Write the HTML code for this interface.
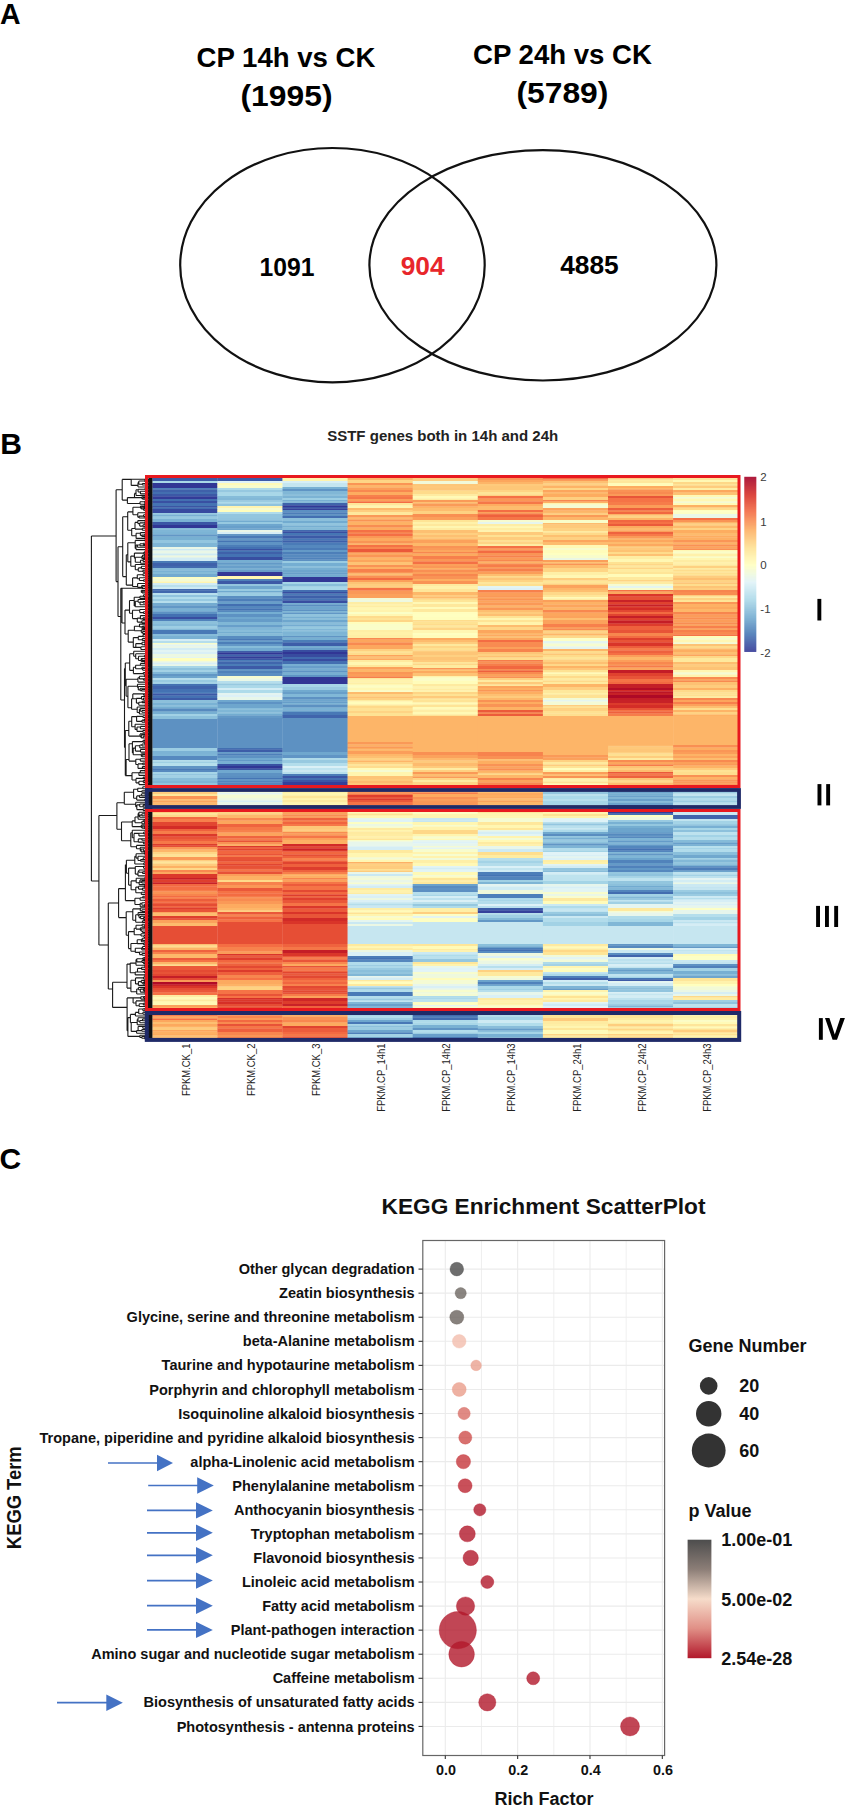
<!DOCTYPE html><html><head><meta charset="utf-8"><style>html,body{margin:0;padding:0;background:#fff;}body{width:845px;height:1805px;overflow:hidden;}svg{display:block;}text{font-family:"Liberation Sans",sans-serif;}</style></head><body>
<svg width="845" height="1805" viewBox="0 0 845 1805">
<rect width="845" height="1805" fill="#fff"/>
<text x="-0.1" y="23.7" font-size="30.2" font-weight="bold" text-anchor="start" fill="#000" textLength="20.6" lengthAdjust="spacingAndGlyphs">A</text>
<text x="0.2" y="453.8" font-size="30" font-weight="bold" text-anchor="start" fill="#000" >B</text>
<text x="-0.4" y="1168.6" font-size="30" font-weight="bold" text-anchor="start" fill="#000" >C</text>
<text x="286" y="66.5" font-size="27.6" font-weight="bold" text-anchor="middle" fill="#000" >CP 14h vs CK</text>
<text x="286.5" y="106.2" font-size="30" font-weight="bold" text-anchor="middle" fill="#000" textLength="92" lengthAdjust="spacingAndGlyphs">(1995)</text>
<text x="562.5" y="63.9" font-size="27.6" font-weight="bold" text-anchor="middle" fill="#000" >CP 24h vs CK</text>
<text x="562.4" y="103" font-size="30" font-weight="bold" text-anchor="middle" fill="#000" textLength="92" lengthAdjust="spacingAndGlyphs">(5789)</text>
<ellipse cx="332.45" cy="265.2" rx="152.25" ry="117.2" fill="none" stroke="#111" stroke-width="2.2"/>
<ellipse cx="542.9" cy="265.3" rx="173.5" ry="115.2" fill="none" stroke="#111" stroke-width="2.2"/>
<text x="287.1" y="275.6" font-size="26.3" font-weight="bold" text-anchor="middle" fill="#000" textLength="55" lengthAdjust="spacingAndGlyphs">1091</text>
<text x="422.6" y="274.6" font-size="26.3" font-weight="bold" text-anchor="middle" fill="#e8262b" >904</text>
<text x="589.5" y="274.3" font-size="26.3" font-weight="bold" text-anchor="middle" fill="#000" >4885</text>
<text x="442.7" y="440.9" font-size="14" font-weight="bold" text-anchor="middle" fill="#222" textLength="231" lengthAdjust="spacingAndGlyphs">SSTF genes both in 14h and 24h</text>
<g><rect x="152.30" y="478.00" width="65.40" height="3.30" fill="#3c5aa7"/><rect x="152.30" y="481.00" width="65.40" height="2.30" fill="#a9d8e8"/><rect x="152.30" y="483.00" width="65.40" height="3.30" fill="#313795"/><rect x="152.30" y="486.00" width="65.40" height="2.30" fill="#313695"/><rect x="152.30" y="488.00" width="65.40" height="1.80" fill="#4f81ba"/><rect x="152.30" y="489.50" width="65.40" height="2.80" fill="#3f61aa"/><rect x="152.30" y="492.00" width="65.40" height="2.30" fill="#436eb0"/><rect x="152.30" y="494.00" width="65.40" height="2.80" fill="#3c58a6"/><rect x="152.30" y="496.50" width="65.40" height="2.80" fill="#333b98"/><rect x="152.30" y="499.00" width="65.40" height="2.30" fill="#436fb1"/><rect x="152.30" y="501.00" width="65.40" height="2.30" fill="#3950a2"/><rect x="152.30" y="503.00" width="65.40" height="3.30" fill="#4573b3"/><rect x="152.30" y="506.00" width="65.40" height="1.80" fill="#3b55a4"/><rect x="152.30" y="507.50" width="65.40" height="1.80" fill="#426db0"/><rect x="152.30" y="509.00" width="65.40" height="4.30" fill="#374a9f"/><rect x="152.30" y="513.00" width="65.40" height="1.80" fill="#99cbe1"/><rect x="152.30" y="514.50" width="65.40" height="2.30" fill="#79b1d3"/><rect x="152.30" y="516.50" width="65.40" height="2.80" fill="#96c8e0"/><rect x="152.30" y="519.00" width="65.40" height="3.30" fill="#7bb2d4"/><rect x="152.30" y="522.00" width="65.40" height="3.30" fill="#3b56a5"/><rect x="152.30" y="525.00" width="65.40" height="3.30" fill="#313695"/><rect x="152.30" y="528.00" width="65.40" height="1.80" fill="#85bbd9"/><rect x="152.30" y="529.50" width="65.40" height="2.80" fill="#7fb6d6"/><rect x="152.30" y="532.00" width="65.40" height="2.80" fill="#7cb4d5"/><rect x="152.30" y="534.50" width="65.40" height="2.30" fill="#6297c6"/><rect x="152.30" y="536.50" width="65.40" height="3.80" fill="#77b0d2"/><rect x="152.30" y="540.00" width="65.40" height="3.30" fill="#93c6df"/><rect x="152.30" y="543.00" width="65.40" height="4.30" fill="#7fb6d6"/><rect x="152.30" y="547.00" width="65.40" height="2.30" fill="#eaf7e7"/><rect x="152.30" y="549.00" width="65.40" height="1.80" fill="#cce9f2"/><rect x="152.30" y="550.50" width="65.40" height="3.30" fill="#e9f7e7"/><rect x="152.30" y="553.50" width="65.40" height="2.30" fill="#cfebf3"/><rect x="152.30" y="555.50" width="65.40" height="2.30" fill="#edf8df"/><rect x="152.30" y="557.50" width="65.40" height="3.80" fill="#d2ecf4"/><rect x="152.30" y="561.00" width="65.40" height="2.30" fill="#497ab6"/><rect x="152.30" y="563.00" width="65.40" height="3.30" fill="#3f61aa"/><rect x="152.30" y="566.00" width="65.40" height="2.30" fill="#426aaf"/><rect x="152.30" y="568.00" width="65.40" height="2.80" fill="#87bcd9"/><rect x="152.30" y="570.50" width="65.40" height="1.80" fill="#7ab2d4"/><rect x="152.30" y="572.00" width="65.40" height="2.30" fill="#85bbd8"/><rect x="152.30" y="574.00" width="65.40" height="3.30" fill="#72aad0"/><rect x="152.30" y="577.00" width="65.40" height="1.80" fill="#fffebe"/><rect x="152.30" y="578.50" width="65.40" height="3.30" fill="#f4fbd3"/><rect x="152.30" y="581.50" width="65.40" height="1.80" fill="#fff5b0"/><rect x="152.30" y="583.00" width="65.40" height="2.30" fill="#d3ecf4"/><rect x="152.30" y="585.00" width="65.40" height="2.30" fill="#b9e0ed"/><rect x="152.30" y="587.00" width="65.40" height="2.30" fill="#cdeaf3"/><rect x="152.30" y="589.00" width="65.40" height="1.80" fill="#426baf"/><rect x="152.30" y="590.50" width="65.40" height="2.80" fill="#4168ad"/><rect x="152.30" y="593.00" width="65.40" height="2.30" fill="#b8dfed"/><rect x="152.30" y="595.00" width="65.40" height="2.30" fill="#91c4de"/><rect x="152.30" y="597.00" width="65.40" height="2.30" fill="#b1dceb"/><rect x="152.30" y="599.00" width="65.40" height="2.30" fill="#98cae1"/><rect x="152.30" y="601.00" width="65.40" height="2.30" fill="#b6deec"/><rect x="152.30" y="603.00" width="65.40" height="2.80" fill="#73abd0"/><rect x="152.30" y="605.50" width="65.40" height="3.30" fill="#6298c6"/><rect x="152.30" y="608.50" width="65.40" height="3.30" fill="#7ab2d4"/><rect x="152.30" y="611.50" width="65.40" height="2.80" fill="#5d92c3"/><rect x="152.30" y="614.00" width="65.40" height="3.30" fill="#4370b2"/><rect x="152.30" y="617.00" width="65.40" height="2.30" fill="#394ea1"/><rect x="152.30" y="619.00" width="65.40" height="2.30" fill="#5082bb"/><rect x="152.30" y="621.00" width="65.40" height="3.30" fill="#8cc0db"/><rect x="152.30" y="624.00" width="65.40" height="2.30" fill="#84bad8"/><rect x="152.30" y="626.00" width="65.40" height="2.80" fill="#9dcee3"/><rect x="152.30" y="628.50" width="65.40" height="1.80" fill="#84bad8"/><rect x="152.30" y="630.00" width="65.40" height="4.30" fill="#4879b6"/><rect x="152.30" y="634.00" width="65.40" height="2.30" fill="#86bbd9"/><rect x="152.30" y="636.00" width="65.40" height="3.30" fill="#79b1d3"/><rect x="152.30" y="639.00" width="65.40" height="2.30" fill="#d4edf5"/><rect x="152.30" y="641.00" width="65.40" height="2.30" fill="#b4ddec"/><rect x="152.30" y="643.00" width="65.40" height="1.80" fill="#f8fccc"/><rect x="152.30" y="644.50" width="65.40" height="1.80" fill="#e2f4f4"/><rect x="152.30" y="646.00" width="65.40" height="2.30" fill="#e9f6e8"/><rect x="152.30" y="648.00" width="65.40" height="2.30" fill="#d2ecf4"/><rect x="152.30" y="650.00" width="65.40" height="2.30" fill="#e2f4f3"/><rect x="152.30" y="652.00" width="65.40" height="2.30" fill="#d9eff6"/><rect x="152.30" y="654.00" width="65.40" height="3.30" fill="#ecf8e2"/><rect x="152.30" y="657.00" width="65.40" height="1.30" fill="#e4f5f0"/><rect x="152.30" y="658.00" width="65.40" height="3.30" fill="#fffebd"/><rect x="152.30" y="661.00" width="65.40" height="1.80" fill="#eef8df"/><rect x="152.30" y="662.50" width="65.40" height="2.30" fill="#d9eff6"/><rect x="152.30" y="664.50" width="65.40" height="1.80" fill="#e9f7e7"/><rect x="152.30" y="666.00" width="65.40" height="2.30" fill="#a6d5e7"/><rect x="152.30" y="668.00" width="65.40" height="2.30" fill="#8fc3dd"/><rect x="152.30" y="670.00" width="65.40" height="2.30" fill="#a3d2e5"/><rect x="152.30" y="672.00" width="65.40" height="2.30" fill="#80b7d6"/><rect x="152.30" y="674.00" width="65.40" height="2.30" fill="#6197c5"/><rect x="152.30" y="676.00" width="65.40" height="2.30" fill="#6ca4cc"/><rect x="152.30" y="678.00" width="65.40" height="2.30" fill="#b6deec"/><rect x="152.30" y="680.00" width="65.40" height="2.80" fill="#99cbe1"/><rect x="152.30" y="682.50" width="65.40" height="1.80" fill="#a1d1e5"/><rect x="152.30" y="684.00" width="65.40" height="2.30" fill="#4471b2"/><rect x="152.30" y="686.00" width="65.40" height="3.30" fill="#3f63ab"/><rect x="152.30" y="689.00" width="65.40" height="3.30" fill="#4472b3"/><rect x="152.30" y="692.00" width="65.40" height="1.80" fill="#4d7eb9"/><rect x="152.30" y="693.50" width="65.40" height="2.30" fill="#3c58a6"/><rect x="152.30" y="695.50" width="65.40" height="2.80" fill="#4471b2"/><rect x="152.30" y="698.00" width="65.40" height="2.30" fill="#3d5ba7"/><rect x="152.30" y="700.00" width="65.40" height="2.80" fill="#8cc0db"/><rect x="152.30" y="702.50" width="65.40" height="3.30" fill="#7ab2d4"/><rect x="152.30" y="705.50" width="65.40" height="1.80" fill="#88bdda"/><rect x="152.30" y="707.00" width="65.40" height="1.80" fill="#75aed1"/><rect x="152.30" y="708.50" width="65.40" height="3.30" fill="#5689be"/><rect x="152.30" y="711.50" width="65.40" height="2.80" fill="#77afd2"/><rect x="152.30" y="714.00" width="65.40" height="2.30" fill="#a1d1e5"/><rect x="152.30" y="716.00" width="65.40" height="3.30" fill="#8bc0db"/><rect x="152.30" y="719.00" width="65.40" height="29.30" fill="#5d91c2"/><rect x="152.30" y="748.00" width="65.40" height="3.30" fill="#9ccde3"/><rect x="152.30" y="751.00" width="65.40" height="3.30" fill="#7cb3d5"/><rect x="152.30" y="754.00" width="65.40" height="2.30" fill="#7eb5d6"/><rect x="152.30" y="756.00" width="65.40" height="4.30" fill="#5689bf"/><rect x="152.30" y="760.00" width="65.40" height="1.80" fill="#b4ddeb"/><rect x="152.30" y="761.50" width="65.40" height="1.80" fill="#9fd0e4"/><rect x="152.30" y="763.00" width="65.40" height="3.30" fill="#b6dfec"/><rect x="152.30" y="766.00" width="65.40" height="2.80" fill="#5f94c4"/><rect x="152.30" y="768.50" width="65.40" height="1.80" fill="#497ab6"/><rect x="152.30" y="770.00" width="65.40" height="2.30" fill="#578abf"/><rect x="152.30" y="772.00" width="65.40" height="2.30" fill="#a6d5e7"/><rect x="152.30" y="774.00" width="65.40" height="1.80" fill="#93c6df"/><rect x="152.30" y="775.50" width="65.40" height="2.80" fill="#a1d1e5"/><rect x="152.30" y="778.00" width="65.40" height="3.30" fill="#87bcd9"/><rect x="152.30" y="781.00" width="65.40" height="2.30" fill="#7eb5d5"/><rect x="152.30" y="783.00" width="65.40" height="2.30" fill="#90c4dd"/><rect x="152.30" y="785.00" width="65.40" height="1.80" fill="#fed889"/><rect x="152.30" y="786.50" width="65.40" height="2.30" fill="#fee293"/><rect x="152.30" y="788.50" width="65.40" height="1.80" fill="#fedc8c"/><rect x="152.30" y="790.00" width="65.40" height="2.30" fill="#feeda3"/><rect x="152.30" y="792.00" width="65.40" height="2.30" fill="#fecd7f"/><rect x="152.30" y="794.00" width="65.40" height="2.30" fill="#fee79a"/><rect x="152.30" y="796.00" width="65.40" height="3.30" fill="#fa9555"/><rect x="152.30" y="799.00" width="65.40" height="1.80" fill="#fdbf71"/><rect x="152.30" y="800.50" width="65.40" height="2.30" fill="#fca65d"/><rect x="152.30" y="802.50" width="65.40" height="2.80" fill="#fdba6c"/><rect x="152.30" y="805.00" width="65.40" height="1.80" fill="#fed586"/><rect x="152.30" y="806.50" width="65.40" height="1.80" fill="#feeca2"/><rect x="152.30" y="808.00" width="65.40" height="2.30" fill="#fedf8f"/><rect x="152.30" y="810.00" width="65.40" height="1.80" fill="#fee191"/><rect x="152.30" y="811.50" width="65.40" height="1.80" fill="#fecd7e"/><rect x="152.30" y="813.00" width="65.40" height="1.80" fill="#fee79b"/><rect x="152.30" y="814.50" width="65.40" height="2.80" fill="#fed989"/><rect x="152.30" y="817.00" width="65.40" height="2.30" fill="#f36b42"/><rect x="152.30" y="819.00" width="65.40" height="3.30" fill="#f7804c"/><rect x="152.30" y="822.00" width="65.40" height="4.30" fill="#e24631"/><rect x="152.30" y="826.00" width="65.40" height="3.30" fill="#d32c27"/><rect x="152.30" y="829.00" width="65.40" height="2.30" fill="#ee613e"/><rect x="152.30" y="831.00" width="65.40" height="3.30" fill="#f67d4a"/><rect x="152.30" y="834.00" width="65.40" height="2.80" fill="#db392b"/><rect x="152.30" y="836.50" width="65.40" height="2.80" fill="#e85337"/><rect x="152.30" y="839.00" width="65.40" height="2.30" fill="#ee603d"/><rect x="152.30" y="841.00" width="65.40" height="3.30" fill="#f67848"/><rect x="152.30" y="844.00" width="65.40" height="1.80" fill="#dd3d2d"/><rect x="152.30" y="845.50" width="65.40" height="1.80" fill="#e65036"/><rect x="152.30" y="847.00" width="65.40" height="2.80" fill="#fa9857"/><rect x="152.30" y="849.50" width="65.40" height="2.80" fill="#fdb76a"/><rect x="152.30" y="852.00" width="65.40" height="2.80" fill="#fed686"/><rect x="152.30" y="854.50" width="65.40" height="2.80" fill="#fee395"/><rect x="152.30" y="857.00" width="65.40" height="3.30" fill="#fa9a58"/><rect x="152.30" y="860.00" width="65.40" height="1.80" fill="#fece7f"/><rect x="152.30" y="861.50" width="65.40" height="2.30" fill="#fee699"/><rect x="152.30" y="863.50" width="65.40" height="2.80" fill="#fecb7c"/><rect x="152.30" y="866.00" width="65.40" height="2.30" fill="#fdb164"/><rect x="152.30" y="868.00" width="65.40" height="2.30" fill="#fed989"/><rect x="152.30" y="870.00" width="65.40" height="2.30" fill="#f88a50"/><rect x="152.30" y="872.00" width="65.40" height="2.30" fill="#fca95f"/><rect x="152.30" y="874.00" width="65.40" height="4.30" fill="#db392b"/><rect x="152.30" y="878.00" width="65.40" height="1.80" fill="#c62027"/><rect x="152.30" y="879.50" width="65.40" height="3.30" fill="#de3f2e"/><rect x="152.30" y="882.50" width="65.40" height="1.80" fill="#c72127"/><rect x="152.30" y="884.00" width="65.40" height="2.80" fill="#f26941"/><rect x="152.30" y="886.50" width="65.40" height="3.80" fill="#f46e44"/><rect x="152.30" y="890.00" width="65.40" height="1.80" fill="#f67d4a"/><rect x="152.30" y="891.50" width="65.40" height="2.80" fill="#f99354"/><rect x="152.30" y="894.00" width="65.40" height="2.30" fill="#f7844d"/><rect x="152.30" y="896.00" width="65.40" height="1.80" fill="#f46c43"/><rect x="152.30" y="897.50" width="65.40" height="1.80" fill="#f7814c"/><rect x="152.30" y="899.00" width="65.40" height="2.30" fill="#ec5d3c"/><rect x="152.30" y="901.00" width="65.40" height="1.80" fill="#f46e43"/><rect x="152.30" y="902.50" width="65.40" height="1.80" fill="#ed5f3d"/><rect x="152.30" y="904.00" width="65.40" height="2.30" fill="#e44c34"/><rect x="152.30" y="906.00" width="65.40" height="1.80" fill="#f26841"/><rect x="152.30" y="907.50" width="65.40" height="1.80" fill="#de3f2e"/><rect x="152.30" y="909.00" width="65.40" height="3.30" fill="#e85337"/><rect x="152.30" y="912.00" width="65.40" height="1.80" fill="#fca75e"/><rect x="152.30" y="913.50" width="65.40" height="2.80" fill="#fdbd6f"/><rect x="152.30" y="916.00" width="65.40" height="2.80" fill="#dd3e2d"/><rect x="152.30" y="918.50" width="65.40" height="1.80" fill="#e95538"/><rect x="152.30" y="920.00" width="65.40" height="3.30" fill="#fba25c"/><rect x="152.30" y="923.00" width="65.40" height="3.30" fill="#fdbb6d"/><rect x="152.30" y="926.00" width="65.40" height="18.30" fill="#e64e35"/><rect x="152.30" y="944.00" width="65.40" height="1.80" fill="#fdbf71"/><rect x="152.30" y="945.50" width="65.40" height="2.30" fill="#fedd8d"/><rect x="152.30" y="947.50" width="65.40" height="2.80" fill="#fdb467"/><rect x="152.30" y="950.00" width="65.40" height="2.30" fill="#ef623e"/><rect x="152.30" y="952.00" width="65.40" height="2.30" fill="#f7834d"/><rect x="152.30" y="954.00" width="65.40" height="4.30" fill="#fdb86a"/><rect x="152.30" y="958.00" width="65.40" height="2.30" fill="#ec5b3b"/><rect x="152.30" y="960.00" width="65.40" height="2.30" fill="#f57245"/><rect x="152.30" y="962.00" width="65.40" height="2.80" fill="#fdb669"/><rect x="152.30" y="964.50" width="65.40" height="1.80" fill="#fedc8d"/><rect x="152.30" y="966.00" width="65.40" height="4.30" fill="#eb593a"/><rect x="152.30" y="970.00" width="65.40" height="2.30" fill="#e44b33"/><rect x="152.30" y="972.00" width="65.40" height="2.30" fill="#e75337"/><rect x="152.30" y="974.00" width="65.40" height="2.30" fill="#e14631"/><rect x="152.30" y="976.00" width="65.40" height="2.30" fill="#c41e27"/><rect x="152.30" y="978.00" width="65.40" height="2.30" fill="#e34a33"/><rect x="152.30" y="980.00" width="65.40" height="2.30" fill="#fa9a58"/><rect x="152.30" y="982.00" width="65.40" height="2.80" fill="#b10b26"/><rect x="152.30" y="984.50" width="65.40" height="1.80" fill="#cb2527"/><rect x="152.30" y="986.00" width="65.40" height="2.30" fill="#da362a"/><rect x="152.30" y="988.00" width="65.40" height="2.30" fill="#e64f35"/><rect x="152.30" y="990.00" width="65.40" height="2.80" fill="#ea5739"/><rect x="152.30" y="992.50" width="65.40" height="2.80" fill="#f57245"/><rect x="152.30" y="995.00" width="65.40" height="2.30" fill="#feeca2"/><rect x="152.30" y="997.00" width="65.40" height="2.80" fill="#fffab8"/><rect x="152.30" y="999.50" width="65.40" height="2.30" fill="#feea9f"/><rect x="152.30" y="1001.50" width="65.40" height="3.80" fill="#fff9b6"/><rect x="152.30" y="1005.00" width="65.40" height="2.30" fill="#fba05b"/><rect x="152.30" y="1007.00" width="65.40" height="4.30" fill="#fdaf62"/><rect x="152.30" y="1011.00" width="65.40" height="1.80" fill="#f57446"/><rect x="152.30" y="1012.50" width="65.40" height="2.80" fill="#fca45d"/><rect x="152.30" y="1015.00" width="65.40" height="1.80" fill="#f7804c"/><rect x="152.30" y="1016.50" width="65.40" height="2.30" fill="#fca85e"/><rect x="152.30" y="1018.50" width="65.40" height="1.80" fill="#f57145"/><rect x="152.30" y="1020.00" width="65.40" height="2.30" fill="#fca75e"/><rect x="152.30" y="1022.00" width="65.40" height="2.30" fill="#fdbf71"/><rect x="152.30" y="1024.00" width="65.40" height="2.30" fill="#fca95e"/><rect x="152.30" y="1026.00" width="65.40" height="1.80" fill="#fdb365"/><rect x="152.30" y="1027.50" width="65.40" height="2.80" fill="#fecb7c"/><rect x="152.30" y="1030.00" width="65.40" height="1.80" fill="#fca55d"/><rect x="152.30" y="1031.50" width="65.40" height="2.80" fill="#fdb063"/><rect x="152.30" y="1034.00" width="65.40" height="1.80" fill="#fdab5f"/><rect x="152.30" y="1035.50" width="65.40" height="2.30" fill="#fdc173"/><rect x="152.30" y="1037.50" width="65.40" height="2.80" fill="#fdad61"/><rect x="217.40" y="478.00" width="65.40" height="3.30" fill="#3c59a6"/><rect x="217.40" y="481.00" width="65.40" height="2.30" fill="#e0f3f8"/><rect x="217.40" y="483.00" width="65.40" height="2.30" fill="#fffab8"/><rect x="217.40" y="485.00" width="65.40" height="3.30" fill="#f8fccb"/><rect x="217.40" y="488.00" width="65.40" height="2.30" fill="#b0dbea"/><rect x="217.40" y="490.00" width="65.40" height="2.80" fill="#96c8e0"/><rect x="217.40" y="492.50" width="65.40" height="3.80" fill="#a8d7e8"/><rect x="217.40" y="496.00" width="65.40" height="2.30" fill="#86bcd9"/><rect x="217.40" y="498.00" width="65.40" height="2.80" fill="#82b8d7"/><rect x="217.40" y="500.50" width="65.40" height="1.80" fill="#9bcce2"/><rect x="217.40" y="502.00" width="65.40" height="1.80" fill="#addaea"/><rect x="217.40" y="503.50" width="65.40" height="2.80" fill="#8fc3dd"/><rect x="217.40" y="506.00" width="65.40" height="2.30" fill="#fff4af"/><rect x="217.40" y="508.00" width="65.40" height="2.30" fill="#f6fbd0"/><rect x="217.40" y="510.00" width="65.40" height="2.30" fill="#fffebd"/><rect x="217.40" y="512.00" width="65.40" height="2.30" fill="#b0dceb"/><rect x="217.40" y="514.00" width="65.40" height="4.30" fill="#93c6df"/><rect x="217.40" y="518.00" width="65.40" height="2.80" fill="#91c4de"/><rect x="217.40" y="520.50" width="65.40" height="1.80" fill="#73acd0"/><rect x="217.40" y="522.00" width="65.40" height="2.30" fill="#97c9e0"/><rect x="217.40" y="524.00" width="65.40" height="2.30" fill="#6ea6ce"/><rect x="217.40" y="526.00" width="65.40" height="2.80" fill="#689fca"/><rect x="217.40" y="528.50" width="65.40" height="1.80" fill="#6ea5cd"/><rect x="217.40" y="530.00" width="65.40" height="2.30" fill="#e9f6e7"/><rect x="217.40" y="532.00" width="65.40" height="2.30" fill="#d6eef5"/><rect x="217.40" y="534.00" width="65.40" height="2.30" fill="#6196c5"/><rect x="217.40" y="536.00" width="65.40" height="2.80" fill="#497ab6"/><rect x="217.40" y="538.50" width="65.40" height="2.30" fill="#6298c6"/><rect x="217.40" y="540.50" width="65.40" height="1.80" fill="#4574b3"/><rect x="217.40" y="542.00" width="65.40" height="3.30" fill="#5f93c4"/><rect x="217.40" y="545.00" width="65.40" height="2.30" fill="#4c7db8"/><rect x="217.40" y="547.00" width="65.40" height="2.30" fill="#4370b2"/><rect x="217.40" y="549.00" width="65.40" height="1.80" fill="#3950a2"/><rect x="217.40" y="550.50" width="65.40" height="1.80" fill="#4676b4"/><rect x="217.40" y="552.00" width="65.40" height="2.30" fill="#3f61aa"/><rect x="217.40" y="554.00" width="65.40" height="3.30" fill="#4472b3"/><rect x="217.40" y="557.00" width="65.40" height="3.30" fill="#384ea1"/><rect x="217.40" y="560.00" width="65.40" height="2.80" fill="#76afd2"/><rect x="217.40" y="562.50" width="65.40" height="1.80" fill="#6399c7"/><rect x="217.40" y="564.00" width="65.40" height="1.80" fill="#6ea6cd"/><rect x="217.40" y="565.50" width="65.40" height="3.30" fill="#689fca"/><rect x="217.40" y="568.50" width="65.40" height="1.80" fill="#77afd2"/><rect x="217.40" y="570.00" width="65.40" height="2.30" fill="#679dc9"/><rect x="217.40" y="572.00" width="65.40" height="2.30" fill="#323997"/><rect x="217.40" y="574.00" width="65.40" height="2.30" fill="#313695"/><rect x="217.40" y="576.00" width="65.40" height="3.30" fill="#fff7b2"/><rect x="217.40" y="579.00" width="65.40" height="2.30" fill="#4e7fb9"/><rect x="217.40" y="581.00" width="65.40" height="3.30" fill="#3c59a6"/><rect x="217.40" y="584.00" width="65.40" height="2.30" fill="#93c5de"/><rect x="217.40" y="586.00" width="65.40" height="3.30" fill="#70a8ce"/><rect x="217.40" y="589.00" width="65.40" height="2.30" fill="#98cae1"/><rect x="217.40" y="591.00" width="65.40" height="1.80" fill="#70a9cf"/><rect x="217.40" y="592.50" width="65.40" height="3.80" fill="#9bcce2"/><rect x="217.40" y="596.00" width="65.40" height="2.80" fill="#5a8ec1"/><rect x="217.40" y="598.50" width="65.40" height="3.30" fill="#4d7eb9"/><rect x="217.40" y="601.50" width="65.40" height="2.80" fill="#689ec9"/><rect x="217.40" y="604.00" width="65.40" height="2.30" fill="#436fb1"/><rect x="217.40" y="606.00" width="65.40" height="2.80" fill="#5487bd"/><rect x="217.40" y="608.50" width="65.40" height="2.30" fill="#4473b3"/><rect x="217.40" y="610.50" width="65.40" height="1.80" fill="#5589be"/><rect x="217.40" y="612.00" width="65.40" height="2.30" fill="#75aed2"/><rect x="217.40" y="614.00" width="65.40" height="3.30" fill="#5d92c3"/><rect x="217.40" y="617.00" width="65.40" height="2.30" fill="#6fa7ce"/><rect x="217.40" y="619.00" width="65.40" height="3.30" fill="#669cc8"/><rect x="217.40" y="622.00" width="65.40" height="3.30" fill="#80b7d6"/><rect x="217.40" y="625.00" width="65.40" height="2.80" fill="#689fca"/><rect x="217.40" y="627.50" width="65.40" height="2.80" fill="#81b7d7"/><rect x="217.40" y="630.00" width="65.40" height="2.30" fill="#88bdda"/><rect x="217.40" y="632.00" width="65.40" height="1.80" fill="#75aed1"/><rect x="217.40" y="633.50" width="65.40" height="2.80" fill="#85bbd8"/><rect x="217.40" y="636.00" width="65.40" height="3.30" fill="#588cc0"/><rect x="217.40" y="639.00" width="65.40" height="1.80" fill="#4979b6"/><rect x="217.40" y="640.50" width="65.40" height="1.80" fill="#679dc9"/><rect x="217.40" y="642.00" width="65.40" height="2.30" fill="#4c7eb8"/><rect x="217.40" y="644.00" width="65.40" height="2.30" fill="#6297c6"/><rect x="217.40" y="646.00" width="65.40" height="2.30" fill="#86bcd9"/><rect x="217.40" y="648.00" width="65.40" height="3.30" fill="#72aad0"/><rect x="217.40" y="651.00" width="65.40" height="1.80" fill="#3d5da8"/><rect x="217.40" y="652.50" width="65.40" height="2.30" fill="#313695"/><rect x="217.40" y="654.50" width="65.40" height="2.30" fill="#3f63ab"/><rect x="217.40" y="656.50" width="65.40" height="2.30" fill="#333d98"/><rect x="217.40" y="658.50" width="65.40" height="1.80" fill="#3b57a5"/><rect x="217.40" y="660.00" width="65.40" height="1.80" fill="#4c7eb8"/><rect x="217.40" y="661.50" width="65.40" height="2.80" fill="#4066ad"/><rect x="217.40" y="664.00" width="65.40" height="2.30" fill="#4b7cb7"/><rect x="217.40" y="666.00" width="65.40" height="3.30" fill="#3d5aa7"/><rect x="217.40" y="669.00" width="65.40" height="1.80" fill="#5e93c4"/><rect x="217.40" y="670.50" width="65.40" height="2.80" fill="#4f81ba"/><rect x="217.40" y="673.00" width="65.40" height="3.30" fill="#5a8dc1"/><rect x="217.40" y="676.00" width="65.40" height="2.80" fill="#f6fbd0"/><rect x="217.40" y="678.50" width="65.40" height="2.80" fill="#e9f7e7"/><rect x="217.40" y="681.00" width="65.40" height="2.80" fill="#b6deec"/><rect x="217.40" y="683.50" width="65.40" height="2.30" fill="#97c9e0"/><rect x="217.40" y="685.50" width="65.40" height="2.80" fill="#abd9e9"/><rect x="217.40" y="688.00" width="65.40" height="2.30" fill="#d4edf5"/><rect x="217.40" y="690.00" width="65.40" height="3.30" fill="#aedbea"/><rect x="217.40" y="693.00" width="65.40" height="2.30" fill="#e4f4f1"/><rect x="217.40" y="695.00" width="65.40" height="2.30" fill="#ddf1f7"/><rect x="217.40" y="697.00" width="65.40" height="3.30" fill="#e7f6ea"/><rect x="217.40" y="700.00" width="65.40" height="2.30" fill="#6fa7ce"/><rect x="217.40" y="702.00" width="65.40" height="2.30" fill="#5e93c4"/><rect x="217.40" y="704.00" width="65.40" height="4.30" fill="#6ea6cd"/><rect x="217.40" y="708.00" width="65.40" height="1.80" fill="#88bdda"/><rect x="217.40" y="709.50" width="65.40" height="3.30" fill="#80b7d6"/><rect x="217.40" y="712.50" width="65.40" height="1.80" fill="#89beda"/><rect x="217.40" y="714.00" width="65.40" height="1.80" fill="#73acd0"/><rect x="217.40" y="715.50" width="65.40" height="2.80" fill="#6298c6"/><rect x="217.40" y="718.00" width="65.40" height="30.30" fill="#5d91c2"/><rect x="217.40" y="748.00" width="65.40" height="1.80" fill="#436fb1"/><rect x="217.40" y="749.50" width="65.40" height="2.80" fill="#3d5da8"/><rect x="217.40" y="752.00" width="65.40" height="1.80" fill="#669dc9"/><rect x="217.40" y="753.50" width="65.40" height="2.30" fill="#4e80ba"/><rect x="217.40" y="755.50" width="65.40" height="2.80" fill="#5d92c3"/><rect x="217.40" y="758.00" width="65.40" height="2.30" fill="#72aad0"/><rect x="217.40" y="760.00" width="65.40" height="1.80" fill="#6399c7"/><rect x="217.40" y="761.50" width="65.40" height="2.80" fill="#78b0d3"/><rect x="217.40" y="764.00" width="65.40" height="2.30" fill="#3951a2"/><rect x="217.40" y="766.00" width="65.40" height="2.80" fill="#313695"/><rect x="217.40" y="768.50" width="65.40" height="1.80" fill="#3b57a5"/><rect x="217.40" y="770.00" width="65.40" height="3.30" fill="#70a8cf"/><rect x="217.40" y="773.00" width="65.40" height="3.30" fill="#5d92c3"/><rect x="217.40" y="776.00" width="65.40" height="2.30" fill="#5a8ec1"/><rect x="217.40" y="778.00" width="65.40" height="1.80" fill="#4575b4"/><rect x="217.40" y="779.50" width="65.40" height="1.80" fill="#6095c4"/><rect x="217.40" y="781.00" width="65.40" height="1.80" fill="#5183bb"/><rect x="217.40" y="782.50" width="65.40" height="2.80" fill="#5486bd"/><rect x="217.40" y="785.00" width="65.40" height="3.30" fill="#f0f9db"/><rect x="217.40" y="788.00" width="65.40" height="1.80" fill="#edf8e0"/><rect x="217.40" y="789.50" width="65.40" height="3.30" fill="#fcfec4"/><rect x="217.40" y="792.50" width="65.40" height="2.30" fill="#e3f4f3"/><rect x="217.40" y="794.50" width="65.40" height="3.80" fill="#f4fbd3"/><rect x="217.40" y="798.00" width="65.40" height="2.80" fill="#edf8e0"/><rect x="217.40" y="800.50" width="65.40" height="1.80" fill="#d7eff5"/><rect x="217.40" y="802.00" width="65.40" height="3.30" fill="#e9f6e8"/><rect x="217.40" y="805.00" width="65.40" height="2.80" fill="#fdc577"/><rect x="217.40" y="807.50" width="65.40" height="2.30" fill="#fecb7c"/><rect x="217.40" y="809.50" width="65.40" height="2.80" fill="#fdc476"/><rect x="217.40" y="812.00" width="65.40" height="2.80" fill="#fed384"/><rect x="217.40" y="814.50" width="65.40" height="3.80" fill="#fdb86a"/><rect x="217.40" y="818.00" width="65.40" height="2.80" fill="#f88850"/><rect x="217.40" y="820.50" width="65.40" height="3.80" fill="#fca65d"/><rect x="217.40" y="824.00" width="65.40" height="3.30" fill="#ef633e"/><rect x="217.40" y="827.00" width="65.40" height="3.30" fill="#f57848"/><rect x="217.40" y="830.00" width="65.40" height="2.80" fill="#f7814c"/><rect x="217.40" y="832.50" width="65.40" height="3.80" fill="#fca45d"/><rect x="217.40" y="836.00" width="65.40" height="2.80" fill="#ef643f"/><rect x="217.40" y="838.50" width="65.40" height="2.30" fill="#f67c4a"/><rect x="217.40" y="840.50" width="65.40" height="1.80" fill="#e85437"/><rect x="217.40" y="842.00" width="65.40" height="2.80" fill="#f99254"/><rect x="217.40" y="844.50" width="65.40" height="1.80" fill="#fdb164"/><rect x="217.40" y="846.00" width="65.40" height="1.80" fill="#db382b"/><rect x="217.40" y="847.50" width="65.40" height="1.80" fill="#ef633f"/><rect x="217.40" y="849.00" width="65.40" height="1.80" fill="#e14631"/><rect x="217.40" y="850.50" width="65.40" height="3.80" fill="#f16640"/><rect x="217.40" y="854.00" width="65.40" height="1.80" fill="#e95538"/><rect x="217.40" y="855.50" width="65.40" height="1.80" fill="#f67a49"/><rect x="217.40" y="857.00" width="65.40" height="3.30" fill="#e75236"/><rect x="217.40" y="860.00" width="65.40" height="1.80" fill="#e54d34"/><rect x="217.40" y="861.50" width="65.40" height="2.80" fill="#f0643f"/><rect x="217.40" y="864.00" width="65.40" height="1.80" fill="#e14531"/><rect x="217.40" y="865.50" width="65.40" height="2.80" fill="#e75236"/><rect x="217.40" y="868.00" width="65.40" height="1.80" fill="#e95639"/><rect x="217.40" y="869.50" width="65.40" height="2.30" fill="#f57446"/><rect x="217.40" y="871.50" width="65.40" height="2.80" fill="#e75237"/><rect x="217.40" y="874.00" width="65.40" height="2.30" fill="#fb9d59"/><rect x="217.40" y="876.00" width="65.40" height="2.30" fill="#fdb163"/><rect x="217.40" y="878.00" width="65.40" height="2.30" fill="#fdb164"/><rect x="217.40" y="880.00" width="65.40" height="2.30" fill="#feda8a"/><rect x="217.40" y="882.00" width="65.40" height="3.30" fill="#f7814c"/><rect x="217.40" y="885.00" width="65.40" height="3.30" fill="#fa9756"/><rect x="217.40" y="888.00" width="65.40" height="3.30" fill="#ea5839"/><rect x="217.40" y="891.00" width="65.40" height="2.80" fill="#f57245"/><rect x="217.40" y="893.50" width="65.40" height="2.80" fill="#f36c42"/><rect x="217.40" y="896.00" width="65.40" height="1.80" fill="#f67c4a"/><rect x="217.40" y="897.50" width="65.40" height="1.80" fill="#f99355"/><rect x="217.40" y="899.00" width="65.40" height="2.30" fill="#f88b51"/><rect x="217.40" y="901.00" width="65.40" height="3.30" fill="#fa9957"/><rect x="217.40" y="904.00" width="65.40" height="4.30" fill="#fdab60"/><rect x="217.40" y="908.00" width="65.40" height="2.80" fill="#fdb668"/><rect x="217.40" y="910.50" width="65.40" height="1.80" fill="#fed081"/><rect x="217.40" y="912.00" width="65.40" height="2.80" fill="#ea5839"/><rect x="217.40" y="914.50" width="65.40" height="2.30" fill="#f7854e"/><rect x="217.40" y="916.50" width="65.40" height="3.30" fill="#ee613d"/><rect x="217.40" y="919.50" width="65.40" height="2.80" fill="#f57346"/><rect x="217.40" y="922.00" width="65.40" height="22.30" fill="#e64e35"/><rect x="217.40" y="944.00" width="65.40" height="3.30" fill="#f46d43"/><rect x="217.40" y="947.00" width="65.40" height="3.30" fill="#f7824d"/><rect x="217.40" y="950.00" width="65.40" height="1.80" fill="#f7844d"/><rect x="217.40" y="951.50" width="65.40" height="2.80" fill="#fa9c59"/><rect x="217.40" y="954.00" width="65.40" height="1.80" fill="#d93529"/><rect x="217.40" y="955.50" width="65.40" height="2.30" fill="#eb5a3a"/><rect x="217.40" y="957.50" width="65.40" height="2.80" fill="#de3e2d"/><rect x="217.40" y="960.00" width="65.40" height="2.30" fill="#f16640"/><rect x="217.40" y="962.00" width="65.40" height="1.80" fill="#f57748"/><rect x="217.40" y="963.50" width="65.40" height="2.80" fill="#ee613d"/><rect x="217.40" y="966.00" width="65.40" height="2.30" fill="#e34932"/><rect x="217.40" y="968.00" width="65.40" height="2.30" fill="#ef633e"/><rect x="217.40" y="970.00" width="65.40" height="2.30" fill="#dc3b2c"/><rect x="217.40" y="972.00" width="65.40" height="3.30" fill="#ee603d"/><rect x="217.40" y="975.00" width="65.40" height="3.30" fill="#f7864f"/><rect x="217.40" y="978.00" width="65.40" height="2.30" fill="#f57245"/><rect x="217.40" y="980.00" width="65.40" height="4.30" fill="#fca95f"/><rect x="217.40" y="984.00" width="65.40" height="2.80" fill="#fdb366"/><rect x="217.40" y="986.50" width="65.40" height="3.80" fill="#fed282"/><rect x="217.40" y="990.00" width="65.40" height="4.30" fill="#f57346"/><rect x="217.40" y="994.00" width="65.40" height="2.30" fill="#e85337"/><rect x="217.40" y="996.00" width="65.40" height="2.30" fill="#f57245"/><rect x="217.40" y="998.00" width="65.40" height="1.80" fill="#d62f27"/><rect x="217.40" y="999.50" width="65.40" height="2.30" fill="#db382b"/><rect x="217.40" y="1001.50" width="65.40" height="2.80" fill="#d62f27"/><rect x="217.40" y="1004.00" width="65.40" height="2.80" fill="#e54d34"/><rect x="217.40" y="1006.50" width="65.40" height="2.30" fill="#e95638"/><rect x="217.40" y="1008.50" width="65.40" height="2.80" fill="#e54d35"/><rect x="217.40" y="1011.00" width="65.40" height="2.80" fill="#f57848"/><rect x="217.40" y="1013.50" width="65.40" height="2.30" fill="#f99254"/><rect x="217.40" y="1015.50" width="65.40" height="2.80" fill="#f7854e"/><rect x="217.40" y="1018.00" width="65.40" height="2.30" fill="#fa9a58"/><rect x="217.40" y="1020.00" width="65.40" height="2.30" fill="#f26941"/><rect x="217.40" y="1022.00" width="65.40" height="2.30" fill="#f88a50"/><rect x="217.40" y="1024.00" width="65.40" height="2.30" fill="#e85337"/><rect x="217.40" y="1026.00" width="65.40" height="2.80" fill="#f57647"/><rect x="217.40" y="1028.50" width="65.40" height="3.80" fill="#ee603d"/><rect x="217.40" y="1032.00" width="65.40" height="3.30" fill="#f8874f"/><rect x="217.40" y="1035.00" width="65.40" height="2.30" fill="#fa9656"/><rect x="217.40" y="1037.00" width="65.40" height="3.30" fill="#f7834d"/><rect x="282.50" y="478.00" width="65.40" height="3.30" fill="#fff4ae"/><rect x="282.50" y="481.00" width="65.40" height="2.30" fill="#d7eff6"/><rect x="282.50" y="483.00" width="65.40" height="4.30" fill="#c5e6f0"/><rect x="282.50" y="487.00" width="65.40" height="2.30" fill="#79b1d3"/><rect x="282.50" y="489.00" width="65.40" height="2.30" fill="#5f94c4"/><rect x="282.50" y="491.00" width="65.40" height="3.30" fill="#81b7d6"/><rect x="282.50" y="494.00" width="65.40" height="1.80" fill="#8abeda"/><rect x="282.50" y="495.50" width="65.40" height="2.80" fill="#7cb3d4"/><rect x="282.50" y="498.00" width="65.40" height="2.30" fill="#9dcee3"/><rect x="282.50" y="500.00" width="65.40" height="1.80" fill="#78b0d3"/><rect x="282.50" y="501.50" width="65.40" height="1.80" fill="#85bad8"/><rect x="282.50" y="503.00" width="65.40" height="2.80" fill="#3f63ab"/><rect x="282.50" y="505.50" width="65.40" height="1.80" fill="#323896"/><rect x="282.50" y="507.00" width="65.40" height="1.80" fill="#3b56a5"/><rect x="282.50" y="508.50" width="65.40" height="1.80" fill="#35429b"/><rect x="282.50" y="510.00" width="65.40" height="2.80" fill="#5c90c2"/><rect x="282.50" y="512.50" width="65.40" height="2.30" fill="#4c7db8"/><rect x="282.50" y="514.50" width="65.40" height="1.80" fill="#5c91c2"/><rect x="282.50" y="516.00" width="65.40" height="2.30" fill="#436eb1"/><rect x="282.50" y="518.00" width="65.40" height="3.30" fill="#8bbfdb"/><rect x="282.50" y="521.00" width="65.40" height="2.30" fill="#72abd0"/><rect x="282.50" y="523.00" width="65.40" height="2.80" fill="#91c4de"/><rect x="282.50" y="525.50" width="65.40" height="2.30" fill="#77afd2"/><rect x="282.50" y="527.50" width="65.40" height="2.80" fill="#85bbd8"/><rect x="282.50" y="530.00" width="65.40" height="1.80" fill="#4169ae"/><rect x="282.50" y="531.50" width="65.40" height="1.80" fill="#394fa1"/><rect x="282.50" y="533.00" width="65.40" height="2.80" fill="#4576b4"/><rect x="282.50" y="535.50" width="65.40" height="3.30" fill="#3c5aa7"/><rect x="282.50" y="538.50" width="65.40" height="2.30" fill="#4777b5"/><rect x="282.50" y="540.50" width="65.40" height="2.30" fill="#3e60aa"/><rect x="282.50" y="542.50" width="65.40" height="2.80" fill="#4a7bb7"/><rect x="282.50" y="545.00" width="65.40" height="3.30" fill="#5588be"/><rect x="282.50" y="548.00" width="65.40" height="2.30" fill="#4a7bb7"/><rect x="282.50" y="550.00" width="65.40" height="2.30" fill="#649ac7"/><rect x="282.50" y="552.00" width="65.40" height="2.80" fill="#4d7fb9"/><rect x="282.50" y="554.50" width="65.40" height="3.30" fill="#568abf"/><rect x="282.50" y="557.50" width="65.40" height="2.30" fill="#5082bb"/><rect x="282.50" y="559.50" width="65.40" height="1.80" fill="#5c90c2"/><rect x="282.50" y="561.00" width="65.40" height="2.30" fill="#99cbe1"/><rect x="282.50" y="563.00" width="65.40" height="3.30" fill="#75aed2"/><rect x="282.50" y="566.00" width="65.40" height="1.80" fill="#8cc0dc"/><rect x="282.50" y="567.50" width="65.40" height="2.80" fill="#77afd2"/><rect x="282.50" y="570.00" width="65.40" height="2.80" fill="#6da5cd"/><rect x="282.50" y="572.50" width="65.40" height="2.30" fill="#689fca"/><rect x="282.50" y="574.50" width="65.40" height="2.80" fill="#72abd0"/><rect x="282.50" y="577.00" width="65.40" height="3.30" fill="#313796"/><rect x="282.50" y="580.00" width="65.40" height="2.30" fill="#313695"/><rect x="282.50" y="582.00" width="65.40" height="2.30" fill="#a4d4e6"/><rect x="282.50" y="584.00" width="65.40" height="2.80" fill="#89beda"/><rect x="282.50" y="586.50" width="65.40" height="3.80" fill="#a8d6e8"/><rect x="282.50" y="590.00" width="65.40" height="2.30" fill="#436eb1"/><rect x="282.50" y="592.00" width="65.40" height="1.80" fill="#394ea1"/><rect x="282.50" y="593.50" width="65.40" height="2.30" fill="#4979b6"/><rect x="282.50" y="595.50" width="65.40" height="3.30" fill="#3e60aa"/><rect x="282.50" y="598.50" width="65.40" height="2.30" fill="#4574b4"/><rect x="282.50" y="600.50" width="65.40" height="2.80" fill="#384da0"/><rect x="282.50" y="603.00" width="65.40" height="1.80" fill="#75aed2"/><rect x="282.50" y="604.50" width="65.40" height="2.30" fill="#5b8fc2"/><rect x="282.50" y="606.50" width="65.40" height="3.30" fill="#6da5cd"/><rect x="282.50" y="609.50" width="65.40" height="1.80" fill="#5d92c3"/><rect x="282.50" y="611.00" width="65.40" height="1.80" fill="#80b7d6"/><rect x="282.50" y="612.50" width="65.40" height="1.80" fill="#6197c6"/><rect x="282.50" y="614.00" width="65.40" height="2.80" fill="#90c3dd"/><rect x="282.50" y="616.50" width="65.40" height="2.30" fill="#77afd2"/><rect x="282.50" y="618.50" width="65.40" height="1.80" fill="#89beda"/><rect x="282.50" y="620.00" width="65.40" height="2.80" fill="#6ea6cd"/><rect x="282.50" y="622.50" width="65.40" height="2.30" fill="#88bdda"/><rect x="282.50" y="624.50" width="65.40" height="2.30" fill="#74acd1"/><rect x="282.50" y="626.50" width="65.40" height="2.80" fill="#95c8df"/><rect x="282.50" y="629.00" width="65.40" height="1.80" fill="#81b7d7"/><rect x="282.50" y="630.50" width="65.40" height="1.80" fill="#89beda"/><rect x="282.50" y="632.00" width="65.40" height="2.30" fill="#7db4d5"/><rect x="282.50" y="634.00" width="65.40" height="2.30" fill="#7fb6d6"/><rect x="282.50" y="636.00" width="65.40" height="1.80" fill="#6095c4"/><rect x="282.50" y="637.50" width="65.40" height="2.80" fill="#76afd2"/><rect x="282.50" y="640.00" width="65.40" height="2.80" fill="#4c7db8"/><rect x="282.50" y="642.50" width="65.40" height="3.80" fill="#3d5da8"/><rect x="282.50" y="646.00" width="65.40" height="1.80" fill="#71a9cf"/><rect x="282.50" y="647.50" width="65.40" height="2.80" fill="#689fca"/><rect x="282.50" y="650.00" width="65.40" height="2.30" fill="#384ca0"/><rect x="282.50" y="652.00" width="65.40" height="2.30" fill="#313695"/><rect x="282.50" y="654.00" width="65.40" height="3.30" fill="#384b9f"/><rect x="282.50" y="657.00" width="65.40" height="2.30" fill="#4169ae"/><rect x="282.50" y="659.00" width="65.40" height="2.30" fill="#384ca0"/><rect x="282.50" y="661.00" width="65.40" height="3.30" fill="#436fb1"/><rect x="282.50" y="664.00" width="65.40" height="2.30" fill="#77afd2"/><rect x="282.50" y="666.00" width="65.40" height="2.80" fill="#689fca"/><rect x="282.50" y="668.50" width="65.40" height="2.30" fill="#75aed1"/><rect x="282.50" y="670.50" width="65.40" height="2.30" fill="#5f94c4"/><rect x="282.50" y="672.50" width="65.40" height="2.80" fill="#77afd2"/><rect x="282.50" y="675.00" width="65.40" height="2.30" fill="#5f94c4"/><rect x="282.50" y="677.00" width="65.40" height="2.30" fill="#313695"/><rect x="282.50" y="679.00" width="65.40" height="3.30" fill="#313695"/><rect x="282.50" y="682.00" width="65.40" height="2.30" fill="#313695"/><rect x="282.50" y="684.00" width="65.40" height="3.30" fill="#a7d6e7"/><rect x="282.50" y="687.00" width="65.40" height="3.30" fill="#99cae1"/><rect x="282.50" y="690.00" width="65.40" height="2.30" fill="#71aacf"/><rect x="282.50" y="692.00" width="65.40" height="2.30" fill="#689fc9"/><rect x="282.50" y="694.00" width="65.40" height="3.30" fill="#81b8d7"/><rect x="282.50" y="697.00" width="65.40" height="2.80" fill="#5e92c3"/><rect x="282.50" y="699.50" width="65.40" height="2.30" fill="#6da5cd"/><rect x="282.50" y="701.50" width="65.40" height="1.80" fill="#679ec9"/><rect x="282.50" y="703.00" width="65.40" height="1.80" fill="#7db4d5"/><rect x="282.50" y="704.50" width="65.40" height="3.30" fill="#5c91c2"/><rect x="282.50" y="707.50" width="65.40" height="3.30" fill="#7ab2d4"/><rect x="282.50" y="710.50" width="65.40" height="1.80" fill="#699fca"/><rect x="282.50" y="712.00" width="65.40" height="3.30" fill="#4878b6"/><rect x="282.50" y="715.00" width="65.40" height="3.30" fill="#4064ac"/><rect x="282.50" y="718.00" width="65.40" height="34.30" fill="#5d91c2"/><rect x="282.50" y="752.00" width="65.40" height="3.30" fill="#6fa7ce"/><rect x="282.50" y="755.00" width="65.40" height="3.30" fill="#6095c5"/><rect x="282.50" y="758.00" width="65.40" height="2.30" fill="#b0dbea"/><rect x="282.50" y="760.00" width="65.40" height="3.30" fill="#97c9e0"/><rect x="282.50" y="763.00" width="65.40" height="3.30" fill="#b3ddeb"/><rect x="282.50" y="766.00" width="65.40" height="2.30" fill="#daf0f6"/><rect x="282.50" y="768.00" width="65.40" height="2.30" fill="#bfe3ef"/><rect x="282.50" y="770.00" width="65.40" height="2.30" fill="#cce9f2"/><rect x="282.50" y="772.00" width="65.40" height="2.30" fill="#b7dfec"/><rect x="282.50" y="774.00" width="65.40" height="2.30" fill="#4b7cb8"/><rect x="282.50" y="776.00" width="65.40" height="2.30" fill="#3a54a4"/><rect x="282.50" y="778.00" width="65.40" height="2.30" fill="#4470b2"/><rect x="282.50" y="780.00" width="65.40" height="2.30" fill="#3b56a5"/><rect x="282.50" y="782.00" width="65.40" height="3.30" fill="#343f9a"/><rect x="282.50" y="785.00" width="65.40" height="2.30" fill="#fee293"/><rect x="282.50" y="787.00" width="65.40" height="3.30" fill="#fff7b3"/><rect x="282.50" y="790.00" width="65.40" height="3.30" fill="#feefa6"/><rect x="282.50" y="793.00" width="65.40" height="2.80" fill="#fff5b0"/><rect x="282.50" y="795.50" width="65.40" height="3.30" fill="#fee597"/><rect x="282.50" y="798.50" width="65.40" height="1.80" fill="#fff3ac"/><rect x="282.50" y="800.00" width="65.40" height="2.80" fill="#feea9f"/><rect x="282.50" y="802.50" width="65.40" height="2.80" fill="#fff5af"/><rect x="282.50" y="805.00" width="65.40" height="2.30" fill="#f88c51"/><rect x="282.50" y="807.00" width="65.40" height="2.80" fill="#fca75e"/><rect x="282.50" y="809.50" width="65.40" height="2.80" fill="#f67848"/><rect x="282.50" y="812.00" width="65.40" height="2.80" fill="#fba25c"/><rect x="282.50" y="814.50" width="65.40" height="2.30" fill="#f88d52"/><rect x="282.50" y="816.50" width="65.40" height="1.80" fill="#fb9c59"/><rect x="282.50" y="818.00" width="65.40" height="2.80" fill="#ee613d"/><rect x="282.50" y="820.50" width="65.40" height="1.80" fill="#f67e4b"/><rect x="282.50" y="822.00" width="65.40" height="2.30" fill="#f0643f"/><rect x="282.50" y="824.00" width="65.40" height="2.30" fill="#f67848"/><rect x="282.50" y="826.00" width="65.40" height="3.30" fill="#fdc778"/><rect x="282.50" y="829.00" width="65.40" height="1.80" fill="#fecc7d"/><rect x="282.50" y="830.50" width="65.40" height="1.80" fill="#fdc173"/><rect x="282.50" y="832.00" width="65.40" height="1.80" fill="#f88d52"/><rect x="282.50" y="833.50" width="65.40" height="2.30" fill="#fb9d59"/><rect x="282.50" y="835.50" width="65.40" height="2.80" fill="#f57547"/><rect x="282.50" y="838.00" width="65.40" height="2.30" fill="#fba15b"/><rect x="282.50" y="840.00" width="65.40" height="4.30" fill="#fdb164"/><rect x="282.50" y="844.00" width="65.40" height="2.80" fill="#d22b27"/><rect x="282.50" y="846.50" width="65.40" height="2.30" fill="#e34832"/><rect x="282.50" y="848.50" width="65.40" height="1.80" fill="#cb2427"/><rect x="282.50" y="850.00" width="65.40" height="1.80" fill="#db382b"/><rect x="282.50" y="851.50" width="65.40" height="3.30" fill="#f16740"/><rect x="282.50" y="854.50" width="65.40" height="1.80" fill="#e54e35"/><rect x="282.50" y="856.00" width="65.40" height="2.30" fill="#ef623e"/><rect x="282.50" y="858.00" width="65.40" height="2.80" fill="#f7854e"/><rect x="282.50" y="860.50" width="65.40" height="1.80" fill="#ee603d"/><rect x="282.50" y="862.00" width="65.40" height="2.30" fill="#e04430"/><rect x="282.50" y="864.00" width="65.40" height="3.30" fill="#ee603d"/><rect x="282.50" y="867.00" width="65.40" height="3.30" fill="#dd3d2d"/><rect x="282.50" y="870.00" width="65.40" height="2.30" fill="#ee613e"/><rect x="282.50" y="872.00" width="65.40" height="2.30" fill="#f7804c"/><rect x="282.50" y="874.00" width="65.40" height="1.80" fill="#fdac60"/><rect x="282.50" y="875.50" width="65.40" height="2.80" fill="#fdaf62"/><rect x="282.50" y="878.00" width="65.40" height="1.80" fill="#f7844e"/><rect x="282.50" y="879.50" width="65.40" height="2.80" fill="#fba05b"/><rect x="282.50" y="882.00" width="65.40" height="2.30" fill="#f57547"/><rect x="282.50" y="884.00" width="65.40" height="2.30" fill="#ec5b3b"/><rect x="282.50" y="886.00" width="65.40" height="4.30" fill="#f57446"/><rect x="282.50" y="890.00" width="65.40" height="2.30" fill="#e34932"/><rect x="282.50" y="892.00" width="65.40" height="2.80" fill="#f26941"/><rect x="282.50" y="894.50" width="65.40" height="1.80" fill="#dd3d2d"/><rect x="282.50" y="896.00" width="65.40" height="1.80" fill="#f16740"/><rect x="282.50" y="897.50" width="65.40" height="2.80" fill="#df402e"/><rect x="282.50" y="900.00" width="65.40" height="3.30" fill="#e95639"/><rect x="282.50" y="903.00" width="65.40" height="3.30" fill="#f57446"/><rect x="282.50" y="906.00" width="65.40" height="2.80" fill="#db382b"/><rect x="282.50" y="908.50" width="65.40" height="3.80" fill="#eb593a"/><rect x="282.50" y="912.00" width="65.40" height="2.30" fill="#d93429"/><rect x="282.50" y="914.00" width="65.40" height="4.30" fill="#e85538"/><rect x="282.50" y="918.00" width="65.40" height="3.30" fill="#d02a27"/><rect x="282.50" y="921.00" width="65.40" height="3.30" fill="#d93429"/><rect x="282.50" y="924.00" width="65.40" height="20.30" fill="#e64e35"/><rect x="282.50" y="944.00" width="65.40" height="3.30" fill="#ef633e"/><rect x="282.50" y="947.00" width="65.40" height="3.30" fill="#f57748"/><rect x="282.50" y="950.00" width="65.40" height="3.30" fill="#c41d27"/><rect x="282.50" y="953.00" width="65.40" height="3.30" fill="#da362a"/><rect x="282.50" y="956.00" width="65.40" height="1.80" fill="#eb593a"/><rect x="282.50" y="957.50" width="65.40" height="2.30" fill="#f77f4c"/><rect x="282.50" y="959.50" width="65.40" height="2.80" fill="#e95538"/><rect x="282.50" y="962.00" width="65.40" height="2.30" fill="#f88850"/><rect x="282.50" y="964.00" width="65.40" height="2.30" fill="#fca95f"/><rect x="282.50" y="966.00" width="65.40" height="1.80" fill="#e85437"/><rect x="282.50" y="967.50" width="65.40" height="3.30" fill="#f67948"/><rect x="282.50" y="970.50" width="65.40" height="1.80" fill="#f0643f"/><rect x="282.50" y="972.00" width="65.40" height="1.80" fill="#e14631"/><rect x="282.50" y="973.50" width="65.40" height="2.30" fill="#eb593a"/><rect x="282.50" y="975.50" width="65.40" height="2.80" fill="#e24832"/><rect x="282.50" y="978.00" width="65.40" height="2.30" fill="#ef623e"/><rect x="282.50" y="980.00" width="65.40" height="2.30" fill="#f57547"/><rect x="282.50" y="982.00" width="65.40" height="2.30" fill="#f16640"/><rect x="282.50" y="984.00" width="65.40" height="2.30" fill="#f7824d"/><rect x="282.50" y="986.00" width="65.40" height="2.30" fill="#e34832"/><rect x="282.50" y="988.00" width="65.40" height="2.80" fill="#e85337"/><rect x="282.50" y="990.50" width="65.40" height="2.30" fill="#e24832"/><rect x="282.50" y="992.50" width="65.40" height="1.80" fill="#e85438"/><rect x="282.50" y="994.00" width="65.40" height="2.30" fill="#f67c4a"/><rect x="282.50" y="996.00" width="65.40" height="2.30" fill="#fba25b"/><rect x="282.50" y="998.00" width="65.40" height="3.30" fill="#ce2727"/><rect x="282.50" y="1001.00" width="65.40" height="3.30" fill="#dd3c2c"/><rect x="282.50" y="1004.00" width="65.40" height="2.30" fill="#c92227"/><rect x="282.50" y="1006.00" width="65.40" height="2.80" fill="#ef633e"/><rect x="282.50" y="1008.50" width="65.40" height="2.80" fill="#f7844e"/><rect x="282.50" y="1011.00" width="65.40" height="2.80" fill="#fba05a"/><rect x="282.50" y="1013.50" width="65.40" height="3.30" fill="#fdb265"/><rect x="282.50" y="1016.50" width="65.40" height="3.80" fill="#f99455"/><rect x="282.50" y="1020.00" width="65.40" height="2.80" fill="#f8874f"/><rect x="282.50" y="1022.50" width="65.40" height="3.80" fill="#fcaa5f"/><rect x="282.50" y="1026.00" width="65.40" height="2.30" fill="#e04330"/><rect x="282.50" y="1028.00" width="65.40" height="4.30" fill="#ec5c3b"/><rect x="282.50" y="1032.00" width="65.40" height="2.30" fill="#f36a42"/><rect x="282.50" y="1034.00" width="65.40" height="2.80" fill="#f57748"/><rect x="282.50" y="1036.50" width="65.40" height="2.30" fill="#ec5d3c"/><rect x="282.50" y="1038.50" width="65.40" height="1.80" fill="#f57748"/><rect x="347.60" y="478.00" width="65.40" height="2.30" fill="#fdb467"/><rect x="347.60" y="480.00" width="65.40" height="3.30" fill="#fed586"/><rect x="347.60" y="483.00" width="65.40" height="2.30" fill="#fa9555"/><rect x="347.60" y="485.00" width="65.40" height="2.80" fill="#fdb669"/><rect x="347.60" y="487.50" width="65.40" height="2.80" fill="#fb9d59"/><rect x="347.60" y="490.00" width="65.40" height="2.30" fill="#f88850"/><rect x="347.60" y="492.00" width="65.40" height="3.30" fill="#fdac60"/><rect x="347.60" y="495.00" width="65.40" height="2.30" fill="#f7804c"/><rect x="347.60" y="497.00" width="65.40" height="2.30" fill="#f57748"/><rect x="347.60" y="499.00" width="65.40" height="2.80" fill="#fb9f5a"/><rect x="347.60" y="501.50" width="65.40" height="1.80" fill="#f46c43"/><rect x="347.60" y="503.00" width="65.40" height="2.80" fill="#fee699"/><rect x="347.60" y="505.50" width="65.40" height="2.80" fill="#fff5b0"/><rect x="347.60" y="508.00" width="65.40" height="2.30" fill="#fdba6d"/><rect x="347.60" y="510.00" width="65.40" height="2.30" fill="#fece7f"/><rect x="347.60" y="512.00" width="65.40" height="3.30" fill="#fee89c"/><rect x="347.60" y="515.00" width="65.40" height="2.80" fill="#fa9957"/><rect x="347.60" y="517.50" width="65.40" height="2.30" fill="#fdba6d"/><rect x="347.60" y="519.50" width="65.40" height="2.30" fill="#f99355"/><rect x="347.60" y="521.50" width="65.40" height="3.80" fill="#fdb265"/><rect x="347.60" y="525.00" width="65.40" height="2.80" fill="#f88d52"/><rect x="347.60" y="527.50" width="65.40" height="2.80" fill="#fdab5f"/><rect x="347.60" y="530.00" width="65.40" height="2.30" fill="#f47045"/><rect x="347.60" y="532.00" width="65.40" height="1.80" fill="#f7854e"/><rect x="347.60" y="533.50" width="65.40" height="2.80" fill="#f46f44"/><rect x="347.60" y="536.00" width="65.40" height="2.30" fill="#fa9756"/><rect x="347.60" y="538.00" width="65.40" height="3.30" fill="#fcaa5f"/><rect x="347.60" y="541.00" width="65.40" height="2.80" fill="#f99555"/><rect x="347.60" y="543.50" width="65.40" height="1.80" fill="#fdb568"/><rect x="347.60" y="545.00" width="65.40" height="2.30" fill="#f57245"/><rect x="347.60" y="547.00" width="65.40" height="2.30" fill="#f8884f"/><rect x="347.60" y="549.00" width="65.40" height="3.30" fill="#eb593a"/><rect x="347.60" y="552.00" width="65.40" height="1.80" fill="#f99455"/><rect x="347.60" y="553.50" width="65.40" height="1.80" fill="#fca85e"/><rect x="347.60" y="555.00" width="65.40" height="2.80" fill="#fa9656"/><rect x="347.60" y="557.50" width="65.40" height="2.80" fill="#fdb567"/><rect x="347.60" y="560.00" width="65.40" height="2.30" fill="#fca65d"/><rect x="347.60" y="562.00" width="65.40" height="3.30" fill="#fdc375"/><rect x="347.60" y="565.00" width="65.40" height="2.30" fill="#f99355"/><rect x="347.60" y="567.00" width="65.40" height="2.30" fill="#fdb164"/><rect x="347.60" y="569.00" width="65.40" height="3.30" fill="#f7804c"/><rect x="347.60" y="572.00" width="65.40" height="1.80" fill="#f99555"/><rect x="347.60" y="573.50" width="65.40" height="2.30" fill="#fdbf71"/><rect x="347.60" y="575.50" width="65.40" height="2.80" fill="#f99154"/><rect x="347.60" y="578.00" width="65.40" height="2.30" fill="#f36b42"/><rect x="347.60" y="580.00" width="65.40" height="2.30" fill="#fb9f5a"/><rect x="347.60" y="582.00" width="65.40" height="2.30" fill="#fdc375"/><rect x="347.60" y="584.00" width="65.40" height="2.80" fill="#fecd7e"/><rect x="347.60" y="586.50" width="65.40" height="1.80" fill="#fdc476"/><rect x="347.60" y="588.00" width="65.40" height="2.80" fill="#f57145"/><rect x="347.60" y="590.50" width="65.40" height="3.80" fill="#fa9857"/><rect x="347.60" y="594.00" width="65.40" height="4.30" fill="#fba15b"/><rect x="347.60" y="598.00" width="65.40" height="2.80" fill="#f3fad5"/><rect x="347.60" y="600.50" width="65.40" height="1.80" fill="#ecf8e2"/><rect x="347.60" y="602.00" width="65.40" height="2.80" fill="#feeda4"/><rect x="347.60" y="604.50" width="65.40" height="1.80" fill="#fff2ab"/><rect x="347.60" y="606.00" width="65.40" height="1.80" fill="#feeda3"/><rect x="347.60" y="607.50" width="65.40" height="2.80" fill="#fff7b2"/><rect x="347.60" y="610.00" width="65.40" height="2.30" fill="#fff3ad"/><rect x="347.60" y="612.00" width="65.40" height="2.30" fill="#fbfec6"/><rect x="347.60" y="614.00" width="65.40" height="2.30" fill="#fff7b3"/><rect x="347.60" y="616.00" width="65.40" height="2.30" fill="#fedb8c"/><rect x="347.60" y="618.00" width="65.40" height="2.30" fill="#fee395"/><rect x="347.60" y="620.00" width="65.40" height="2.30" fill="#fed586"/><rect x="347.60" y="622.00" width="65.40" height="2.30" fill="#fffdbc"/><rect x="347.60" y="624.00" width="65.40" height="2.30" fill="#fafdc8"/><rect x="347.60" y="626.00" width="65.40" height="4.30" fill="#fafdc9"/><rect x="347.60" y="630.00" width="65.40" height="2.30" fill="#feeea5"/><rect x="347.60" y="632.00" width="65.40" height="3.30" fill="#fff1a9"/><rect x="347.60" y="635.00" width="65.40" height="3.30" fill="#feeea5"/><rect x="347.60" y="638.00" width="65.40" height="1.80" fill="#f88850"/><rect x="347.60" y="639.50" width="65.40" height="3.30" fill="#fca65d"/><rect x="347.60" y="642.50" width="65.40" height="2.80" fill="#f88a51"/><rect x="347.60" y="645.00" width="65.40" height="4.30" fill="#fca75e"/><rect x="347.60" y="649.00" width="65.40" height="2.30" fill="#fed081"/><rect x="347.60" y="651.00" width="65.40" height="1.80" fill="#fee191"/><rect x="347.60" y="652.50" width="65.40" height="2.80" fill="#fedc8c"/><rect x="347.60" y="655.00" width="65.40" height="1.80" fill="#fca45c"/><rect x="347.60" y="656.50" width="65.40" height="2.30" fill="#fdc173"/><rect x="347.60" y="658.50" width="65.40" height="1.80" fill="#fdab60"/><rect x="347.60" y="660.00" width="65.40" height="2.30" fill="#feea9f"/><rect x="347.60" y="662.00" width="65.40" height="3.30" fill="#fff6b1"/><rect x="347.60" y="665.00" width="65.40" height="2.30" fill="#fee79a"/><rect x="347.60" y="667.00" width="65.40" height="2.80" fill="#fba15b"/><rect x="347.60" y="669.50" width="65.40" height="2.80" fill="#fdb668"/><rect x="347.60" y="672.00" width="65.40" height="2.30" fill="#fa9656"/><rect x="347.60" y="674.00" width="65.40" height="2.80" fill="#fb9d59"/><rect x="347.60" y="676.50" width="65.40" height="1.80" fill="#f67e4b"/><rect x="347.60" y="678.00" width="65.40" height="1.80" fill="#fee89c"/><rect x="347.60" y="679.50" width="65.40" height="3.30" fill="#fff3ad"/><rect x="347.60" y="682.50" width="65.40" height="1.80" fill="#feefa7"/><rect x="347.60" y="684.00" width="65.40" height="1.80" fill="#fff7b3"/><rect x="347.60" y="685.50" width="65.40" height="2.30" fill="#fcfec4"/><rect x="347.60" y="687.50" width="65.40" height="3.30" fill="#fff8b4"/><rect x="347.60" y="690.50" width="65.40" height="1.80" fill="#fafdc9"/><rect x="347.60" y="692.00" width="65.40" height="2.30" fill="#fdbb6d"/><rect x="347.60" y="694.00" width="65.40" height="2.80" fill="#fed586"/><rect x="347.60" y="696.50" width="65.40" height="1.80" fill="#fdc375"/><rect x="347.60" y="698.00" width="65.40" height="2.30" fill="#fed283"/><rect x="347.60" y="700.00" width="65.40" height="1.80" fill="#feeca1"/><rect x="347.60" y="701.50" width="65.40" height="3.30" fill="#fffdbb"/><rect x="347.60" y="704.50" width="65.40" height="1.80" fill="#fee99e"/><rect x="347.60" y="706.00" width="65.40" height="2.30" fill="#fed989"/><rect x="347.60" y="708.00" width="65.40" height="3.30" fill="#fee294"/><rect x="347.60" y="711.00" width="65.40" height="2.30" fill="#fed485"/><rect x="347.60" y="713.00" width="65.40" height="3.30" fill="#fee293"/><rect x="347.60" y="716.00" width="65.40" height="26.30" fill="#fdb568"/><rect x="347.60" y="742.00" width="65.40" height="2.80" fill="#fa9957"/><rect x="347.60" y="744.50" width="65.40" height="2.30" fill="#fdb063"/><rect x="347.60" y="746.50" width="65.40" height="1.80" fill="#fa9a58"/><rect x="347.60" y="748.00" width="65.40" height="1.80" fill="#fcaa5f"/><rect x="347.60" y="749.50" width="65.40" height="1.80" fill="#fdb769"/><rect x="347.60" y="751.00" width="65.40" height="3.30" fill="#fb9e5a"/><rect x="347.60" y="754.00" width="65.40" height="2.30" fill="#fdb769"/><rect x="347.60" y="756.00" width="65.40" height="2.30" fill="#fdc072"/><rect x="347.60" y="758.00" width="65.40" height="2.80" fill="#fed283"/><rect x="347.60" y="760.50" width="65.40" height="1.80" fill="#fdb568"/><rect x="347.60" y="762.00" width="65.40" height="2.30" fill="#fed283"/><rect x="347.60" y="764.00" width="65.40" height="1.80" fill="#fee699"/><rect x="347.60" y="765.50" width="65.40" height="2.80" fill="#fedd8e"/><rect x="347.60" y="768.00" width="65.40" height="2.30" fill="#fffcba"/><rect x="347.60" y="770.00" width="65.40" height="2.30" fill="#f5fbd2"/><rect x="347.60" y="772.00" width="65.40" height="4.30" fill="#fff5af"/><rect x="347.60" y="776.00" width="65.40" height="3.30" fill="#fdc476"/><rect x="347.60" y="779.00" width="65.40" height="2.30" fill="#fec97a"/><rect x="347.60" y="781.00" width="65.40" height="2.30" fill="#fdbb6e"/><rect x="347.60" y="783.00" width="65.40" height="2.30" fill="#fec779"/><rect x="347.60" y="785.00" width="65.40" height="1.80" fill="#f67c4a"/><rect x="347.60" y="786.50" width="65.40" height="2.80" fill="#fba25c"/><rect x="347.60" y="789.00" width="65.40" height="2.80" fill="#f57346"/><rect x="347.60" y="791.50" width="65.40" height="2.30" fill="#fa9757"/><rect x="347.60" y="793.50" width="65.40" height="1.80" fill="#f67a49"/><rect x="347.60" y="795.00" width="65.40" height="2.30" fill="#de3e2d"/><rect x="347.60" y="797.00" width="65.40" height="1.80" fill="#ea5739"/><rect x="347.60" y="798.50" width="65.40" height="1.80" fill="#dc3a2c"/><rect x="347.60" y="800.00" width="65.40" height="2.30" fill="#ea5739"/><rect x="347.60" y="802.00" width="65.40" height="3.30" fill="#f57346"/><rect x="347.60" y="805.00" width="65.40" height="1.80" fill="#fee69a"/><rect x="347.60" y="806.50" width="65.40" height="2.80" fill="#fffdbc"/><rect x="347.60" y="809.00" width="65.40" height="2.80" fill="#fee598"/><rect x="347.60" y="811.50" width="65.40" height="2.30" fill="#fff8b4"/><rect x="347.60" y="813.50" width="65.40" height="2.30" fill="#fee292"/><rect x="347.60" y="815.50" width="65.40" height="2.80" fill="#fff8b4"/><rect x="347.60" y="818.00" width="65.40" height="2.30" fill="#e5f5ee"/><rect x="347.60" y="820.00" width="65.40" height="2.30" fill="#def2f7"/><rect x="347.60" y="822.00" width="65.40" height="2.30" fill="#fcfec4"/><rect x="347.60" y="824.00" width="65.40" height="2.80" fill="#ecf8e2"/><rect x="347.60" y="826.50" width="65.40" height="1.80" fill="#f7fccd"/><rect x="347.60" y="828.00" width="65.40" height="2.30" fill="#feeaa0"/><rect x="347.60" y="830.00" width="65.40" height="1.80" fill="#fff5af"/><rect x="347.60" y="831.50" width="65.40" height="2.80" fill="#feeaa0"/><rect x="347.60" y="834.00" width="65.40" height="2.80" fill="#feeca2"/><rect x="347.60" y="836.50" width="65.40" height="2.30" fill="#fff1aa"/><rect x="347.60" y="838.50" width="65.40" height="1.80" fill="#fee597"/><rect x="347.60" y="840.00" width="65.40" height="1.80" fill="#f8fccb"/><rect x="347.60" y="841.50" width="65.40" height="2.80" fill="#e7f6eb"/><rect x="347.60" y="844.00" width="65.40" height="2.80" fill="#e7f6ec"/><rect x="347.60" y="846.50" width="65.40" height="3.80" fill="#d4edf5"/><rect x="347.60" y="850.00" width="65.40" height="3.30" fill="#fee99e"/><rect x="347.60" y="853.00" width="65.40" height="3.30" fill="#fff6b2"/><rect x="347.60" y="856.00" width="65.40" height="1.80" fill="#fff6b1"/><rect x="347.60" y="857.50" width="65.40" height="2.30" fill="#f2fad6"/><rect x="347.60" y="859.50" width="65.40" height="2.80" fill="#fff7b3"/><rect x="347.60" y="862.00" width="65.40" height="1.80" fill="#fdb164"/><rect x="347.60" y="863.50" width="65.40" height="2.80" fill="#fed081"/><rect x="347.60" y="866.00" width="65.40" height="3.30" fill="#fecc7d"/><rect x="347.60" y="869.00" width="65.40" height="1.80" fill="#fee192"/><rect x="347.60" y="870.50" width="65.40" height="1.80" fill="#fecb7c"/><rect x="347.60" y="872.00" width="65.40" height="2.30" fill="#e8f6ea"/><rect x="347.60" y="874.00" width="65.40" height="2.30" fill="#cae8f2"/><rect x="347.60" y="876.00" width="65.40" height="2.30" fill="#eef8df"/><rect x="347.60" y="878.00" width="65.40" height="2.30" fill="#f3fad6"/><rect x="347.60" y="880.00" width="65.40" height="2.80" fill="#e9f6e8"/><rect x="347.60" y="882.50" width="65.40" height="1.80" fill="#f7fcce"/><rect x="347.60" y="884.00" width="65.40" height="1.80" fill="#e4f4f1"/><rect x="347.60" y="885.50" width="65.40" height="2.80" fill="#d2ecf4"/><rect x="347.60" y="888.00" width="65.40" height="2.30" fill="#feeba1"/><rect x="347.60" y="890.00" width="65.40" height="2.80" fill="#fff2ac"/><rect x="347.60" y="892.50" width="65.40" height="1.80" fill="#feeca2"/><rect x="347.60" y="894.00" width="65.40" height="1.80" fill="#e3f4f3"/><rect x="347.60" y="895.50" width="65.40" height="2.80" fill="#daf0f6"/><rect x="347.60" y="898.00" width="65.40" height="2.30" fill="#ecf8e2"/><rect x="347.60" y="900.00" width="65.40" height="2.30" fill="#dbf0f6"/><rect x="347.60" y="902.00" width="65.40" height="1.80" fill="#cdeaf3"/><rect x="347.60" y="903.50" width="65.40" height="2.30" fill="#b3ddeb"/><rect x="347.60" y="905.50" width="65.40" height="2.80" fill="#cae8f2"/><rect x="347.60" y="908.00" width="65.40" height="2.80" fill="#feefa7"/><rect x="347.60" y="910.50" width="65.40" height="2.30" fill="#fffbb9"/><rect x="347.60" y="912.50" width="65.40" height="1.80" fill="#fee294"/><rect x="347.60" y="914.00" width="65.40" height="2.30" fill="#fff4ae"/><rect x="347.60" y="916.00" width="65.40" height="1.80" fill="#f4fbd3"/><rect x="347.60" y="917.50" width="65.40" height="2.80" fill="#fffcbb"/><rect x="347.60" y="920.00" width="65.40" height="2.30" fill="#e5f5ef"/><rect x="347.60" y="922.00" width="65.40" height="2.30" fill="#cae8f2"/><rect x="347.60" y="924.00" width="65.40" height="2.30" fill="#ebf7e4"/><rect x="347.60" y="926.00" width="65.40" height="18.30" fill="#c6e6f0"/><rect x="347.60" y="944.00" width="65.40" height="2.80" fill="#feea9e"/><rect x="347.60" y="946.50" width="65.40" height="1.80" fill="#fff7b3"/><rect x="347.60" y="948.00" width="65.40" height="2.30" fill="#feeca2"/><rect x="347.60" y="950.00" width="65.40" height="2.30" fill="#ecf7e3"/><rect x="347.60" y="952.00" width="65.40" height="4.30" fill="#dbf1f7"/><rect x="347.60" y="956.00" width="65.40" height="2.30" fill="#4c7db8"/><rect x="347.60" y="958.00" width="65.40" height="1.80" fill="#4472b3"/><rect x="347.60" y="959.50" width="65.40" height="2.80" fill="#5487bd"/><rect x="347.60" y="962.00" width="65.40" height="3.30" fill="#b1dceb"/><rect x="347.60" y="965.00" width="65.40" height="1.80" fill="#9ccde2"/><rect x="347.60" y="966.50" width="65.40" height="1.80" fill="#acd9e9"/><rect x="347.60" y="968.00" width="65.40" height="2.30" fill="#98cae1"/><rect x="347.60" y="970.00" width="65.40" height="2.30" fill="#8abfdb"/><rect x="347.60" y="972.00" width="65.40" height="1.80" fill="#92c5de"/><rect x="347.60" y="973.50" width="65.40" height="2.80" fill="#80b7d6"/><rect x="347.60" y="976.00" width="65.40" height="1.80" fill="#e6f5ee"/><rect x="347.60" y="977.50" width="65.40" height="2.80" fill="#d3ecf4"/><rect x="347.60" y="980.00" width="65.40" height="1.80" fill="#fee99d"/><rect x="347.60" y="981.50" width="65.40" height="2.80" fill="#fffdbd"/><rect x="347.60" y="984.00" width="65.40" height="2.30" fill="#fee99d"/><rect x="347.60" y="986.00" width="65.40" height="1.80" fill="#bee2ee"/><rect x="347.60" y="987.50" width="65.40" height="2.30" fill="#96c8e0"/><rect x="347.60" y="989.50" width="65.40" height="2.80" fill="#b2dceb"/><rect x="347.60" y="992.00" width="65.40" height="4.30" fill="#497ab7"/><rect x="347.60" y="996.00" width="65.40" height="2.80" fill="#b4ddec"/><rect x="347.60" y="998.50" width="65.40" height="2.30" fill="#9acbe1"/><rect x="347.60" y="1000.50" width="65.40" height="1.80" fill="#c1e4ef"/><rect x="347.60" y="1002.00" width="65.40" height="2.30" fill="#80b6d6"/><rect x="347.60" y="1004.00" width="65.40" height="2.80" fill="#69a0ca"/><rect x="347.60" y="1006.50" width="65.40" height="1.80" fill="#80b6d6"/><rect x="347.60" y="1008.00" width="65.40" height="3.30" fill="#70a8cf"/><rect x="347.60" y="1011.00" width="65.40" height="3.30" fill="#aedaea"/><rect x="347.60" y="1014.00" width="65.40" height="2.30" fill="#a7d6e7"/><rect x="347.60" y="1016.00" width="65.40" height="2.30" fill="#b2ddeb"/><rect x="347.60" y="1018.00" width="65.40" height="2.30" fill="#9ecee3"/><rect x="347.60" y="1020.00" width="65.40" height="2.30" fill="#6ea6ce"/><rect x="347.60" y="1022.00" width="65.40" height="2.30" fill="#4878b6"/><rect x="347.60" y="1024.00" width="65.40" height="1.80" fill="#a8d6e8"/><rect x="347.60" y="1025.50" width="65.40" height="2.30" fill="#8dc1dc"/><rect x="347.60" y="1027.50" width="65.40" height="2.80" fill="#9bcce2"/><rect x="347.60" y="1030.00" width="65.40" height="2.80" fill="#6da5cd"/><rect x="347.60" y="1032.50" width="65.40" height="1.80" fill="#4e80ba"/><rect x="347.60" y="1034.00" width="65.40" height="3.30" fill="#a2d2e5"/><rect x="347.60" y="1037.00" width="65.40" height="1.80" fill="#79b1d3"/><rect x="347.60" y="1038.50" width="65.40" height="1.80" fill="#a0d0e4"/><rect x="412.70" y="478.00" width="65.40" height="3.30" fill="#fecd7e"/><rect x="412.70" y="481.00" width="65.40" height="3.30" fill="#f1f9d9"/><rect x="412.70" y="484.00" width="65.40" height="2.30" fill="#fdc678"/><rect x="412.70" y="486.00" width="65.40" height="2.30" fill="#fec87a"/><rect x="412.70" y="488.00" width="65.40" height="2.80" fill="#fdc678"/><rect x="412.70" y="490.50" width="65.40" height="3.80" fill="#fedb8b"/><rect x="412.70" y="494.00" width="65.40" height="2.30" fill="#feeba1"/><rect x="412.70" y="496.00" width="65.40" height="2.80" fill="#fffab7"/><rect x="412.70" y="498.50" width="65.40" height="1.80" fill="#feeba1"/><rect x="412.70" y="500.00" width="65.40" height="2.30" fill="#fa9a58"/><rect x="412.70" y="502.00" width="65.40" height="1.80" fill="#fdc173"/><rect x="412.70" y="503.50" width="65.40" height="3.30" fill="#fa9b58"/><rect x="412.70" y="506.50" width="65.40" height="1.80" fill="#fdb366"/><rect x="412.70" y="508.00" width="65.40" height="3.30" fill="#fdbd6f"/><rect x="412.70" y="511.00" width="65.40" height="3.30" fill="#fed182"/><rect x="412.70" y="514.00" width="65.40" height="3.30" fill="#f98f52"/><rect x="412.70" y="517.00" width="65.40" height="3.30" fill="#fb9e5a"/><rect x="412.70" y="520.00" width="65.40" height="2.30" fill="#fee495"/><rect x="412.70" y="522.00" width="65.40" height="2.30" fill="#fff1a9"/><rect x="412.70" y="524.00" width="65.40" height="2.30" fill="#fee89c"/><rect x="412.70" y="526.00" width="65.40" height="2.30" fill="#fff6b1"/><rect x="412.70" y="528.00" width="65.40" height="2.30" fill="#feeca2"/><rect x="412.70" y="530.00" width="65.40" height="3.30" fill="#fdc072"/><rect x="412.70" y="533.00" width="65.40" height="2.30" fill="#fecf80"/><rect x="412.70" y="535.00" width="65.40" height="2.30" fill="#fdc072"/><rect x="412.70" y="537.00" width="65.40" height="1.80" fill="#fecb7c"/><rect x="412.70" y="538.50" width="65.40" height="1.80" fill="#fdb769"/><rect x="412.70" y="540.00" width="65.40" height="3.30" fill="#fba15b"/><rect x="412.70" y="543.00" width="65.40" height="3.30" fill="#fdb86a"/><rect x="412.70" y="546.00" width="65.40" height="2.30" fill="#f99355"/><rect x="412.70" y="548.00" width="65.40" height="2.30" fill="#fa9a58"/><rect x="412.70" y="550.00" width="65.40" height="2.30" fill="#fca75e"/><rect x="412.70" y="552.00" width="65.40" height="1.80" fill="#f8874f"/><rect x="412.70" y="553.50" width="65.40" height="2.80" fill="#fcaa5f"/><rect x="412.70" y="556.00" width="65.40" height="3.30" fill="#f7804c"/><rect x="412.70" y="559.00" width="65.40" height="2.80" fill="#fa9756"/><rect x="412.70" y="561.50" width="65.40" height="2.80" fill="#f47045"/><rect x="412.70" y="564.00" width="65.40" height="2.30" fill="#fba05a"/><rect x="412.70" y="566.00" width="65.40" height="2.30" fill="#fa9857"/><rect x="412.70" y="568.00" width="65.40" height="1.80" fill="#fdb164"/><rect x="412.70" y="569.50" width="65.40" height="2.80" fill="#f98f53"/><rect x="412.70" y="572.00" width="65.40" height="2.30" fill="#fba05b"/><rect x="412.70" y="574.00" width="65.40" height="2.30" fill="#f7864e"/><rect x="412.70" y="576.00" width="65.40" height="3.30" fill="#f99355"/><rect x="412.70" y="579.00" width="65.40" height="2.30" fill="#fdae61"/><rect x="412.70" y="581.00" width="65.40" height="3.30" fill="#f99354"/><rect x="412.70" y="584.00" width="65.40" height="2.30" fill="#fee99e"/><rect x="412.70" y="586.00" width="65.40" height="3.30" fill="#fff1aa"/><rect x="412.70" y="589.00" width="65.40" height="3.30" fill="#fee69a"/><rect x="412.70" y="592.00" width="65.40" height="3.30" fill="#fdb86a"/><rect x="412.70" y="595.00" width="65.40" height="1.80" fill="#fece7f"/><rect x="412.70" y="596.50" width="65.40" height="2.30" fill="#fdbc6e"/><rect x="412.70" y="598.50" width="65.40" height="1.80" fill="#fedc8c"/><rect x="412.70" y="600.00" width="65.40" height="2.30" fill="#fee597"/><rect x="412.70" y="602.00" width="65.40" height="2.30" fill="#fff8b5"/><rect x="412.70" y="604.00" width="65.40" height="3.30" fill="#fee89c"/><rect x="412.70" y="607.00" width="65.40" height="2.30" fill="#fffbba"/><rect x="412.70" y="609.00" width="65.40" height="3.30" fill="#fee99d"/><rect x="412.70" y="612.00" width="65.40" height="2.30" fill="#fffebe"/><rect x="412.70" y="614.00" width="65.40" height="3.30" fill="#ffffc0"/><rect x="412.70" y="617.00" width="65.40" height="3.30" fill="#fffebd"/><rect x="412.70" y="620.00" width="65.40" height="1.80" fill="#fedc8c"/><rect x="412.70" y="621.50" width="65.40" height="2.80" fill="#fee293"/><rect x="412.70" y="624.00" width="65.40" height="1.80" fill="#fedc8c"/><rect x="412.70" y="625.50" width="65.40" height="2.30" fill="#fee89c"/><rect x="412.70" y="627.50" width="65.40" height="2.80" fill="#fed586"/><rect x="412.70" y="630.00" width="65.40" height="3.30" fill="#fff6b2"/><rect x="412.70" y="633.00" width="65.40" height="1.80" fill="#ffffbf"/><rect x="412.70" y="634.50" width="65.40" height="3.80" fill="#fffcba"/><rect x="412.70" y="638.00" width="65.40" height="2.30" fill="#fcaa5f"/><rect x="412.70" y="640.00" width="65.40" height="2.30" fill="#fdbb6d"/><rect x="412.70" y="642.00" width="65.40" height="2.30" fill="#fecd7e"/><rect x="412.70" y="644.00" width="65.40" height="2.30" fill="#fee89c"/><rect x="412.70" y="646.00" width="65.40" height="2.30" fill="#fed686"/><rect x="412.70" y="648.00" width="65.40" height="2.80" fill="#fee191"/><rect x="412.70" y="650.50" width="65.40" height="1.80" fill="#fecd7e"/><rect x="412.70" y="652.00" width="65.40" height="3.30" fill="#fdc577"/><rect x="412.70" y="655.00" width="65.40" height="2.30" fill="#fed081"/><rect x="412.70" y="657.00" width="65.40" height="3.30" fill="#fdc476"/><rect x="412.70" y="660.00" width="65.40" height="2.30" fill="#feca7c"/><rect x="412.70" y="662.00" width="65.40" height="1.80" fill="#fee699"/><rect x="412.70" y="663.50" width="65.40" height="1.80" fill="#fed788"/><rect x="412.70" y="665.00" width="65.40" height="3.30" fill="#feeba0"/><rect x="412.70" y="668.00" width="65.40" height="1.80" fill="#fa9556"/><rect x="412.70" y="669.50" width="65.40" height="1.80" fill="#fdc375"/><rect x="412.70" y="671.00" width="65.40" height="2.30" fill="#fca95f"/><rect x="412.70" y="673.00" width="65.40" height="3.30" fill="#fdc274"/><rect x="412.70" y="676.00" width="65.40" height="1.80" fill="#fff2ab"/><rect x="412.70" y="677.50" width="65.40" height="3.30" fill="#fafdc8"/><rect x="412.70" y="680.50" width="65.40" height="3.80" fill="#fffcba"/><rect x="412.70" y="684.00" width="65.40" height="2.80" fill="#feeaa0"/><rect x="412.70" y="686.50" width="65.40" height="2.30" fill="#fff4ae"/><rect x="412.70" y="688.50" width="65.40" height="2.30" fill="#feeca3"/><rect x="412.70" y="690.50" width="65.40" height="1.80" fill="#fff3ad"/><rect x="412.70" y="692.00" width="65.40" height="2.30" fill="#fed586"/><rect x="412.70" y="694.00" width="65.40" height="2.30" fill="#fee293"/><rect x="412.70" y="696.00" width="65.40" height="2.80" fill="#feca7b"/><rect x="412.70" y="698.50" width="65.40" height="1.80" fill="#fee89c"/><rect x="412.70" y="700.00" width="65.40" height="2.80" fill="#fee395"/><rect x="412.70" y="702.50" width="65.40" height="2.30" fill="#fffab7"/><rect x="412.70" y="704.50" width="65.40" height="2.80" fill="#fee496"/><rect x="412.70" y="707.00" width="65.40" height="2.80" fill="#fffab8"/><rect x="412.70" y="709.50" width="65.40" height="2.80" fill="#feeea6"/><rect x="412.70" y="712.00" width="65.40" height="2.80" fill="#fff9b5"/><rect x="412.70" y="714.50" width="65.40" height="1.80" fill="#fee395"/><rect x="412.70" y="716.00" width="65.40" height="36.30" fill="#fdb568"/><rect x="412.70" y="752.00" width="65.40" height="3.30" fill="#f99053"/><rect x="412.70" y="755.00" width="65.40" height="3.30" fill="#fba25c"/><rect x="412.70" y="758.00" width="65.40" height="2.80" fill="#fdb86b"/><rect x="412.70" y="760.50" width="65.40" height="2.80" fill="#feca7c"/><rect x="412.70" y="763.00" width="65.40" height="3.30" fill="#fdbb6e"/><rect x="412.70" y="766.00" width="65.40" height="2.30" fill="#feca7b"/><rect x="412.70" y="768.00" width="65.40" height="2.30" fill="#feeca3"/><rect x="412.70" y="770.00" width="65.40" height="2.30" fill="#fed081"/><rect x="412.70" y="772.00" width="65.40" height="2.30" fill="#fa9957"/><rect x="412.70" y="774.00" width="65.40" height="2.80" fill="#fdbd6f"/><rect x="412.70" y="776.50" width="65.40" height="1.80" fill="#fa9b58"/><rect x="412.70" y="778.00" width="65.40" height="2.30" fill="#fed485"/><rect x="412.70" y="780.00" width="65.40" height="2.30" fill="#feeca2"/><rect x="412.70" y="782.00" width="65.40" height="3.30" fill="#fed687"/><rect x="412.70" y="785.00" width="65.40" height="1.80" fill="#f67e4b"/><rect x="412.70" y="786.50" width="65.40" height="1.80" fill="#fcaa5f"/><rect x="412.70" y="788.00" width="65.40" height="1.80" fill="#f8874f"/><rect x="412.70" y="789.50" width="65.40" height="3.30" fill="#fca75e"/><rect x="412.70" y="792.50" width="65.40" height="1.80" fill="#f67f4b"/><rect x="412.70" y="794.00" width="65.40" height="3.30" fill="#fdaa5f"/><rect x="412.70" y="797.00" width="65.40" height="2.30" fill="#f99154"/><rect x="412.70" y="799.00" width="65.40" height="2.30" fill="#fb9e5a"/><rect x="412.70" y="801.00" width="65.40" height="4.30" fill="#fa9756"/><rect x="412.70" y="805.00" width="65.40" height="2.30" fill="#fff4ae"/><rect x="412.70" y="807.00" width="65.40" height="2.80" fill="#f4fbd3"/><rect x="412.70" y="809.50" width="65.40" height="2.80" fill="#fffbb9"/><rect x="412.70" y="812.00" width="65.40" height="2.30" fill="#fdfec3"/><rect x="412.70" y="814.00" width="65.40" height="4.30" fill="#fff4af"/><rect x="412.70" y="818.00" width="65.40" height="2.80" fill="#c7e7f1"/><rect x="412.70" y="820.50" width="65.40" height="1.80" fill="#c5e6f0"/><rect x="412.70" y="822.00" width="65.40" height="3.30" fill="#fff6b1"/><rect x="412.70" y="825.00" width="65.40" height="1.80" fill="#f7fccd"/><rect x="412.70" y="826.50" width="65.40" height="3.80" fill="#fff3ac"/><rect x="412.70" y="830.00" width="65.40" height="4.30" fill="#fed788"/><rect x="412.70" y="834.00" width="65.40" height="2.80" fill="#fff4ae"/><rect x="412.70" y="836.50" width="65.40" height="2.30" fill="#f6fccf"/><rect x="412.70" y="838.50" width="65.40" height="1.80" fill="#fff9b7"/><rect x="412.70" y="840.00" width="65.40" height="1.80" fill="#e6f6ec"/><rect x="412.70" y="841.50" width="65.40" height="2.30" fill="#def2f8"/><rect x="412.70" y="843.50" width="65.40" height="2.80" fill="#e6f5ed"/><rect x="412.70" y="846.00" width="65.40" height="1.80" fill="#f3fad5"/><rect x="412.70" y="847.50" width="65.40" height="1.80" fill="#e4f4f2"/><rect x="412.70" y="849.00" width="65.40" height="3.30" fill="#f7fcce"/><rect x="412.70" y="852.00" width="65.40" height="2.30" fill="#fff4af"/><rect x="412.70" y="854.00" width="65.40" height="2.30" fill="#f7fcce"/><rect x="412.70" y="856.00" width="65.40" height="2.30" fill="#fff3ad"/><rect x="412.70" y="858.00" width="65.40" height="2.30" fill="#f1fad8"/><rect x="412.70" y="860.00" width="65.40" height="3.30" fill="#feefa7"/><rect x="412.70" y="863.00" width="65.40" height="3.30" fill="#fff8b5"/><rect x="412.70" y="866.00" width="65.40" height="1.80" fill="#e3f4f3"/><rect x="412.70" y="867.50" width="65.40" height="2.30" fill="#d3edf4"/><rect x="412.70" y="869.50" width="65.40" height="2.80" fill="#e2f4f4"/><rect x="412.70" y="872.00" width="65.40" height="3.30" fill="#fff9b5"/><rect x="412.70" y="875.00" width="65.40" height="1.80" fill="#f4fbd4"/><rect x="412.70" y="876.50" width="65.40" height="1.80" fill="#fffab7"/><rect x="412.70" y="878.00" width="65.40" height="2.80" fill="#fee597"/><rect x="412.70" y="880.50" width="65.40" height="1.80" fill="#fff0a8"/><rect x="412.70" y="882.00" width="65.40" height="2.30" fill="#fee89c"/><rect x="412.70" y="884.00" width="65.40" height="2.30" fill="#6ba2cb"/><rect x="412.70" y="886.00" width="65.40" height="2.30" fill="#598cc0"/><rect x="412.70" y="888.00" width="65.40" height="2.30" fill="#5e93c4"/><rect x="412.70" y="890.00" width="65.40" height="2.30" fill="#5b8fc2"/><rect x="412.70" y="892.00" width="65.40" height="2.80" fill="#b7dfec"/><rect x="412.70" y="894.50" width="65.40" height="1.80" fill="#a7d6e7"/><rect x="412.70" y="896.00" width="65.40" height="2.30" fill="#d5eef5"/><rect x="412.70" y="898.00" width="65.40" height="2.30" fill="#bce1ee"/><rect x="412.70" y="900.00" width="65.40" height="2.30" fill="#dbf0f6"/><rect x="412.70" y="902.00" width="65.40" height="2.30" fill="#bae0ed"/><rect x="412.70" y="904.00" width="65.40" height="2.30" fill="#95c8df"/><rect x="412.70" y="906.00" width="65.40" height="2.30" fill="#afdbea"/><rect x="412.70" y="908.00" width="65.40" height="4.30" fill="#feefa7"/><rect x="412.70" y="912.00" width="65.40" height="2.30" fill="#fecf80"/><rect x="412.70" y="914.00" width="65.40" height="2.30" fill="#fcfec5"/><rect x="412.70" y="916.00" width="65.40" height="2.30" fill="#e4f4f1"/><rect x="412.70" y="918.00" width="65.40" height="4.30" fill="#fdfec3"/><rect x="412.70" y="922.00" width="65.40" height="22.30" fill="#c6e6f0"/><rect x="412.70" y="944.00" width="65.40" height="2.30" fill="#fee699"/><rect x="412.70" y="946.00" width="65.40" height="3.30" fill="#fffab8"/><rect x="412.70" y="949.00" width="65.40" height="1.80" fill="#feeba1"/><rect x="412.70" y="950.50" width="65.40" height="1.80" fill="#fff3ad"/><rect x="412.70" y="952.00" width="65.40" height="2.80" fill="#cbe9f2"/><rect x="412.70" y="954.50" width="65.40" height="1.80" fill="#aedbea"/><rect x="412.70" y="956.00" width="65.40" height="3.30" fill="#bae0ed"/><rect x="412.70" y="959.00" width="65.40" height="3.30" fill="#95c7df"/><rect x="412.70" y="962.00" width="65.40" height="2.30" fill="#fee69a"/><rect x="412.70" y="964.00" width="65.40" height="2.30" fill="#fff3ad"/><rect x="412.70" y="966.00" width="65.40" height="2.30" fill="#e7f6ec"/><rect x="412.70" y="968.00" width="65.40" height="2.80" fill="#dff3f8"/><rect x="412.70" y="970.50" width="65.40" height="1.80" fill="#e2f4f5"/><rect x="412.70" y="972.00" width="65.40" height="2.30" fill="#f7fcce"/><rect x="412.70" y="974.00" width="65.40" height="2.30" fill="#eef9de"/><rect x="412.70" y="976.00" width="65.40" height="2.30" fill="#f0f9db"/><rect x="412.70" y="978.00" width="65.40" height="2.30" fill="#fffcba"/><rect x="412.70" y="980.00" width="65.40" height="4.30" fill="#f4fbd4"/><rect x="412.70" y="984.00" width="65.40" height="2.30" fill="#e7f6ec"/><rect x="412.70" y="986.00" width="65.40" height="2.80" fill="#d9f0f6"/><rect x="412.70" y="988.50" width="65.40" height="1.80" fill="#ebf7e3"/><rect x="412.70" y="990.00" width="65.40" height="2.30" fill="#f8fccc"/><rect x="412.70" y="992.00" width="65.40" height="1.80" fill="#eff9dc"/><rect x="412.70" y="993.50" width="65.40" height="2.80" fill="#f4fbd3"/><rect x="412.70" y="996.00" width="65.40" height="1.80" fill="#afdbea"/><rect x="412.70" y="997.50" width="65.40" height="1.80" fill="#aad8e9"/><rect x="412.70" y="999.00" width="65.40" height="3.30" fill="#bbe1ee"/><rect x="412.70" y="1002.00" width="65.40" height="3.30" fill="#fdfec2"/><rect x="412.70" y="1005.00" width="65.40" height="1.80" fill="#e4f4f1"/><rect x="412.70" y="1006.50" width="65.40" height="2.80" fill="#f9fdc9"/><rect x="412.70" y="1009.00" width="65.40" height="2.30" fill="#eff9dd"/><rect x="412.70" y="1011.00" width="65.40" height="2.30" fill="#4879b6"/><rect x="412.70" y="1013.00" width="65.40" height="3.30" fill="#426baf"/><rect x="412.70" y="1016.00" width="65.40" height="1.80" fill="#4c7db8"/><rect x="412.70" y="1017.50" width="65.40" height="2.80" fill="#426db0"/><rect x="412.70" y="1020.00" width="65.40" height="2.80" fill="#afdbea"/><rect x="412.70" y="1022.50" width="65.40" height="2.80" fill="#a9d7e8"/><rect x="412.70" y="1025.00" width="65.40" height="3.30" fill="#79b1d3"/><rect x="412.70" y="1028.00" width="65.40" height="2.30" fill="#6095c4"/><rect x="412.70" y="1030.00" width="65.40" height="2.80" fill="#b2ddeb"/><rect x="412.70" y="1032.50" width="65.40" height="1.80" fill="#9ccde2"/><rect x="412.70" y="1034.00" width="65.40" height="3.30" fill="#689fca"/><rect x="412.70" y="1037.00" width="65.40" height="3.30" fill="#4e80ba"/><rect x="477.80" y="478.00" width="65.40" height="2.30" fill="#f99455"/><rect x="477.80" y="480.00" width="65.40" height="2.30" fill="#fca65d"/><rect x="477.80" y="482.00" width="65.40" height="2.30" fill="#fdb568"/><rect x="477.80" y="484.00" width="65.40" height="2.30" fill="#feca7c"/><rect x="477.80" y="486.00" width="65.40" height="4.30" fill="#fdc778"/><rect x="477.80" y="490.00" width="65.40" height="2.30" fill="#fed585"/><rect x="477.80" y="492.00" width="65.40" height="2.80" fill="#fee598"/><rect x="477.80" y="494.50" width="65.40" height="1.80" fill="#fed383"/><rect x="477.80" y="496.00" width="65.40" height="2.80" fill="#f57145"/><rect x="477.80" y="498.50" width="65.40" height="3.30" fill="#fa9757"/><rect x="477.80" y="501.50" width="65.40" height="2.80" fill="#f57748"/><rect x="477.80" y="504.00" width="65.40" height="2.30" fill="#fdac60"/><rect x="477.80" y="506.00" width="65.40" height="4.30" fill="#fdbc6e"/><rect x="477.80" y="510.00" width="65.40" height="2.30" fill="#f46d43"/><rect x="477.80" y="512.00" width="65.40" height="1.80" fill="#fba25b"/><rect x="477.80" y="513.50" width="65.40" height="1.80" fill="#f57547"/><rect x="477.80" y="515.00" width="65.40" height="2.30" fill="#ee603d"/><rect x="477.80" y="517.00" width="65.40" height="3.30" fill="#f57647"/><rect x="477.80" y="520.00" width="65.40" height="2.30" fill="#f6fbd0"/><rect x="477.80" y="522.00" width="65.40" height="2.30" fill="#e6f5ee"/><rect x="477.80" y="524.00" width="65.40" height="2.80" fill="#feeda4"/><rect x="477.80" y="526.50" width="65.40" height="1.80" fill="#fff8b4"/><rect x="477.80" y="528.00" width="65.40" height="2.80" fill="#feeda3"/><rect x="477.80" y="530.50" width="65.40" height="1.80" fill="#fff4ae"/><rect x="477.80" y="532.00" width="65.40" height="3.30" fill="#feca7b"/><rect x="477.80" y="535.00" width="65.40" height="2.30" fill="#fee192"/><rect x="477.80" y="537.00" width="65.40" height="3.30" fill="#fecc7d"/><rect x="477.80" y="540.00" width="65.40" height="1.80" fill="#fee191"/><rect x="477.80" y="541.50" width="65.40" height="2.80" fill="#fed485"/><rect x="477.80" y="544.00" width="65.40" height="2.30" fill="#feeba1"/><rect x="477.80" y="546.00" width="65.40" height="2.80" fill="#f47044"/><rect x="477.80" y="548.50" width="65.40" height="2.30" fill="#fb9d59"/><rect x="477.80" y="550.50" width="65.40" height="2.80" fill="#f36b42"/><rect x="477.80" y="553.00" width="65.40" height="2.80" fill="#f99455"/><rect x="477.80" y="555.50" width="65.40" height="2.30" fill="#f7824d"/><rect x="477.80" y="557.50" width="65.40" height="2.80" fill="#fa9a58"/><rect x="477.80" y="560.00" width="65.40" height="1.80" fill="#f8874f"/><rect x="477.80" y="561.50" width="65.40" height="2.30" fill="#fdb366"/><rect x="477.80" y="563.50" width="65.40" height="1.80" fill="#f88850"/><rect x="477.80" y="565.00" width="65.40" height="2.30" fill="#f67c4a"/><rect x="477.80" y="567.00" width="65.40" height="1.80" fill="#fa9a58"/><rect x="477.80" y="568.50" width="65.40" height="3.30" fill="#f67f4b"/><rect x="477.80" y="571.50" width="65.40" height="2.80" fill="#fb9d59"/><rect x="477.80" y="574.00" width="65.40" height="2.30" fill="#fdbe70"/><rect x="477.80" y="576.00" width="65.40" height="1.80" fill="#fedb8b"/><rect x="477.80" y="577.50" width="65.40" height="2.80" fill="#fdc577"/><rect x="477.80" y="580.00" width="65.40" height="2.30" fill="#fed384"/><rect x="477.80" y="582.00" width="65.40" height="1.80" fill="#fee79a"/><rect x="477.80" y="583.50" width="65.40" height="2.80" fill="#fee090"/><rect x="477.80" y="586.00" width="65.40" height="1.80" fill="#e4f5f0"/><rect x="477.80" y="587.50" width="65.40" height="2.80" fill="#ddf1f7"/><rect x="477.80" y="590.00" width="65.40" height="2.80" fill="#f7804c"/><rect x="477.80" y="592.50" width="65.40" height="3.80" fill="#fb9d59"/><rect x="477.80" y="596.00" width="65.40" height="1.80" fill="#fa9957"/><rect x="477.80" y="597.50" width="65.40" height="1.80" fill="#fba25b"/><rect x="477.80" y="599.00" width="65.40" height="1.80" fill="#f99355"/><rect x="477.80" y="600.50" width="65.40" height="2.30" fill="#fca45c"/><rect x="477.80" y="602.50" width="65.40" height="3.30" fill="#fa9957"/><rect x="477.80" y="605.50" width="65.40" height="2.30" fill="#fdb467"/><rect x="477.80" y="607.50" width="65.40" height="2.80" fill="#fa9756"/><rect x="477.80" y="610.00" width="65.40" height="2.30" fill="#fdbe70"/><rect x="477.80" y="612.00" width="65.40" height="2.30" fill="#fecb7c"/><rect x="477.80" y="614.00" width="65.40" height="2.30" fill="#fdbf71"/><rect x="477.80" y="616.00" width="65.40" height="2.30" fill="#fee394"/><rect x="477.80" y="618.00" width="65.40" height="2.30" fill="#fff6b1"/><rect x="477.80" y="620.00" width="65.40" height="2.30" fill="#fee496"/><rect x="477.80" y="622.00" width="65.40" height="3.30" fill="#fff3ac"/><rect x="477.80" y="625.00" width="65.40" height="2.30" fill="#fdbc6f"/><rect x="477.80" y="627.00" width="65.40" height="3.30" fill="#fed586"/><rect x="477.80" y="630.00" width="65.40" height="3.30" fill="#fca65d"/><rect x="477.80" y="633.00" width="65.40" height="1.80" fill="#fdb769"/><rect x="477.80" y="634.50" width="65.40" height="2.30" fill="#fdab60"/><rect x="477.80" y="636.50" width="65.40" height="1.80" fill="#fdc274"/><rect x="477.80" y="638.00" width="65.40" height="2.30" fill="#fca75e"/><rect x="477.80" y="640.00" width="65.40" height="2.30" fill="#f46c43"/><rect x="477.80" y="642.00" width="65.40" height="2.30" fill="#f88c51"/><rect x="477.80" y="644.00" width="65.40" height="3.30" fill="#f88b51"/><rect x="477.80" y="647.00" width="65.40" height="2.30" fill="#fba05b"/><rect x="477.80" y="649.00" width="65.40" height="3.30" fill="#f7834d"/><rect x="477.80" y="652.00" width="65.40" height="2.30" fill="#fdc577"/><rect x="477.80" y="654.00" width="65.40" height="2.30" fill="#fed081"/><rect x="477.80" y="656.00" width="65.40" height="1.80" fill="#fdc173"/><rect x="477.80" y="657.50" width="65.40" height="2.80" fill="#fedc8c"/><rect x="477.80" y="660.00" width="65.40" height="1.80" fill="#f67c4a"/><rect x="477.80" y="661.50" width="65.40" height="2.30" fill="#f99153"/><rect x="477.80" y="663.50" width="65.40" height="2.80" fill="#f67d4a"/><rect x="477.80" y="666.00" width="65.40" height="3.30" fill="#f16740"/><rect x="477.80" y="669.00" width="65.40" height="1.80" fill="#f88d52"/><rect x="477.80" y="670.50" width="65.40" height="1.80" fill="#ee603d"/><rect x="477.80" y="672.00" width="65.40" height="2.30" fill="#f88a50"/><rect x="477.80" y="674.00" width="65.40" height="2.80" fill="#fba15b"/><rect x="477.80" y="676.50" width="65.40" height="1.80" fill="#f99254"/><rect x="477.80" y="678.00" width="65.40" height="2.30" fill="#fed081"/><rect x="477.80" y="680.00" width="65.40" height="2.30" fill="#feeba1"/><rect x="477.80" y="682.00" width="65.40" height="2.80" fill="#feca7b"/><rect x="477.80" y="684.50" width="65.40" height="1.80" fill="#fee79b"/><rect x="477.80" y="686.00" width="65.40" height="2.30" fill="#fca45c"/><rect x="477.80" y="688.00" width="65.40" height="2.30" fill="#fdaf62"/><rect x="477.80" y="690.00" width="65.40" height="1.80" fill="#fa9656"/><rect x="477.80" y="691.50" width="65.40" height="2.80" fill="#fdae61"/><rect x="477.80" y="694.00" width="65.40" height="2.30" fill="#fdc072"/><rect x="477.80" y="696.00" width="65.40" height="2.30" fill="#fecb7c"/><rect x="477.80" y="698.00" width="65.40" height="2.30" fill="#fdb86a"/><rect x="477.80" y="700.00" width="65.40" height="2.30" fill="#f99154"/><rect x="477.80" y="702.00" width="65.40" height="2.30" fill="#fdac60"/><rect x="477.80" y="704.00" width="65.40" height="3.30" fill="#f99455"/><rect x="477.80" y="707.00" width="65.40" height="3.30" fill="#fdb365"/><rect x="477.80" y="710.00" width="65.40" height="2.80" fill="#eb5a3a"/><rect x="477.80" y="712.50" width="65.40" height="1.80" fill="#f88b51"/><rect x="477.80" y="714.00" width="65.40" height="2.30" fill="#ec5c3b"/><rect x="477.80" y="716.00" width="65.40" height="36.30" fill="#fdb568"/><rect x="477.80" y="752.00" width="65.40" height="4.30" fill="#f7834d"/><rect x="477.80" y="756.00" width="65.40" height="3.30" fill="#f99154"/><rect x="477.80" y="759.00" width="65.40" height="1.80" fill="#fdc173"/><rect x="477.80" y="760.50" width="65.40" height="3.80" fill="#fdae61"/><rect x="477.80" y="764.00" width="65.40" height="2.80" fill="#f99355"/><rect x="477.80" y="766.50" width="65.40" height="2.30" fill="#fba35c"/><rect x="477.80" y="768.50" width="65.40" height="2.30" fill="#f98f53"/><rect x="477.80" y="770.50" width="65.40" height="1.80" fill="#fdb366"/><rect x="477.80" y="772.00" width="65.40" height="1.80" fill="#fdb86a"/><rect x="477.80" y="773.50" width="65.40" height="1.80" fill="#fed989"/><rect x="477.80" y="775.00" width="65.40" height="3.30" fill="#fdb769"/><rect x="477.80" y="778.00" width="65.40" height="2.30" fill="#f7824d"/><rect x="477.80" y="780.00" width="65.40" height="2.80" fill="#fba25b"/><rect x="477.80" y="782.50" width="65.40" height="2.80" fill="#f88850"/><rect x="477.80" y="785.00" width="65.40" height="1.80" fill="#fba25c"/><rect x="477.80" y="786.50" width="65.40" height="1.80" fill="#fdb669"/><rect x="477.80" y="788.00" width="65.40" height="3.30" fill="#fb9e5a"/><rect x="477.80" y="791.00" width="65.40" height="2.30" fill="#fdbd6f"/><rect x="477.80" y="793.00" width="65.40" height="2.30" fill="#fca95f"/><rect x="477.80" y="795.00" width="65.40" height="2.30" fill="#fdae61"/><rect x="477.80" y="797.00" width="65.40" height="1.80" fill="#fca95f"/><rect x="477.80" y="798.50" width="65.40" height="2.30" fill="#fdbc6e"/><rect x="477.80" y="800.50" width="65.40" height="1.80" fill="#fba25b"/><rect x="477.80" y="802.00" width="65.40" height="3.30" fill="#fdb76a"/><rect x="477.80" y="805.00" width="65.40" height="3.30" fill="#fee597"/><rect x="477.80" y="808.00" width="65.40" height="2.30" fill="#fff1a9"/><rect x="477.80" y="810.00" width="65.40" height="3.30" fill="#fee79a"/><rect x="477.80" y="813.00" width="65.40" height="3.30" fill="#fff4af"/><rect x="477.80" y="816.00" width="65.40" height="2.30" fill="#fff7b3"/><rect x="477.80" y="818.00" width="65.40" height="4.30" fill="#f5fbd2"/><rect x="477.80" y="822.00" width="65.40" height="3.30" fill="#fee79b"/><rect x="477.80" y="825.00" width="65.40" height="3.30" fill="#fff6b1"/><rect x="477.80" y="828.00" width="65.40" height="2.30" fill="#fee79a"/><rect x="477.80" y="830.00" width="65.40" height="1.80" fill="#eaf7e5"/><rect x="477.80" y="831.50" width="65.40" height="2.80" fill="#d5eef5"/><rect x="477.80" y="834.00" width="65.40" height="2.30" fill="#e2f4f4"/><rect x="477.80" y="836.00" width="65.40" height="2.30" fill="#fff4af"/><rect x="477.80" y="838.00" width="65.40" height="2.30" fill="#f4fbd4"/><rect x="477.80" y="840.00" width="65.40" height="2.30" fill="#fff9b6"/><rect x="477.80" y="842.00" width="65.40" height="2.80" fill="#feeba1"/><rect x="477.80" y="844.50" width="65.40" height="1.80" fill="#fff1aa"/><rect x="477.80" y="846.00" width="65.40" height="3.30" fill="#e8f6ea"/><rect x="477.80" y="849.00" width="65.40" height="3.30" fill="#ceeaf3"/><rect x="477.80" y="852.00" width="65.40" height="3.30" fill="#fede8e"/><rect x="477.80" y="855.00" width="65.40" height="3.30" fill="#feeca1"/><rect x="477.80" y="858.00" width="65.40" height="2.80" fill="#b7dfec"/><rect x="477.80" y="860.50" width="65.40" height="3.30" fill="#a4d3e6"/><rect x="477.80" y="863.50" width="65.40" height="2.80" fill="#b4ddeb"/><rect x="477.80" y="866.00" width="65.40" height="2.30" fill="#dbf1f7"/><rect x="477.80" y="868.00" width="65.40" height="2.30" fill="#c2e4ef"/><rect x="477.80" y="870.00" width="65.40" height="2.30" fill="#d1ecf4"/><rect x="477.80" y="872.00" width="65.40" height="3.30" fill="#4d7eb9"/><rect x="477.80" y="875.00" width="65.40" height="1.80" fill="#4574b4"/><rect x="477.80" y="876.50" width="65.40" height="3.80" fill="#5284bc"/><rect x="477.80" y="880.00" width="65.40" height="2.30" fill="#a0d0e4"/><rect x="477.80" y="882.00" width="65.40" height="2.30" fill="#7eb5d5"/><rect x="477.80" y="884.00" width="65.40" height="2.80" fill="#e4f4f1"/><rect x="477.80" y="886.50" width="65.40" height="3.80" fill="#cfebf3"/><rect x="477.80" y="890.00" width="65.40" height="4.30" fill="#f0f9da"/><rect x="477.80" y="894.00" width="65.40" height="4.30" fill="#4e80ba"/><rect x="477.80" y="898.00" width="65.40" height="1.80" fill="#afdbea"/><rect x="477.80" y="899.50" width="65.40" height="2.30" fill="#a7d6e7"/><rect x="477.80" y="901.50" width="65.40" height="2.80" fill="#b3ddeb"/><rect x="477.80" y="904.00" width="65.40" height="2.30" fill="#ddf2f7"/><rect x="477.80" y="906.00" width="65.40" height="2.30" fill="#b9e0ed"/><rect x="477.80" y="908.00" width="65.40" height="2.80" fill="#3d5da8"/><rect x="477.80" y="910.50" width="65.40" height="2.80" fill="#35429b"/><rect x="477.80" y="913.00" width="65.40" height="1.80" fill="#b7dfec"/><rect x="477.80" y="914.50" width="65.40" height="3.80" fill="#a0d0e4"/><rect x="477.80" y="918.00" width="65.40" height="2.30" fill="#83b9d7"/><rect x="477.80" y="920.00" width="65.40" height="2.30" fill="#6298c6"/><rect x="477.80" y="922.00" width="65.40" height="22.30" fill="#c6e6f0"/><rect x="477.80" y="944.00" width="65.40" height="2.80" fill="#8bc0db"/><rect x="477.80" y="946.50" width="65.40" height="1.80" fill="#689ec9"/><rect x="477.80" y="948.00" width="65.40" height="1.80" fill="#4c7eb9"/><rect x="477.80" y="949.50" width="65.40" height="1.80" fill="#4370b2"/><rect x="477.80" y="951.00" width="65.40" height="2.30" fill="#588cc0"/><rect x="477.80" y="953.00" width="65.40" height="3.30" fill="#eef8df"/><rect x="477.80" y="956.00" width="65.40" height="2.30" fill="#dcf1f7"/><rect x="477.80" y="958.00" width="65.40" height="2.80" fill="#f9fdcb"/><rect x="477.80" y="960.50" width="65.40" height="3.80" fill="#ebf7e3"/><rect x="477.80" y="964.00" width="65.40" height="2.30" fill="#d5eef5"/><rect x="477.80" y="966.00" width="65.40" height="2.30" fill="#b7dfed"/><rect x="477.80" y="968.00" width="65.40" height="2.30" fill="#d5edf5"/><rect x="477.80" y="970.00" width="65.40" height="2.30" fill="#fed181"/><rect x="477.80" y="972.00" width="65.40" height="4.30" fill="#fee99e"/><rect x="477.80" y="976.00" width="65.40" height="2.30" fill="#f5fbd2"/><rect x="477.80" y="978.00" width="65.40" height="2.30" fill="#eef8df"/><rect x="477.80" y="980.00" width="65.40" height="2.30" fill="#6ca3cc"/><rect x="477.80" y="982.00" width="65.40" height="2.80" fill="#5082bb"/><rect x="477.80" y="984.50" width="65.40" height="1.80" fill="#6fa7ce"/><rect x="477.80" y="986.00" width="65.40" height="2.80" fill="#addaea"/><rect x="477.80" y="988.50" width="65.40" height="1.80" fill="#a0d1e4"/><rect x="477.80" y="990.00" width="65.40" height="2.30" fill="#b6deec"/><rect x="477.80" y="992.00" width="65.40" height="3.30" fill="#e7f6eb"/><rect x="477.80" y="995.00" width="65.40" height="3.30" fill="#d9f0f6"/><rect x="477.80" y="998.00" width="65.40" height="2.80" fill="#feeaa0"/><rect x="477.80" y="1000.50" width="65.40" height="2.30" fill="#fff2ab"/><rect x="477.80" y="1002.50" width="65.40" height="1.80" fill="#feefa6"/><rect x="477.80" y="1004.00" width="65.40" height="1.80" fill="#fff3ad"/><rect x="477.80" y="1005.50" width="65.40" height="2.30" fill="#f9fdcb"/><rect x="477.80" y="1007.50" width="65.40" height="3.80" fill="#fff7b3"/><rect x="477.80" y="1011.00" width="65.40" height="2.30" fill="#abd9e9"/><rect x="477.80" y="1013.00" width="65.40" height="1.80" fill="#96c8e0"/><rect x="477.80" y="1014.50" width="65.40" height="2.30" fill="#b2ddeb"/><rect x="477.80" y="1016.50" width="65.40" height="3.80" fill="#a3d3e6"/><rect x="477.80" y="1020.00" width="65.40" height="3.30" fill="#ceeaf3"/><rect x="477.80" y="1023.00" width="65.40" height="3.30" fill="#b2ddeb"/><rect x="477.80" y="1026.00" width="65.40" height="2.80" fill="#89bdda"/><rect x="477.80" y="1028.50" width="65.40" height="2.30" fill="#669dc9"/><rect x="477.80" y="1030.50" width="65.40" height="1.80" fill="#8bc0db"/><rect x="477.80" y="1032.00" width="65.40" height="2.30" fill="#a5d4e6"/><rect x="477.80" y="1034.00" width="65.40" height="3.30" fill="#78b1d3"/><rect x="477.80" y="1037.00" width="65.40" height="3.30" fill="#93c6de"/><rect x="542.90" y="478.00" width="65.40" height="1.80" fill="#f36c42"/><rect x="542.90" y="479.50" width="65.40" height="1.80" fill="#fb9c59"/><rect x="542.90" y="481.00" width="65.40" height="2.80" fill="#fdc072"/><rect x="542.90" y="483.50" width="65.40" height="2.30" fill="#fed283"/><rect x="542.90" y="485.50" width="65.40" height="2.80" fill="#fdb366"/><rect x="542.90" y="488.00" width="65.40" height="2.30" fill="#fed686"/><rect x="542.90" y="490.00" width="65.40" height="2.80" fill="#fca55d"/><rect x="542.90" y="492.50" width="65.40" height="1.80" fill="#fdb96b"/><rect x="542.90" y="494.00" width="65.40" height="3.30" fill="#fdac60"/><rect x="542.90" y="497.00" width="65.40" height="3.30" fill="#fecf80"/><rect x="542.90" y="500.00" width="65.40" height="1.80" fill="#f7854e"/><rect x="542.90" y="501.50" width="65.40" height="1.80" fill="#fdb264"/><rect x="542.90" y="503.00" width="65.40" height="1.80" fill="#fff4ae"/><rect x="542.90" y="504.50" width="65.40" height="3.80" fill="#f4fbd3"/><rect x="542.90" y="508.00" width="65.40" height="2.80" fill="#fca45d"/><rect x="542.90" y="510.50" width="65.40" height="1.80" fill="#fdb568"/><rect x="542.90" y="512.00" width="65.40" height="1.80" fill="#fdb96c"/><rect x="542.90" y="513.50" width="65.40" height="1.80" fill="#fecf80"/><rect x="542.90" y="515.00" width="65.40" height="2.30" fill="#fa9a58"/><rect x="542.90" y="517.00" width="65.40" height="3.30" fill="#fdb669"/><rect x="542.90" y="520.00" width="65.40" height="3.30" fill="#f9fdc9"/><rect x="542.90" y="523.00" width="65.40" height="1.80" fill="#fdbc6e"/><rect x="542.90" y="524.50" width="65.40" height="3.80" fill="#fec97a"/><rect x="542.90" y="528.00" width="65.40" height="3.30" fill="#fed283"/><rect x="542.90" y="531.00" width="65.40" height="1.80" fill="#feeba1"/><rect x="542.90" y="532.50" width="65.40" height="2.80" fill="#fed989"/><rect x="542.90" y="535.00" width="65.40" height="2.30" fill="#fdc071"/><rect x="542.90" y="537.00" width="65.40" height="3.30" fill="#fed081"/><rect x="542.90" y="540.00" width="65.40" height="2.30" fill="#fca55d"/><rect x="542.90" y="542.00" width="65.40" height="3.30" fill="#fdbc6e"/><rect x="542.90" y="545.00" width="65.40" height="3.30" fill="#fff9b5"/><rect x="542.90" y="548.00" width="65.40" height="2.30" fill="#f8fccc"/><rect x="542.90" y="550.00" width="65.40" height="3.30" fill="#fffcba"/><rect x="542.90" y="553.00" width="65.40" height="2.30" fill="#feffc1"/><rect x="542.90" y="555.00" width="65.40" height="3.30" fill="#f8fccb"/><rect x="542.90" y="558.00" width="65.40" height="2.30" fill="#ebf7e3"/><rect x="542.90" y="560.00" width="65.40" height="2.30" fill="#fb9f5a"/><rect x="542.90" y="562.00" width="65.40" height="1.80" fill="#fdc375"/><rect x="542.90" y="563.50" width="65.40" height="1.80" fill="#f99555"/><rect x="542.90" y="565.00" width="65.40" height="3.30" fill="#fdbc6e"/><rect x="542.90" y="568.00" width="65.40" height="4.30" fill="#fed585"/><rect x="542.90" y="572.00" width="65.40" height="3.30" fill="#feefa6"/><rect x="542.90" y="575.00" width="65.40" height="3.30" fill="#fff7b3"/><rect x="542.90" y="578.00" width="65.40" height="2.80" fill="#fecd7e"/><rect x="542.90" y="580.50" width="65.40" height="3.30" fill="#fee597"/><rect x="542.90" y="583.50" width="65.40" height="1.80" fill="#fed080"/><rect x="542.90" y="585.00" width="65.40" height="3.30" fill="#fba25c"/><rect x="542.90" y="588.00" width="65.40" height="2.30" fill="#fdb669"/><rect x="542.90" y="590.00" width="65.40" height="2.30" fill="#fdbe70"/><rect x="542.90" y="592.00" width="65.40" height="3.30" fill="#fed889"/><rect x="542.90" y="595.00" width="65.40" height="2.30" fill="#fee598"/><rect x="542.90" y="597.00" width="65.40" height="1.80" fill="#fffab8"/><rect x="542.90" y="598.50" width="65.40" height="1.80" fill="#feeba1"/><rect x="542.90" y="600.00" width="65.40" height="2.30" fill="#fb9f5a"/><rect x="542.90" y="602.00" width="65.40" height="2.80" fill="#fdb265"/><rect x="542.90" y="604.50" width="65.40" height="3.30" fill="#fca55d"/><rect x="542.90" y="607.50" width="65.40" height="2.80" fill="#fdb668"/><rect x="542.90" y="610.00" width="65.40" height="2.80" fill="#f8874f"/><rect x="542.90" y="612.50" width="65.40" height="3.80" fill="#fca65d"/><rect x="542.90" y="616.00" width="65.40" height="2.30" fill="#fba35c"/><rect x="542.90" y="618.00" width="65.40" height="2.30" fill="#fdbf71"/><rect x="542.90" y="620.00" width="65.40" height="4.30" fill="#fba25c"/><rect x="542.90" y="624.00" width="65.40" height="3.30" fill="#f7804c"/><rect x="542.90" y="627.00" width="65.40" height="1.80" fill="#fb9d59"/><rect x="542.90" y="628.50" width="65.40" height="1.80" fill="#f88b51"/><rect x="542.90" y="630.00" width="65.40" height="1.80" fill="#fdc576"/><rect x="542.90" y="631.50" width="65.40" height="2.30" fill="#fed283"/><rect x="542.90" y="633.50" width="65.40" height="2.30" fill="#fdb668"/><rect x="542.90" y="635.50" width="65.40" height="2.80" fill="#fed98a"/><rect x="542.90" y="638.00" width="65.40" height="3.30" fill="#fcfec5"/><rect x="542.90" y="641.00" width="65.40" height="2.80" fill="#e4f5f0"/><rect x="542.90" y="643.50" width="65.40" height="3.30" fill="#f6fccf"/><rect x="542.90" y="646.50" width="65.40" height="2.80" fill="#e4f4f1"/><rect x="542.90" y="649.00" width="65.40" height="2.30" fill="#fdb769"/><rect x="542.90" y="651.00" width="65.40" height="2.80" fill="#fedc8d"/><rect x="542.90" y="653.50" width="65.40" height="1.80" fill="#fdc778"/><rect x="542.90" y="655.00" width="65.40" height="2.30" fill="#fedb8b"/><rect x="542.90" y="657.00" width="65.40" height="2.80" fill="#fee598"/><rect x="542.90" y="659.50" width="65.40" height="2.80" fill="#fed081"/><rect x="542.90" y="662.00" width="65.40" height="2.30" fill="#fdc072"/><rect x="542.90" y="664.00" width="65.40" height="2.30" fill="#fed788"/><rect x="542.90" y="666.00" width="65.40" height="2.30" fill="#fdb365"/><rect x="542.90" y="668.00" width="65.40" height="2.30" fill="#fec779"/><rect x="542.90" y="670.00" width="65.40" height="2.80" fill="#fee293"/><rect x="542.90" y="672.50" width="65.40" height="1.80" fill="#fffbb9"/><rect x="542.90" y="674.00" width="65.40" height="2.30" fill="#feeda4"/><rect x="542.90" y="676.00" width="65.40" height="2.30" fill="#fedb8b"/><rect x="542.90" y="678.00" width="65.40" height="2.80" fill="#feeba1"/><rect x="542.90" y="680.50" width="65.40" height="1.80" fill="#feda8b"/><rect x="542.90" y="682.00" width="65.40" height="2.30" fill="#feea9f"/><rect x="542.90" y="684.00" width="65.40" height="3.30" fill="#fdb567"/><rect x="542.90" y="687.00" width="65.40" height="3.30" fill="#fecf80"/><rect x="542.90" y="690.00" width="65.40" height="3.30" fill="#fee89c"/><rect x="542.90" y="693.00" width="65.40" height="1.80" fill="#fff1a9"/><rect x="542.90" y="694.50" width="65.40" height="3.80" fill="#fee294"/><rect x="542.90" y="698.00" width="65.40" height="2.30" fill="#f2fad6"/><rect x="542.90" y="700.00" width="65.40" height="1.80" fill="#e4f5f0"/><rect x="542.90" y="701.50" width="65.40" height="3.80" fill="#f3fad5"/><rect x="542.90" y="705.00" width="65.40" height="1.80" fill="#fecd7e"/><rect x="542.90" y="706.50" width="65.40" height="1.80" fill="#fee293"/><rect x="542.90" y="708.00" width="65.40" height="3.30" fill="#fed283"/><rect x="542.90" y="711.00" width="65.40" height="2.80" fill="#fee192"/><rect x="542.90" y="713.50" width="65.40" height="2.80" fill="#fedf8f"/><rect x="542.90" y="716.00" width="65.40" height="39.30" fill="#fdb568"/><rect x="542.90" y="755.00" width="65.40" height="2.80" fill="#fa9a58"/><rect x="542.90" y="757.50" width="65.40" height="2.80" fill="#fba15b"/><rect x="542.90" y="760.00" width="65.40" height="2.30" fill="#fed182"/><rect x="542.90" y="762.00" width="65.40" height="2.80" fill="#fee99e"/><rect x="542.90" y="764.50" width="65.40" height="1.80" fill="#fecd7e"/><rect x="542.90" y="766.00" width="65.40" height="2.30" fill="#fee496"/><rect x="542.90" y="768.00" width="65.40" height="2.30" fill="#fffdbd"/><rect x="542.90" y="770.00" width="65.40" height="2.30" fill="#feefa6"/><rect x="542.90" y="772.00" width="65.40" height="2.80" fill="#fb9d59"/><rect x="542.90" y="774.50" width="65.40" height="1.80" fill="#fdc173"/><rect x="542.90" y="776.00" width="65.40" height="2.30" fill="#f99254"/><rect x="542.90" y="778.00" width="65.40" height="1.80" fill="#feeca2"/><rect x="542.90" y="779.50" width="65.40" height="2.30" fill="#fff2ab"/><rect x="542.90" y="781.50" width="65.40" height="2.30" fill="#fee293"/><rect x="542.90" y="783.50" width="65.40" height="1.80" fill="#fff9b6"/><rect x="542.90" y="785.00" width="65.40" height="2.30" fill="#c2e5f0"/><rect x="542.90" y="787.00" width="65.40" height="3.30" fill="#9bcde2"/><rect x="542.90" y="790.00" width="65.40" height="2.30" fill="#aedaea"/><rect x="542.90" y="792.00" width="65.40" height="2.30" fill="#93c6df"/><rect x="542.90" y="794.00" width="65.40" height="2.30" fill="#bae0ed"/><rect x="542.90" y="796.00" width="65.40" height="3.30" fill="#aad9e9"/><rect x="542.90" y="799.00" width="65.40" height="2.30" fill="#b7dfec"/><rect x="542.90" y="801.00" width="65.40" height="4.30" fill="#a6d5e7"/><rect x="542.90" y="805.00" width="65.40" height="3.30" fill="#feefa7"/><rect x="542.90" y="808.00" width="65.40" height="2.30" fill="#fff3ad"/><rect x="542.90" y="810.00" width="65.40" height="1.80" fill="#fee99e"/><rect x="542.90" y="811.50" width="65.40" height="2.80" fill="#fff4ae"/><rect x="542.90" y="814.00" width="65.40" height="2.30" fill="#fee293"/><rect x="542.90" y="816.00" width="65.40" height="2.30" fill="#fff3ac"/><rect x="542.90" y="818.00" width="65.40" height="2.30" fill="#e2f4f5"/><rect x="542.90" y="820.00" width="65.40" height="2.30" fill="#def2f7"/><rect x="542.90" y="822.00" width="65.40" height="1.80" fill="#b7dfec"/><rect x="542.90" y="823.50" width="65.40" height="2.30" fill="#93c6df"/><rect x="542.90" y="825.50" width="65.40" height="2.80" fill="#b9e0ed"/><rect x="542.90" y="828.00" width="65.40" height="1.80" fill="#cbe9f2"/><rect x="542.90" y="829.50" width="65.40" height="2.80" fill="#aedaea"/><rect x="542.90" y="832.00" width="65.40" height="2.30" fill="#70a8ce"/><rect x="542.90" y="834.00" width="65.40" height="2.30" fill="#598dc0"/><rect x="542.90" y="836.00" width="65.40" height="1.80" fill="#94c7df"/><rect x="542.90" y="837.50" width="65.40" height="2.30" fill="#78b0d3"/><rect x="542.90" y="839.50" width="65.40" height="2.80" fill="#99cae1"/><rect x="542.90" y="842.00" width="65.40" height="1.80" fill="#8cc1dc"/><rect x="542.90" y="843.50" width="65.40" height="2.30" fill="#6196c5"/><rect x="542.90" y="845.50" width="65.40" height="2.80" fill="#7db4d5"/><rect x="542.90" y="848.00" width="65.40" height="2.80" fill="#b3ddeb"/><rect x="542.90" y="850.50" width="65.40" height="1.80" fill="#a3d3e6"/><rect x="542.90" y="852.00" width="65.40" height="3.30" fill="#e1f3f7"/><rect x="542.90" y="855.00" width="65.40" height="1.80" fill="#d8eff6"/><rect x="542.90" y="856.50" width="65.40" height="1.80" fill="#e6f5ee"/><rect x="542.90" y="858.00" width="65.40" height="2.30" fill="#dcf1f7"/><rect x="542.90" y="860.00" width="65.40" height="2.30" fill="#feeea5"/><rect x="542.90" y="862.00" width="65.40" height="2.30" fill="#fff1a9"/><rect x="542.90" y="864.00" width="65.40" height="1.80" fill="#e2f4f3"/><rect x="542.90" y="865.50" width="65.40" height="2.80" fill="#d2ecf4"/><rect x="542.90" y="868.00" width="65.40" height="2.80" fill="#92c5de"/><rect x="542.90" y="870.50" width="65.40" height="1.80" fill="#89bdda"/><rect x="542.90" y="872.00" width="65.40" height="2.80" fill="#d4edf5"/><rect x="542.90" y="874.50" width="65.40" height="3.80" fill="#bee3ee"/><rect x="542.90" y="878.00" width="65.40" height="3.30" fill="#bde2ee"/><rect x="542.90" y="881.00" width="65.40" height="3.30" fill="#a4d4e6"/><rect x="542.90" y="884.00" width="65.40" height="2.80" fill="#e6f5ec"/><rect x="542.90" y="886.50" width="65.40" height="2.30" fill="#d8eff6"/><rect x="542.90" y="888.50" width="65.40" height="3.80" fill="#e2f4f3"/><rect x="542.90" y="892.00" width="65.40" height="2.30" fill="#f8fccc"/><rect x="542.90" y="894.00" width="65.40" height="2.30" fill="#eaf7e6"/><rect x="542.90" y="896.00" width="65.40" height="2.30" fill="#f7fccf"/><rect x="542.90" y="898.00" width="65.40" height="3.30" fill="#fee99e"/><rect x="542.90" y="901.00" width="65.40" height="3.30" fill="#fffbba"/><rect x="542.90" y="904.00" width="65.40" height="2.30" fill="#cbe9f2"/><rect x="542.90" y="906.00" width="65.40" height="2.80" fill="#afdbea"/><rect x="542.90" y="908.50" width="65.40" height="2.30" fill="#c6e6f1"/><rect x="542.90" y="910.50" width="65.40" height="1.80" fill="#c0e3ef"/><rect x="542.90" y="912.00" width="65.40" height="2.30" fill="#98cae1"/><rect x="542.90" y="914.00" width="65.40" height="2.30" fill="#8abeda"/><rect x="542.90" y="916.00" width="65.40" height="2.30" fill="#cae8f2"/><rect x="542.90" y="918.00" width="65.40" height="4.30" fill="#b2dceb"/><rect x="542.90" y="922.00" width="65.40" height="4.30" fill="#a2d2e5"/><rect x="542.90" y="926.00" width="65.40" height="18.30" fill="#c6e6f0"/><rect x="542.90" y="944.00" width="65.40" height="2.80" fill="#feeaa0"/><rect x="542.90" y="946.50" width="65.40" height="2.30" fill="#fffab7"/><rect x="542.90" y="948.50" width="65.40" height="1.80" fill="#feea9f"/><rect x="542.90" y="950.00" width="65.40" height="2.30" fill="#fed888"/><rect x="542.90" y="952.00" width="65.40" height="3.30" fill="#fee597"/><rect x="542.90" y="955.00" width="65.40" height="2.30" fill="#f0f9da"/><rect x="542.90" y="957.00" width="65.40" height="2.80" fill="#e2f4f4"/><rect x="542.90" y="959.50" width="65.40" height="2.80" fill="#f1fad9"/><rect x="542.90" y="962.00" width="65.40" height="2.30" fill="#aedbea"/><rect x="542.90" y="964.00" width="65.40" height="2.30" fill="#a3d2e5"/><rect x="542.90" y="966.00" width="65.40" height="2.30" fill="#fff5b0"/><rect x="542.90" y="968.00" width="65.40" height="2.30" fill="#fbfdc7"/><rect x="542.90" y="970.00" width="65.40" height="2.30" fill="#fffcbb"/><rect x="542.90" y="972.00" width="65.40" height="1.80" fill="#c2e4f0"/><rect x="542.90" y="973.50" width="65.40" height="2.80" fill="#aad8e8"/><rect x="542.90" y="976.00" width="65.40" height="2.30" fill="#4c7db8"/><rect x="542.90" y="978.00" width="65.40" height="2.30" fill="#3e60aa"/><rect x="542.90" y="980.00" width="65.40" height="2.30" fill="#d2ecf4"/><rect x="542.90" y="982.00" width="65.40" height="2.30" fill="#b6dfec"/><rect x="542.90" y="984.00" width="65.40" height="2.30" fill="#c8e7f1"/><rect x="542.90" y="986.00" width="65.40" height="2.80" fill="#7db4d5"/><rect x="542.90" y="988.50" width="65.40" height="1.80" fill="#669cc8"/><rect x="542.90" y="990.00" width="65.40" height="2.30" fill="#fff2ac"/><rect x="542.90" y="992.00" width="65.40" height="2.80" fill="#f9fdca"/><rect x="542.90" y="994.50" width="65.40" height="1.80" fill="#fff6b1"/><rect x="542.90" y="996.00" width="65.40" height="2.30" fill="#fee394"/><rect x="542.90" y="998.00" width="65.40" height="1.80" fill="#fff5af"/><rect x="542.90" y="999.50" width="65.40" height="2.80" fill="#feea9f"/><rect x="542.90" y="1002.00" width="65.40" height="1.80" fill="#e2f4f4"/><rect x="542.90" y="1003.50" width="65.40" height="2.80" fill="#ceeaf3"/><rect x="542.90" y="1006.00" width="65.40" height="3.30" fill="#e1f3f7"/><rect x="542.90" y="1009.00" width="65.40" height="2.30" fill="#dcf1f7"/><rect x="542.90" y="1011.00" width="65.40" height="2.30" fill="#feeca3"/><rect x="542.90" y="1013.00" width="65.40" height="2.30" fill="#fffab8"/><rect x="542.90" y="1015.00" width="65.40" height="3.30" fill="#fee394"/><rect x="542.90" y="1018.00" width="65.40" height="3.30" fill="#feca7c"/><rect x="542.90" y="1021.00" width="65.40" height="3.30" fill="#feeba1"/><rect x="542.90" y="1024.00" width="65.40" height="2.30" fill="#feefa6"/><rect x="542.90" y="1026.00" width="65.40" height="2.30" fill="#fff5b1"/><rect x="542.90" y="1028.00" width="65.40" height="2.30" fill="#fee698"/><rect x="542.90" y="1030.00" width="65.40" height="4.30" fill="#fffbb9"/><rect x="542.90" y="1034.00" width="65.40" height="1.80" fill="#fed586"/><rect x="542.90" y="1035.50" width="65.40" height="2.80" fill="#feeba1"/><rect x="542.90" y="1038.00" width="65.40" height="2.30" fill="#fed686"/><rect x="608.00" y="478.00" width="65.40" height="1.80" fill="#fecc7e"/><rect x="608.00" y="479.50" width="65.40" height="1.80" fill="#feeaa0"/><rect x="608.00" y="481.00" width="65.40" height="2.30" fill="#fee79b"/><rect x="608.00" y="483.00" width="65.40" height="3.30" fill="#fffbb9"/><rect x="608.00" y="486.00" width="65.40" height="2.30" fill="#fdab5f"/><rect x="608.00" y="488.00" width="65.40" height="1.80" fill="#fdba6c"/><rect x="608.00" y="489.50" width="65.40" height="2.80" fill="#f99254"/><rect x="608.00" y="492.00" width="65.40" height="2.30" fill="#f88b51"/><rect x="608.00" y="494.00" width="65.40" height="2.30" fill="#fa9a58"/><rect x="608.00" y="496.00" width="65.40" height="2.30" fill="#e85538"/><rect x="608.00" y="498.00" width="65.40" height="4.30" fill="#f57346"/><rect x="608.00" y="502.00" width="65.40" height="3.30" fill="#f67c4a"/><rect x="608.00" y="505.00" width="65.40" height="3.30" fill="#fb9d59"/><rect x="608.00" y="508.00" width="65.40" height="2.80" fill="#ed5e3c"/><rect x="608.00" y="510.50" width="65.40" height="1.80" fill="#f7864f"/><rect x="608.00" y="512.00" width="65.40" height="2.30" fill="#f16740"/><rect x="608.00" y="514.00" width="65.40" height="1.80" fill="#fdb265"/><rect x="608.00" y="515.50" width="65.40" height="2.80" fill="#fed384"/><rect x="608.00" y="518.00" width="65.40" height="2.30" fill="#fdb467"/><rect x="608.00" y="520.00" width="65.40" height="2.30" fill="#f16640"/><rect x="608.00" y="522.00" width="65.40" height="2.30" fill="#f57145"/><rect x="608.00" y="524.00" width="65.40" height="2.30" fill="#eb5a3a"/><rect x="608.00" y="526.00" width="65.40" height="2.30" fill="#fcaa5f"/><rect x="608.00" y="528.00" width="65.40" height="2.80" fill="#fdb96c"/><rect x="608.00" y="530.50" width="65.40" height="1.80" fill="#fb9e5a"/><rect x="608.00" y="532.00" width="65.40" height="2.30" fill="#ef633f"/><rect x="608.00" y="534.00" width="65.40" height="2.30" fill="#f67a49"/><rect x="608.00" y="536.00" width="65.40" height="2.80" fill="#fa9a58"/><rect x="608.00" y="538.50" width="65.40" height="1.80" fill="#fdb86b"/><rect x="608.00" y="540.00" width="65.40" height="2.30" fill="#fca75e"/><rect x="608.00" y="542.00" width="65.40" height="2.30" fill="#fdbb6d"/><rect x="608.00" y="544.00" width="65.40" height="2.30" fill="#fca95f"/><rect x="608.00" y="546.00" width="65.40" height="1.80" fill="#fdc778"/><rect x="608.00" y="547.50" width="65.40" height="2.80" fill="#fec97b"/><rect x="608.00" y="550.00" width="65.40" height="2.30" fill="#fdc273"/><rect x="608.00" y="552.00" width="65.40" height="2.30" fill="#fedb8b"/><rect x="608.00" y="554.00" width="65.40" height="2.30" fill="#fdc173"/><rect x="608.00" y="556.00" width="65.40" height="3.30" fill="#feeda3"/><rect x="608.00" y="559.00" width="65.40" height="3.30" fill="#fff7b3"/><rect x="608.00" y="562.00" width="65.40" height="2.30" fill="#fee293"/><rect x="608.00" y="564.00" width="65.40" height="1.80" fill="#fed787"/><rect x="608.00" y="565.50" width="65.40" height="2.30" fill="#fee89c"/><rect x="608.00" y="567.50" width="65.40" height="1.80" fill="#fed586"/><rect x="608.00" y="569.00" width="65.40" height="3.30" fill="#feeba0"/><rect x="608.00" y="572.00" width="65.40" height="2.30" fill="#fee597"/><rect x="608.00" y="574.00" width="65.40" height="3.30" fill="#fffbb9"/><rect x="608.00" y="577.00" width="65.40" height="3.30" fill="#fee99e"/><rect x="608.00" y="580.00" width="65.40" height="1.80" fill="#fed384"/><rect x="608.00" y="581.50" width="65.40" height="2.80" fill="#feeba1"/><rect x="608.00" y="584.00" width="65.40" height="2.30" fill="#f5fbd2"/><rect x="608.00" y="586.00" width="65.40" height="2.30" fill="#e4f5f0"/><rect x="608.00" y="588.00" width="65.40" height="2.30" fill="#f8fccc"/><rect x="608.00" y="590.00" width="65.40" height="1.80" fill="#f57145"/><rect x="608.00" y="591.50" width="65.40" height="2.80" fill="#fca75e"/><rect x="608.00" y="594.00" width="65.40" height="2.80" fill="#da362a"/><rect x="608.00" y="596.50" width="65.40" height="3.80" fill="#e75236"/><rect x="608.00" y="600.00" width="65.40" height="2.30" fill="#c82227"/><rect x="608.00" y="602.00" width="65.40" height="2.80" fill="#e0422f"/><rect x="608.00" y="604.50" width="65.40" height="2.30" fill="#c72127"/><rect x="608.00" y="606.50" width="65.40" height="1.80" fill="#dd3d2d"/><rect x="608.00" y="608.00" width="65.40" height="2.30" fill="#d32c27"/><rect x="608.00" y="610.00" width="65.40" height="2.30" fill="#e24732"/><rect x="608.00" y="612.00" width="65.40" height="2.30" fill="#f26a41"/><rect x="608.00" y="614.00" width="65.40" height="2.30" fill="#e14430"/><rect x="608.00" y="616.00" width="65.40" height="2.30" fill="#c51f27"/><rect x="608.00" y="618.00" width="65.40" height="2.80" fill="#de402e"/><rect x="608.00" y="620.50" width="65.40" height="3.30" fill="#c41e27"/><rect x="608.00" y="623.50" width="65.40" height="2.80" fill="#dd3d2d"/><rect x="608.00" y="626.00" width="65.40" height="4.30" fill="#ee613d"/><rect x="608.00" y="630.00" width="65.40" height="3.30" fill="#e85337"/><rect x="608.00" y="633.00" width="65.40" height="3.30" fill="#f7864e"/><rect x="608.00" y="636.00" width="65.40" height="2.30" fill="#f36b42"/><rect x="608.00" y="638.00" width="65.40" height="2.30" fill="#de3e2d"/><rect x="608.00" y="640.00" width="65.40" height="2.80" fill="#e85437"/><rect x="608.00" y="642.50" width="65.40" height="3.80" fill="#d93529"/><rect x="608.00" y="646.00" width="65.40" height="2.30" fill="#ed5e3c"/><rect x="608.00" y="648.00" width="65.40" height="2.80" fill="#f67c4a"/><rect x="608.00" y="650.50" width="65.40" height="2.80" fill="#ee613e"/><rect x="608.00" y="653.00" width="65.40" height="2.30" fill="#f46f44"/><rect x="608.00" y="655.00" width="65.40" height="2.30" fill="#fb9e5a"/><rect x="608.00" y="657.00" width="65.40" height="3.30" fill="#fdb769"/><rect x="608.00" y="660.00" width="65.40" height="2.30" fill="#fb9e5a"/><rect x="608.00" y="662.00" width="65.40" height="2.30" fill="#f8884f"/><rect x="608.00" y="664.00" width="65.40" height="1.80" fill="#f99455"/><rect x="608.00" y="665.50" width="65.40" height="2.30" fill="#f67c4a"/><rect x="608.00" y="667.50" width="65.40" height="2.80" fill="#fca65e"/><rect x="608.00" y="670.00" width="65.40" height="3.30" fill="#c31d27"/><rect x="608.00" y="673.00" width="65.40" height="3.30" fill="#e0422f"/><rect x="608.00" y="676.00" width="65.40" height="3.30" fill="#e85438"/><rect x="608.00" y="679.00" width="65.40" height="3.30" fill="#f57446"/><rect x="608.00" y="682.00" width="65.40" height="2.30" fill="#f26941"/><rect x="608.00" y="684.00" width="65.40" height="4.30" fill="#c41e27"/><rect x="608.00" y="688.00" width="65.40" height="2.30" fill="#b30d26"/><rect x="608.00" y="690.00" width="65.40" height="1.80" fill="#d32c27"/><rect x="608.00" y="691.50" width="65.40" height="1.80" fill="#bb1526"/><rect x="608.00" y="693.00" width="65.40" height="2.30" fill="#c72127"/><rect x="608.00" y="695.00" width="65.40" height="3.30" fill="#ae0926"/><rect x="608.00" y="698.00" width="65.40" height="2.30" fill="#c41e27"/><rect x="608.00" y="700.00" width="65.40" height="3.30" fill="#c72127"/><rect x="608.00" y="703.00" width="65.40" height="2.30" fill="#dc3b2c"/><rect x="608.00" y="705.00" width="65.40" height="3.30" fill="#d42d27"/><rect x="608.00" y="708.00" width="65.40" height="2.30" fill="#e75237"/><rect x="608.00" y="710.00" width="65.40" height="1.80" fill="#f57245"/><rect x="608.00" y="711.50" width="65.40" height="2.30" fill="#ee603d"/><rect x="608.00" y="713.50" width="65.40" height="2.80" fill="#f67c4a"/><rect x="608.00" y="716.00" width="65.40" height="29.30" fill="#fdb568"/><rect x="608.00" y="745.00" width="65.40" height="1.80" fill="#fdbb6d"/><rect x="608.00" y="746.50" width="65.40" height="2.80" fill="#fec97a"/><rect x="608.00" y="749.00" width="65.40" height="3.30" fill="#fdc678"/><rect x="608.00" y="752.00" width="65.40" height="1.80" fill="#fed081"/><rect x="608.00" y="753.50" width="65.40" height="2.80" fill="#fee091"/><rect x="608.00" y="756.00" width="65.40" height="2.30" fill="#fecd7e"/><rect x="608.00" y="758.00" width="65.40" height="2.30" fill="#feeaa0"/><rect x="608.00" y="760.00" width="65.40" height="2.30" fill="#f88b51"/><rect x="608.00" y="762.00" width="65.40" height="2.80" fill="#fca65d"/><rect x="608.00" y="764.50" width="65.40" height="1.80" fill="#f67c4a"/><rect x="608.00" y="766.00" width="65.40" height="2.30" fill="#fdc274"/><rect x="608.00" y="768.00" width="65.40" height="2.30" fill="#fecf80"/><rect x="608.00" y="770.00" width="65.40" height="2.30" fill="#fdbd6f"/><rect x="608.00" y="772.00" width="65.40" height="1.80" fill="#eb593a"/><rect x="608.00" y="773.50" width="65.40" height="2.30" fill="#f67949"/><rect x="608.00" y="775.50" width="65.40" height="2.80" fill="#ee613d"/><rect x="608.00" y="778.00" width="65.40" height="2.80" fill="#fdc475"/><rect x="608.00" y="780.50" width="65.40" height="2.30" fill="#fedb8b"/><rect x="608.00" y="782.50" width="65.40" height="2.80" fill="#fdbd6f"/><rect x="608.00" y="785.00" width="65.40" height="2.80" fill="#7bb3d4"/><rect x="608.00" y="787.50" width="65.40" height="2.30" fill="#6399c7"/><rect x="608.00" y="789.50" width="65.40" height="2.30" fill="#8abfdb"/><rect x="608.00" y="791.50" width="65.40" height="2.30" fill="#6ea6ce"/><rect x="608.00" y="793.50" width="65.40" height="2.30" fill="#76afd2"/><rect x="608.00" y="795.50" width="65.40" height="2.30" fill="#6ba2cb"/><rect x="608.00" y="797.50" width="65.40" height="1.80" fill="#7eb5d6"/><rect x="608.00" y="799.00" width="65.40" height="2.30" fill="#69a0ca"/><rect x="608.00" y="801.00" width="65.40" height="1.80" fill="#87bdd9"/><rect x="608.00" y="802.50" width="65.40" height="2.80" fill="#6ba3cc"/><rect x="608.00" y="805.00" width="65.40" height="1.80" fill="#3e5fa9"/><rect x="608.00" y="806.50" width="65.40" height="2.80" fill="#394ea1"/><rect x="608.00" y="809.00" width="65.40" height="1.80" fill="#4168ad"/><rect x="608.00" y="810.50" width="65.40" height="3.30" fill="#333c98"/><rect x="608.00" y="813.50" width="65.40" height="1.80" fill="#436fb1"/><rect x="608.00" y="815.00" width="65.40" height="2.30" fill="#fcfec5"/><rect x="608.00" y="817.00" width="65.40" height="3.30" fill="#eef8df"/><rect x="608.00" y="820.00" width="65.40" height="2.30" fill="#99cae1"/><rect x="608.00" y="822.00" width="65.40" height="2.30" fill="#79b1d3"/><rect x="608.00" y="824.00" width="65.40" height="2.30" fill="#94c7df"/><rect x="608.00" y="826.00" width="65.40" height="2.30" fill="#75aed1"/><rect x="608.00" y="828.00" width="65.40" height="4.30" fill="#6ca4cc"/><rect x="608.00" y="832.00" width="65.40" height="1.80" fill="#689ec9"/><rect x="608.00" y="833.50" width="65.40" height="1.80" fill="#5589be"/><rect x="608.00" y="835.00" width="65.40" height="1.80" fill="#5d92c3"/><rect x="608.00" y="836.50" width="65.40" height="1.80" fill="#5689be"/><rect x="608.00" y="838.00" width="65.40" height="2.80" fill="#7fb6d6"/><rect x="608.00" y="840.50" width="65.40" height="2.30" fill="#659bc8"/><rect x="608.00" y="842.50" width="65.40" height="2.30" fill="#80b6d6"/><rect x="608.00" y="844.50" width="65.40" height="1.80" fill="#6298c6"/><rect x="608.00" y="846.00" width="65.40" height="2.80" fill="#5386bd"/><rect x="608.00" y="848.50" width="65.40" height="2.30" fill="#4471b2"/><rect x="608.00" y="850.50" width="65.40" height="1.80" fill="#5385bd"/><rect x="608.00" y="852.00" width="65.40" height="1.80" fill="#82b8d7"/><rect x="608.00" y="853.50" width="65.40" height="2.30" fill="#6398c6"/><rect x="608.00" y="855.50" width="65.40" height="2.80" fill="#7fb6d6"/><rect x="608.00" y="858.00" width="65.40" height="2.30" fill="#6da5cd"/><rect x="608.00" y="860.00" width="65.40" height="3.30" fill="#5183bb"/><rect x="608.00" y="863.00" width="65.40" height="2.80" fill="#649ac7"/><rect x="608.00" y="865.50" width="65.40" height="2.80" fill="#5082bb"/><rect x="608.00" y="868.00" width="65.40" height="2.30" fill="#6298c6"/><rect x="608.00" y="870.00" width="65.40" height="2.30" fill="#5588be"/><rect x="608.00" y="872.00" width="65.40" height="2.30" fill="#95c7df"/><rect x="608.00" y="874.00" width="65.40" height="2.80" fill="#8fc3dd"/><rect x="608.00" y="876.50" width="65.40" height="1.80" fill="#a7d6e7"/><rect x="608.00" y="878.00" width="65.40" height="3.30" fill="#bfe3ef"/><rect x="608.00" y="881.00" width="65.40" height="3.30" fill="#93c6de"/><rect x="608.00" y="884.00" width="65.40" height="2.30" fill="#8cc0db"/><rect x="608.00" y="886.00" width="65.40" height="1.80" fill="#72abd0"/><rect x="608.00" y="887.50" width="65.40" height="2.80" fill="#81b7d7"/><rect x="608.00" y="890.00" width="65.40" height="2.30" fill="#5284bc"/><rect x="608.00" y="892.00" width="65.40" height="2.30" fill="#426db0"/><rect x="608.00" y="894.00" width="65.40" height="2.80" fill="#a2d2e5"/><rect x="608.00" y="896.50" width="65.40" height="2.30" fill="#83b9d7"/><rect x="608.00" y="898.50" width="65.40" height="1.80" fill="#96c8e0"/><rect x="608.00" y="900.00" width="65.40" height="1.80" fill="#c1e4ef"/><rect x="608.00" y="901.50" width="65.40" height="2.80" fill="#a0d0e4"/><rect x="608.00" y="904.00" width="65.40" height="4.30" fill="#e4f5f1"/><rect x="608.00" y="908.00" width="65.40" height="3.30" fill="#fee99e"/><rect x="608.00" y="911.00" width="65.40" height="1.80" fill="#f5fbd1"/><rect x="608.00" y="912.50" width="65.40" height="3.80" fill="#e8f6ea"/><rect x="608.00" y="916.00" width="65.40" height="3.30" fill="#afdbea"/><rect x="608.00" y="919.00" width="65.40" height="3.30" fill="#a7d6e7"/><rect x="608.00" y="922.00" width="65.40" height="4.30" fill="#80b7d6"/><rect x="608.00" y="926.00" width="65.40" height="18.30" fill="#c6e6f0"/><rect x="608.00" y="944.00" width="65.40" height="1.80" fill="#6196c5"/><rect x="608.00" y="945.50" width="65.40" height="2.80" fill="#5689be"/><rect x="608.00" y="948.00" width="65.40" height="2.30" fill="#ebf7e4"/><rect x="608.00" y="950.00" width="65.40" height="3.30" fill="#cae8f2"/><rect x="608.00" y="953.00" width="65.40" height="2.30" fill="#588cc0"/><rect x="608.00" y="955.00" width="65.40" height="2.30" fill="#4064ac"/><rect x="608.00" y="957.00" width="65.40" height="2.30" fill="#d2ecf4"/><rect x="608.00" y="959.00" width="65.40" height="2.30" fill="#bce1ee"/><rect x="608.00" y="961.00" width="65.40" height="1.80" fill="#c6e6f1"/><rect x="608.00" y="962.50" width="65.40" height="1.80" fill="#b4ddec"/><rect x="608.00" y="964.00" width="65.40" height="2.80" fill="#d8eff6"/><rect x="608.00" y="966.50" width="65.40" height="1.80" fill="#c2e4ef"/><rect x="608.00" y="968.00" width="65.40" height="1.80" fill="#81b7d7"/><rect x="608.00" y="969.50" width="65.40" height="2.30" fill="#679ec9"/><rect x="608.00" y="971.50" width="65.40" height="2.80" fill="#7fb6d6"/><rect x="608.00" y="974.00" width="65.40" height="2.80" fill="#bfe3ef"/><rect x="608.00" y="976.50" width="65.40" height="1.80" fill="#a3d3e6"/><rect x="608.00" y="978.00" width="65.40" height="1.80" fill="#4575b4"/><rect x="608.00" y="979.50" width="65.40" height="1.80" fill="#3d5ba7"/><rect x="608.00" y="981.00" width="65.40" height="2.30" fill="#e3f4f2"/><rect x="608.00" y="983.00" width="65.40" height="3.30" fill="#d4edf5"/><rect x="608.00" y="986.00" width="65.40" height="1.80" fill="#9acbe2"/><rect x="608.00" y="987.50" width="65.40" height="2.30" fill="#8abeda"/><rect x="608.00" y="989.50" width="65.40" height="2.80" fill="#91c4de"/><rect x="608.00" y="992.00" width="65.40" height="1.80" fill="#daf0f6"/><rect x="608.00" y="993.50" width="65.40" height="2.30" fill="#c5e6f0"/><rect x="608.00" y="995.50" width="65.40" height="2.80" fill="#d3edf4"/><rect x="608.00" y="998.00" width="65.40" height="2.30" fill="#bee2ee"/><rect x="608.00" y="1000.00" width="65.40" height="2.30" fill="#a8d7e8"/><rect x="608.00" y="1002.00" width="65.40" height="2.30" fill="#acd9e9"/><rect x="608.00" y="1004.00" width="65.40" height="1.80" fill="#9dcee3"/><rect x="608.00" y="1005.50" width="65.40" height="1.80" fill="#80b7d6"/><rect x="608.00" y="1007.00" width="65.40" height="4.30" fill="#a3d3e6"/><rect x="608.00" y="1011.00" width="65.40" height="1.80" fill="#fed989"/><rect x="608.00" y="1012.50" width="65.40" height="1.80" fill="#fee497"/><rect x="608.00" y="1014.00" width="65.40" height="1.80" fill="#fed081"/><rect x="608.00" y="1015.50" width="65.40" height="2.80" fill="#fee394"/><rect x="608.00" y="1018.00" width="65.40" height="2.30" fill="#feeba1"/><rect x="608.00" y="1020.00" width="65.40" height="2.80" fill="#fff4ae"/><rect x="608.00" y="1022.50" width="65.40" height="1.80" fill="#feeba1"/><rect x="608.00" y="1024.00" width="65.40" height="2.80" fill="#fece7f"/><rect x="608.00" y="1026.50" width="65.40" height="2.30" fill="#feeda4"/><rect x="608.00" y="1028.50" width="65.40" height="1.80" fill="#fed787"/><rect x="608.00" y="1030.00" width="65.40" height="1.80" fill="#fee699"/><rect x="608.00" y="1031.50" width="65.40" height="2.80" fill="#fff5af"/><rect x="608.00" y="1034.00" width="65.40" height="1.80" fill="#fed081"/><rect x="608.00" y="1035.50" width="65.40" height="2.30" fill="#fee394"/><rect x="608.00" y="1037.50" width="65.40" height="2.80" fill="#feca7b"/><rect x="673.10" y="478.00" width="65.40" height="2.30" fill="#fee699"/><rect x="673.10" y="480.00" width="65.40" height="2.30" fill="#fff8b4"/><rect x="673.10" y="482.00" width="65.40" height="2.30" fill="#fed888"/><rect x="673.10" y="484.00" width="65.40" height="1.80" fill="#fee598"/><rect x="673.10" y="485.50" width="65.40" height="2.80" fill="#fecc7d"/><rect x="673.10" y="488.00" width="65.40" height="2.30" fill="#feeea5"/><rect x="673.10" y="490.00" width="65.40" height="2.80" fill="#fca75e"/><rect x="673.10" y="492.50" width="65.40" height="2.80" fill="#fdc172"/><rect x="673.10" y="495.00" width="65.40" height="2.30" fill="#fff9b6"/><rect x="673.10" y="497.00" width="65.40" height="1.80" fill="#f2fad8"/><rect x="673.10" y="498.50" width="65.40" height="3.30" fill="#fff8b4"/><rect x="673.10" y="501.50" width="65.40" height="1.80" fill="#f3fad6"/><rect x="673.10" y="503.00" width="65.40" height="2.30" fill="#fffab8"/><rect x="673.10" y="505.00" width="65.40" height="2.80" fill="#fdb163"/><rect x="673.10" y="507.50" width="65.40" height="2.80" fill="#feda8a"/><rect x="673.10" y="510.00" width="65.40" height="1.80" fill="#fffebe"/><rect x="673.10" y="511.50" width="65.40" height="2.80" fill="#fdfec4"/><rect x="673.10" y="514.00" width="65.40" height="4.30" fill="#e9f7e7"/><rect x="673.10" y="518.00" width="65.40" height="2.30" fill="#f46f44"/><rect x="673.10" y="520.00" width="65.40" height="2.30" fill="#f99355"/><rect x="673.10" y="522.00" width="65.40" height="1.80" fill="#fdb567"/><rect x="673.10" y="523.50" width="65.40" height="2.30" fill="#fed283"/><rect x="673.10" y="525.50" width="65.40" height="2.80" fill="#fdba6c"/><rect x="673.10" y="528.00" width="65.40" height="2.30" fill="#fed384"/><rect x="673.10" y="530.00" width="65.40" height="3.30" fill="#fdad60"/><rect x="673.10" y="533.00" width="65.40" height="2.80" fill="#fdbb6d"/><rect x="673.10" y="535.50" width="65.40" height="2.30" fill="#fdad61"/><rect x="673.10" y="537.50" width="65.40" height="2.80" fill="#fdb063"/><rect x="673.10" y="540.00" width="65.40" height="2.80" fill="#fa9556"/><rect x="673.10" y="542.50" width="65.40" height="2.30" fill="#fdb265"/><rect x="673.10" y="544.50" width="65.40" height="2.30" fill="#f99254"/><rect x="673.10" y="546.50" width="65.40" height="2.30" fill="#fca45c"/><rect x="673.10" y="548.50" width="65.40" height="1.80" fill="#f99053"/><rect x="673.10" y="550.00" width="65.40" height="1.80" fill="#fff8b4"/><rect x="673.10" y="551.50" width="65.40" height="2.30" fill="#fafdc8"/><rect x="673.10" y="553.50" width="65.40" height="3.30" fill="#fff1aa"/><rect x="673.10" y="556.50" width="65.40" height="1.80" fill="#fafdc8"/><rect x="673.10" y="558.00" width="65.40" height="2.30" fill="#fff6b1"/><rect x="673.10" y="560.00" width="65.40" height="2.80" fill="#feeca3"/><rect x="673.10" y="562.50" width="65.40" height="2.30" fill="#fff1aa"/><rect x="673.10" y="564.50" width="65.40" height="1.80" fill="#fee89d"/><rect x="673.10" y="566.00" width="65.40" height="2.30" fill="#fed081"/><rect x="673.10" y="568.00" width="65.40" height="1.80" fill="#feeba1"/><rect x="673.10" y="569.50" width="65.40" height="1.80" fill="#fedd8d"/><rect x="673.10" y="571.00" width="65.40" height="1.80" fill="#fee69a"/><rect x="673.10" y="572.50" width="65.40" height="1.80" fill="#fee090"/><rect x="673.10" y="574.00" width="65.40" height="1.80" fill="#fee597"/><rect x="673.10" y="575.50" width="65.40" height="2.80" fill="#fecd7e"/><rect x="673.10" y="578.00" width="65.40" height="2.30" fill="#fdbf71"/><rect x="673.10" y="580.00" width="65.40" height="2.80" fill="#fed384"/><rect x="673.10" y="582.50" width="65.40" height="1.80" fill="#fdc678"/><rect x="673.10" y="584.00" width="65.40" height="2.30" fill="#fedd8d"/><rect x="673.10" y="586.00" width="65.40" height="2.30" fill="#fdc476"/><rect x="673.10" y="588.00" width="65.40" height="2.30" fill="#fece7f"/><rect x="673.10" y="590.00" width="65.40" height="2.30" fill="#f7854e"/><rect x="673.10" y="592.00" width="65.40" height="3.30" fill="#f88c51"/><rect x="673.10" y="595.00" width="65.40" height="1.80" fill="#fecc7d"/><rect x="673.10" y="596.50" width="65.40" height="1.80" fill="#feeca2"/><rect x="673.10" y="598.00" width="65.40" height="2.30" fill="#fed283"/><rect x="673.10" y="600.00" width="65.40" height="2.30" fill="#fee597"/><rect x="673.10" y="602.00" width="65.40" height="2.30" fill="#fa9656"/><rect x="673.10" y="604.00" width="65.40" height="3.30" fill="#fdb164"/><rect x="673.10" y="607.00" width="65.40" height="2.30" fill="#fca95f"/><rect x="673.10" y="609.00" width="65.40" height="3.30" fill="#fdb769"/><rect x="673.10" y="612.00" width="65.40" height="2.80" fill="#f7864e"/><rect x="673.10" y="614.50" width="65.40" height="3.30" fill="#fb9c59"/><rect x="673.10" y="617.50" width="65.40" height="2.30" fill="#f98f53"/><rect x="673.10" y="619.50" width="65.40" height="3.30" fill="#fb9d59"/><rect x="673.10" y="622.50" width="65.40" height="2.30" fill="#f88d52"/><rect x="673.10" y="624.50" width="65.40" height="1.80" fill="#fba35c"/><rect x="673.10" y="626.00" width="65.40" height="2.80" fill="#f7804c"/><rect x="673.10" y="628.50" width="65.40" height="1.80" fill="#fca55d"/><rect x="673.10" y="630.00" width="65.40" height="2.30" fill="#f67f4b"/><rect x="673.10" y="632.00" width="65.40" height="2.80" fill="#f88950"/><rect x="673.10" y="634.50" width="65.40" height="1.80" fill="#f57446"/><rect x="673.10" y="636.00" width="65.40" height="2.30" fill="#fffcba"/><rect x="673.10" y="638.00" width="65.40" height="1.80" fill="#f4fbd2"/><rect x="673.10" y="639.50" width="65.40" height="3.30" fill="#fff7b3"/><rect x="673.10" y="642.50" width="65.40" height="1.80" fill="#f2fad8"/><rect x="673.10" y="644.00" width="65.40" height="2.30" fill="#fdc374"/><rect x="673.10" y="646.00" width="65.40" height="2.80" fill="#fed989"/><rect x="673.10" y="648.50" width="65.40" height="1.80" fill="#fdb96c"/><rect x="673.10" y="650.00" width="65.40" height="2.30" fill="#fdae61"/><rect x="673.10" y="652.00" width="65.40" height="2.80" fill="#fdbf71"/><rect x="673.10" y="654.50" width="65.40" height="1.80" fill="#fca65d"/><rect x="673.10" y="656.00" width="65.40" height="2.30" fill="#fed787"/><rect x="673.10" y="658.00" width="65.40" height="4.30" fill="#fee99d"/><rect x="673.10" y="662.00" width="65.40" height="2.80" fill="#fdbd6f"/><rect x="673.10" y="664.50" width="65.40" height="2.80" fill="#fecc7d"/><rect x="673.10" y="667.00" width="65.40" height="3.30" fill="#fdc375"/><rect x="673.10" y="670.00" width="65.40" height="2.80" fill="#fff6b1"/><rect x="673.10" y="672.50" width="65.40" height="2.30" fill="#f4fbd4"/><rect x="673.10" y="674.50" width="65.40" height="2.80" fill="#fff3ad"/><rect x="673.10" y="677.00" width="65.40" height="2.30" fill="#f88c51"/><rect x="673.10" y="679.00" width="65.40" height="1.80" fill="#fca95f"/><rect x="673.10" y="680.50" width="65.40" height="1.80" fill="#f88a50"/><rect x="673.10" y="682.00" width="65.40" height="3.30" fill="#fdc173"/><rect x="673.10" y="685.00" width="65.40" height="3.30" fill="#fecc7d"/><rect x="673.10" y="688.00" width="65.40" height="2.30" fill="#fdb164"/><rect x="673.10" y="690.00" width="65.40" height="2.80" fill="#feda8a"/><rect x="673.10" y="692.50" width="65.40" height="2.30" fill="#fee293"/><rect x="673.10" y="694.50" width="65.40" height="2.30" fill="#fee090"/><rect x="673.10" y="696.50" width="65.40" height="1.80" fill="#feeda3"/><rect x="673.10" y="698.00" width="65.40" height="2.30" fill="#f8874f"/><rect x="673.10" y="700.00" width="65.40" height="2.30" fill="#fca45c"/><rect x="673.10" y="702.00" width="65.40" height="2.30" fill="#f7804c"/><rect x="673.10" y="704.00" width="65.40" height="2.30" fill="#fba15b"/><rect x="673.10" y="706.00" width="65.40" height="2.30" fill="#fdbe70"/><rect x="673.10" y="708.00" width="65.40" height="2.30" fill="#fedd8d"/><rect x="673.10" y="710.00" width="65.40" height="2.30" fill="#fdb467"/><rect x="673.10" y="712.00" width="65.40" height="2.80" fill="#fed283"/><rect x="673.10" y="714.50" width="65.40" height="1.80" fill="#fdb163"/><rect x="673.10" y="716.00" width="65.40" height="29.30" fill="#fdb568"/><rect x="673.10" y="745.00" width="65.40" height="2.80" fill="#f98f53"/><rect x="673.10" y="747.50" width="65.40" height="2.80" fill="#fdad61"/><rect x="673.10" y="750.00" width="65.40" height="2.30" fill="#fa9656"/><rect x="673.10" y="752.00" width="65.40" height="2.30" fill="#fb9d59"/><rect x="673.10" y="754.00" width="65.40" height="2.30" fill="#fdb366"/><rect x="673.10" y="756.00" width="65.40" height="2.30" fill="#fca45d"/><rect x="673.10" y="758.00" width="65.40" height="2.30" fill="#fdbd6f"/><rect x="673.10" y="760.00" width="65.40" height="2.30" fill="#f88950"/><rect x="673.10" y="762.00" width="65.40" height="2.30" fill="#fba05a"/><rect x="673.10" y="764.00" width="65.40" height="1.80" fill="#fa9a58"/><rect x="673.10" y="765.50" width="65.40" height="2.80" fill="#fdb265"/><rect x="673.10" y="768.00" width="65.40" height="2.30" fill="#fecc7d"/><rect x="673.10" y="770.00" width="65.40" height="2.30" fill="#fee395"/><rect x="673.10" y="772.00" width="65.40" height="3.30" fill="#fede8e"/><rect x="673.10" y="775.00" width="65.40" height="2.30" fill="#f99154"/><rect x="673.10" y="777.00" width="65.40" height="2.80" fill="#fdb366"/><rect x="673.10" y="779.50" width="65.40" height="2.30" fill="#fa9756"/><rect x="673.10" y="781.50" width="65.40" height="2.30" fill="#fa9c59"/><rect x="673.10" y="783.50" width="65.40" height="1.80" fill="#fa9a58"/><rect x="673.10" y="785.00" width="65.40" height="2.30" fill="#abd9e9"/><rect x="673.10" y="787.00" width="65.40" height="2.80" fill="#a4d3e6"/><rect x="673.10" y="789.50" width="65.40" height="2.30" fill="#b9e0ed"/><rect x="673.10" y="791.50" width="65.40" height="2.30" fill="#9bcce2"/><rect x="673.10" y="793.50" width="65.40" height="2.80" fill="#c2e4f0"/><rect x="673.10" y="796.00" width="65.40" height="2.30" fill="#9ccde2"/><rect x="673.10" y="798.00" width="65.40" height="2.80" fill="#b1dceb"/><rect x="673.10" y="800.50" width="65.40" height="2.30" fill="#9dcee3"/><rect x="673.10" y="802.50" width="65.40" height="2.80" fill="#bae0ed"/><rect x="673.10" y="805.00" width="65.40" height="2.30" fill="#e5f5ee"/><rect x="673.10" y="807.00" width="65.40" height="1.80" fill="#dbf0f7"/><rect x="673.10" y="808.50" width="65.40" height="3.30" fill="#e5f5ef"/><rect x="673.10" y="811.50" width="65.40" height="3.80" fill="#cce9f2"/><rect x="673.10" y="815.00" width="65.40" height="4.30" fill="#4065ac"/><rect x="673.10" y="819.00" width="65.40" height="2.30" fill="#c1e4ef"/><rect x="673.10" y="821.00" width="65.40" height="3.30" fill="#a4d3e6"/><rect x="673.10" y="824.00" width="65.40" height="1.80" fill="#99cae1"/><rect x="673.10" y="825.50" width="65.40" height="2.80" fill="#78b0d3"/><rect x="673.10" y="828.00" width="65.40" height="2.30" fill="#a7d6e7"/><rect x="673.10" y="830.00" width="65.40" height="2.30" fill="#8dc1dc"/><rect x="673.10" y="832.00" width="65.40" height="3.30" fill="#bde2ee"/><rect x="673.10" y="835.00" width="65.40" height="2.30" fill="#a3d3e6"/><rect x="673.10" y="837.00" width="65.40" height="3.30" fill="#b4ddeb"/><rect x="673.10" y="840.00" width="65.40" height="2.80" fill="#85bbd9"/><rect x="673.10" y="842.50" width="65.40" height="2.30" fill="#689fca"/><rect x="673.10" y="844.50" width="65.40" height="1.80" fill="#7bb3d4"/><rect x="673.10" y="846.00" width="65.40" height="2.30" fill="#b9e0ed"/><rect x="673.10" y="848.00" width="65.40" height="1.80" fill="#a5d4e7"/><rect x="673.10" y="849.50" width="65.40" height="2.80" fill="#b1dceb"/><rect x="673.10" y="852.00" width="65.40" height="3.30" fill="#8abfdb"/><rect x="673.10" y="855.00" width="65.40" height="3.30" fill="#70a8ce"/><rect x="673.10" y="858.00" width="65.40" height="1.80" fill="#a3d3e6"/><rect x="673.10" y="859.50" width="65.40" height="3.30" fill="#83b9d7"/><rect x="673.10" y="862.50" width="65.40" height="2.30" fill="#91c5de"/><rect x="673.10" y="864.50" width="65.40" height="1.80" fill="#7bb2d4"/><rect x="673.10" y="866.00" width="65.40" height="1.80" fill="#5d91c3"/><rect x="673.10" y="867.50" width="65.40" height="3.30" fill="#4c7db8"/><rect x="673.10" y="870.50" width="65.40" height="1.80" fill="#6ca4cc"/><rect x="673.10" y="872.00" width="65.40" height="2.80" fill="#bee2ee"/><rect x="673.10" y="874.50" width="65.40" height="1.80" fill="#a3d3e6"/><rect x="673.10" y="876.00" width="65.40" height="2.30" fill="#bde2ee"/><rect x="673.10" y="878.00" width="65.40" height="2.30" fill="#e3f4f3"/><rect x="673.10" y="880.00" width="65.40" height="2.80" fill="#d3edf4"/><rect x="673.10" y="882.50" width="65.40" height="1.80" fill="#eaf7e5"/><rect x="673.10" y="884.00" width="65.40" height="2.80" fill="#cbe9f2"/><rect x="673.10" y="886.50" width="65.40" height="1.80" fill="#c2e4f0"/><rect x="673.10" y="888.00" width="65.40" height="2.30" fill="#c6e6f1"/><rect x="673.10" y="890.00" width="65.40" height="2.30" fill="#9bcce2"/><rect x="673.10" y="892.00" width="65.40" height="2.30" fill="#8dc1dc"/><rect x="673.10" y="894.00" width="65.40" height="2.30" fill="#9acbe1"/><rect x="673.10" y="896.00" width="65.40" height="2.30" fill="#cdeaf3"/><rect x="673.10" y="898.00" width="65.40" height="1.80" fill="#b5deec"/><rect x="673.10" y="899.50" width="65.40" height="2.80" fill="#d6eef5"/><rect x="673.10" y="902.00" width="65.40" height="2.30" fill="#e3f4f2"/><rect x="673.10" y="904.00" width="65.40" height="1.80" fill="#daf0f6"/><rect x="673.10" y="905.50" width="65.40" height="2.80" fill="#e7f6eb"/><rect x="673.10" y="908.00" width="65.40" height="2.30" fill="#fcfec5"/><rect x="673.10" y="910.00" width="65.40" height="4.30" fill="#e6f5ec"/><rect x="673.10" y="914.00" width="65.40" height="3.30" fill="#b5deec"/><rect x="673.10" y="917.00" width="65.40" height="3.30" fill="#a3d3e6"/><rect x="673.10" y="920.00" width="65.40" height="2.30" fill="#cae8f2"/><rect x="673.10" y="922.00" width="65.40" height="1.80" fill="#bbe1ee"/><rect x="673.10" y="923.50" width="65.40" height="2.80" fill="#d5edf5"/><rect x="673.10" y="926.00" width="65.40" height="18.30" fill="#c6e6f0"/><rect x="673.10" y="944.00" width="65.40" height="2.80" fill="#7fb6d6"/><rect x="673.10" y="946.50" width="65.40" height="1.80" fill="#649ac7"/><rect x="673.10" y="948.00" width="65.40" height="2.30" fill="#d7eff6"/><rect x="673.10" y="950.00" width="65.40" height="1.80" fill="#c1e4ef"/><rect x="673.10" y="951.50" width="65.40" height="2.80" fill="#cae8f2"/><rect x="673.10" y="954.00" width="65.40" height="2.30" fill="#fffbb8"/><rect x="673.10" y="956.00" width="65.40" height="4.30" fill="#fcfec5"/><rect x="673.10" y="960.00" width="65.40" height="2.30" fill="#c8e7f1"/><rect x="673.10" y="962.00" width="65.40" height="2.30" fill="#c2e4ef"/><rect x="673.10" y="964.00" width="65.40" height="2.30" fill="#5d91c3"/><rect x="673.10" y="966.00" width="65.40" height="2.30" fill="#4f80ba"/><rect x="673.10" y="968.00" width="65.40" height="3.30" fill="#a2d2e5"/><rect x="673.10" y="971.00" width="65.40" height="3.30" fill="#77afd2"/><rect x="673.10" y="974.00" width="65.40" height="1.80" fill="#8cc0db"/><rect x="673.10" y="975.50" width="65.40" height="2.80" fill="#6ea5cd"/><rect x="673.10" y="978.00" width="65.40" height="3.30" fill="#fee699"/><rect x="673.10" y="981.00" width="65.40" height="3.30" fill="#fff2ac"/><rect x="673.10" y="984.00" width="65.40" height="2.80" fill="#ffffbe"/><rect x="673.10" y="986.50" width="65.40" height="3.80" fill="#f2fad6"/><rect x="673.10" y="990.00" width="65.40" height="2.30" fill="#eaf7e6"/><rect x="673.10" y="992.00" width="65.40" height="2.30" fill="#d6eef5"/><rect x="673.10" y="994.00" width="65.40" height="2.30" fill="#e8f6ea"/><rect x="673.10" y="996.00" width="65.40" height="1.80" fill="#fed989"/><rect x="673.10" y="997.50" width="65.40" height="2.80" fill="#feeca3"/><rect x="673.10" y="1000.00" width="65.40" height="2.30" fill="#9fcfe4"/><rect x="673.10" y="1002.00" width="65.40" height="2.30" fill="#8fc3dd"/><rect x="673.10" y="1004.00" width="65.40" height="3.30" fill="#bde2ee"/><rect x="673.10" y="1007.00" width="65.40" height="2.30" fill="#a9d7e8"/><rect x="673.10" y="1009.00" width="65.40" height="2.30" fill="#bfe3ef"/><rect x="673.10" y="1011.00" width="65.40" height="2.30" fill="#fee395"/><rect x="673.10" y="1013.00" width="65.40" height="2.80" fill="#fff4ae"/><rect x="673.10" y="1015.50" width="65.40" height="2.80" fill="#feeea5"/><rect x="673.10" y="1018.00" width="65.40" height="2.30" fill="#fff3ad"/><rect x="673.10" y="1020.00" width="65.40" height="1.80" fill="#fbfdc7"/><rect x="673.10" y="1021.50" width="65.40" height="2.80" fill="#fffbb8"/><rect x="673.10" y="1024.00" width="65.40" height="2.80" fill="#fee69a"/><rect x="673.10" y="1026.50" width="65.40" height="2.30" fill="#fffbb8"/><rect x="673.10" y="1028.50" width="65.40" height="1.80" fill="#fee293"/><rect x="673.10" y="1030.00" width="65.40" height="2.80" fill="#fecd7e"/><rect x="673.10" y="1032.50" width="65.40" height="1.80" fill="#feeca2"/><rect x="673.10" y="1034.00" width="65.40" height="1.80" fill="#fee293"/><rect x="673.10" y="1035.50" width="65.40" height="2.80" fill="#fff2ab"/><rect x="673.10" y="1038.00" width="65.40" height="2.30" fill="#fee79b"/></g>
<path d="M91.4 536.0L91.4 881.0M91.4 536.0L116.1 536.0M116.1 489.8L116.1 581.6M116.1 489.8L122.2 489.8M122.2 479.4L122.2 500.1M122.2 479.4L131.2 479.4M131.2 479.2L131.2 485.4M131.2 479.2L150.5 479.2M131.2 485.4L138.0 485.4M138.0 482.6L138.0 487.0M138.0 482.6L138.8 482.6M138.8 481.0L138.8 484.3M138.8 481.0L144.5 481.0M144.5 480.4L144.5 481.5M144.5 480.4L150.5 480.4M144.5 481.5L150.5 481.5M138.8 484.3L142.3 484.3M142.3 483.5L142.3 485.0M142.3 483.5L145.9 483.5M145.9 482.7L145.9 483.9M145.9 482.7L150.5 482.7M145.9 483.9L150.5 483.9M142.3 485.0L150.5 485.0M138.0 487.0L146.2 487.0M146.2 486.2L146.2 487.4M146.2 486.2L150.5 486.2M146.2 487.4L150.5 487.4M122.2 500.1L127.4 500.1M127.4 497.6L127.4 503.5M127.4 497.6L134.5 497.6M134.5 493.4L134.5 497.6M134.5 493.4L136.0 493.4M136.0 489.8L136.0 495.5M136.0 489.8L138.1 489.8M138.1 489.2L138.1 492.0M138.1 489.2L144.8 489.2M144.8 488.5L144.8 489.7M144.8 488.5L150.5 488.5M144.8 489.7L150.5 489.7M138.1 492.0L140.4 492.0M140.4 491.2L140.4 493.9M140.4 491.2L145.2 491.2M145.2 490.9L145.2 492.0M145.2 490.9L150.5 490.9M145.2 492.0L150.5 492.0M140.4 493.9L145.5 493.9M145.5 493.2L145.5 494.4M145.5 493.2L150.5 493.2M145.5 494.4L150.5 494.4M136.0 495.5L150.5 495.5M134.5 497.6L141.8 497.6M141.8 496.7L141.8 498.8M141.8 496.7L150.5 496.7M141.8 498.8L142.6 498.8M142.6 497.9L142.6 499.3M142.6 497.9L150.5 497.9M142.6 499.3L145.6 499.3M145.6 499.0L145.6 500.2M145.6 499.0L150.5 499.0M145.6 500.2L150.5 500.2M127.4 503.5L140.0 503.5M140.0 501.7L140.0 504.2M140.0 501.7L144.4 501.7M144.4 501.4L144.4 502.6M144.4 501.4L150.5 501.4M144.4 502.6L150.5 502.6M140.0 504.2L144.3 504.2M144.3 503.7L144.3 504.9M144.3 503.7L150.5 503.7M144.3 504.9L150.5 504.9M116.1 581.6L118.0 581.6M118.0 546.8L118.0 616.5M118.0 546.8L122.7 546.8M122.7 516.7L122.7 576.6M122.7 516.7L127.7 516.7M127.7 511.9L127.7 530.2M127.7 511.9L132.9 511.9M132.9 507.2L132.9 514.7M132.9 507.2L140.5 507.2M140.5 506.1L140.5 508.2M140.5 506.1L150.5 506.1M140.5 508.2L141.3 508.2M141.3 507.2L141.3 508.9M141.3 507.2L150.5 507.2M141.3 508.9L143.5 508.9M143.5 508.4L143.5 510.3M143.5 508.4L150.5 508.4M143.5 510.3L144.7 510.3M144.7 509.6L144.7 510.7M144.7 509.6L150.5 509.6M144.7 510.7L150.5 510.7M132.9 514.7L137.8 514.7M137.8 512.8L137.8 517.3M137.8 512.8L145.2 512.8M145.2 511.9L145.2 513.1M145.2 511.9L150.5 511.9M145.2 513.1L150.5 513.1M137.8 517.3L139.1 517.3M139.1 516.1L139.1 518.0M139.1 516.1L143.6 516.1M143.6 514.7L143.6 516.6M143.6 514.7L146.3 514.7M146.3 514.2L146.3 515.4M146.3 514.2L150.5 514.2M146.3 515.4L150.5 515.4M143.6 516.6L150.5 516.6M139.1 518.0L146.6 518.0M146.6 517.7L146.6 518.9M146.6 517.7L150.5 517.7M146.6 518.9L150.5 518.9M127.7 530.2L131.7 530.2M131.7 528.5L131.7 535.7M131.7 528.5L135.0 528.5M135.0 522.4L135.0 529.1M135.0 522.4L137.8 522.4M137.8 520.6L137.8 523.6M137.8 520.6L144.7 520.6M144.7 520.1L144.7 521.2M144.7 520.1L150.5 520.1M144.7 521.2L150.5 521.2M137.8 523.6L139.7 523.6M139.7 522.9L139.7 526.1M139.7 522.9L144.5 522.9M144.5 522.4L144.5 523.6M144.5 522.4L150.5 522.4M144.5 523.6L150.5 523.6M139.7 526.1L143.0 526.1M143.0 524.7L143.0 526.8M143.0 524.7L150.5 524.7M143.0 526.8L144.7 526.8M144.7 525.9L144.7 527.1M144.7 525.9L150.5 525.9M144.7 527.1L150.5 527.1M135.0 529.1L142.3 529.1M142.3 528.3L142.3 530.3M142.3 528.3L150.5 528.3M142.3 530.3L146.2 530.3M146.2 529.4L146.2 530.6M146.2 529.4L150.5 529.4M146.2 530.6L150.5 530.6M131.7 535.7L136.1 535.7M136.1 533.2L136.1 538.4M136.1 533.2L140.4 533.2M140.4 532.6L140.4 535.4M140.4 532.6L145.2 532.6M145.2 531.8L145.2 532.9M145.2 531.8L150.5 531.8M145.2 532.9L150.5 532.9M140.4 535.4L141.8 535.4M141.8 535.0L141.8 536.4M141.8 535.0L144.8 535.0M144.8 534.1L144.8 535.3M144.8 534.1L150.5 534.1M144.8 535.3L150.5 535.3M141.8 536.4L150.5 536.4M136.1 538.4L144.7 538.4M144.7 537.6L144.7 538.8M144.7 537.6L150.5 537.6M144.7 538.8L150.5 538.8M122.7 576.6L126.3 576.6M126.3 554.7L126.3 585.1M126.3 554.7L127.8 554.7M127.8 542.8L127.8 561.9M127.8 542.8L135.2 542.8M135.2 540.4L135.2 548.4M135.2 540.4L144.7 540.4M144.7 539.9L144.7 541.1M144.7 539.9L150.5 539.9M144.7 541.1L150.5 541.1M135.2 548.4L136.0 548.4M136.0 545.0L136.0 549.6M136.0 545.0L137.4 545.0M137.4 545.0L137.4 547.2M137.4 545.0L140.0 545.0M140.0 543.7L140.0 545.8M140.0 543.7L143.2 543.7M143.2 543.2L143.2 544.6M143.2 543.2L145.6 543.2M145.6 542.3L145.6 543.4M145.6 542.3L150.5 542.3M145.6 543.4L150.5 543.4M143.2 544.6L150.5 544.6M140.0 545.8L150.5 545.8M137.4 547.2L145.3 547.2M145.3 546.9L145.3 548.1M145.3 546.9L150.5 546.9M145.3 548.1L150.5 548.1M136.0 549.6L145.1 549.6M145.1 549.3L145.1 550.5M145.1 549.3L150.5 549.3M145.1 550.5L150.5 550.5M127.8 561.9L130.8 561.9M130.8 556.1L130.8 566.3M130.8 556.1L134.4 556.1M134.4 553.1L134.4 558.3M134.4 553.1L143.9 553.1M143.9 552.1L143.9 554.0M143.9 552.1L144.7 552.1M144.7 551.6L144.7 552.8M144.7 551.6L150.5 551.6M144.7 552.8L150.5 552.8M143.9 554.0L150.5 554.0M134.4 558.3L135.3 558.3M135.3 557.3L135.3 562.2M135.3 557.3L141.8 557.3M141.8 556.3L141.8 558.6M141.8 556.3L142.6 556.3M142.6 555.1L142.6 557.2M142.6 555.1L150.5 555.1M142.6 557.2L144.3 557.2M144.3 556.3L144.3 557.5M144.3 556.3L150.5 556.3M144.3 557.5L150.5 557.5M141.8 558.6L150.5 558.6M135.3 562.2L140.5 562.2M140.5 560.3L140.5 563.3M140.5 560.3L143.1 560.3M143.1 559.8L143.1 561.6M143.1 559.8L150.5 559.8M143.1 561.6L145.7 561.6M145.7 561.0L145.7 562.1M145.7 561.0L150.5 561.0M145.7 562.1L150.5 562.1M140.5 563.3L150.5 563.3M130.8 566.3L135.3 566.3M135.3 564.5L135.3 569.7M135.3 564.5L150.5 564.5M135.3 569.7L138.3 569.7M138.3 567.9L138.3 571.3M138.3 567.9L141.4 567.9M141.4 566.2L141.4 568.6M141.4 566.2L145.5 566.2M145.5 565.6L145.5 566.8M145.5 565.6L150.5 565.6M145.5 566.8L150.5 566.8M141.4 568.6L145.5 568.6M145.5 568.0L145.5 569.1M145.5 568.0L150.5 568.0M145.5 569.1L150.5 569.1M138.3 571.3L142.9 571.3M142.9 570.3L142.9 572.1M142.9 570.3L150.5 570.3M142.9 572.1L144.8 572.1M144.8 571.5L144.8 572.7M144.8 571.5L150.5 571.5M144.8 572.7L150.5 572.7M126.3 585.1L132.6 585.1M132.6 577.9L132.6 586.5M132.6 577.9L137.3 577.9M137.3 574.8L137.3 578.7M137.3 574.8L143.0 574.8M143.0 573.8L143.0 575.7M143.0 573.8L150.5 573.8M143.0 575.7L145.3 575.7M145.3 575.0L145.3 576.2M145.3 575.0L150.5 575.0M145.3 576.2L150.5 576.2M137.3 578.7L139.4 578.7M139.4 577.8L139.4 580.5M139.4 577.8L145.7 577.8M145.7 577.3L145.7 578.5M145.7 577.3L150.5 577.3M145.7 578.5L150.5 578.5M139.4 580.5L143.5 580.5M143.5 579.7L143.5 581.3M143.5 579.7L150.5 579.7M143.5 581.3L145.6 581.3M145.6 580.8L145.6 582.0M145.6 580.8L150.5 580.8M145.6 582.0L150.5 582.0M132.6 586.5L137.6 586.5M137.6 583.5L137.6 587.2M137.6 583.5L146.2 583.5M146.2 583.2L146.2 584.3M146.2 583.2L150.5 583.2M146.2 584.3L150.5 584.3M137.6 587.2L141.7 587.2M141.7 585.5L141.7 588.5M141.7 585.5L150.5 585.5M141.7 588.5L142.5 588.5M142.5 586.7L142.5 588.5M142.5 586.7L150.5 586.7M142.5 588.5L145.4 588.5M145.4 587.8L145.4 589.0M145.4 587.8L150.5 587.8M145.4 589.0L150.5 589.0M118.0 616.5L120.8 616.5M120.8 588.2L120.8 700.0M120.8 588.2L122.0 588.2M122.0 588.2L122.0 623.0M122.0 588.2L141.3 588.2M141.3 590.2L141.3 592.4M141.3 590.2L150.5 590.2M141.3 592.4L142.1 592.4M142.1 591.3L142.1 592.9M142.1 591.3L150.5 591.3M142.1 592.9L145.7 592.9M145.7 592.5L145.7 593.7M145.7 592.5L150.5 592.5M145.7 593.7L150.5 593.7M122.0 623.0L125.0 623.0M125.0 610.1L125.0 634.0M125.0 610.1L129.5 610.1M129.5 600.5L129.5 613.3M129.5 600.5L134.2 600.5M134.2 597.2L134.2 606.0M134.2 597.2L139.9 597.2M139.9 596.2L139.9 598.4M139.9 596.2L143.5 596.2M143.5 594.8L143.5 596.7M143.5 594.8L150.5 594.8M143.5 596.7L144.7 596.7M144.7 596.0L144.7 597.2M144.7 596.0L150.5 596.0M144.7 597.2L150.5 597.2M139.9 598.4L150.5 598.4M134.2 606.0L135.3 606.0M135.3 601.3L135.3 606.8M135.3 601.3L138.1 601.3M138.1 599.5L138.1 602.3M138.1 599.5L150.5 599.5M138.1 602.3L140.0 602.3M140.0 602.1L140.0 604.8M140.0 602.1L143.0 602.1M143.0 601.5L143.0 603.0M143.0 601.5L145.9 601.5M145.9 600.7L145.9 601.9M145.9 600.7L150.5 600.7M145.9 601.9L150.5 601.9M143.0 603.0L150.5 603.0M140.0 604.8L146.0 604.8M146.0 604.2L146.0 605.4M146.0 604.2L150.5 604.2M146.0 605.4L150.5 605.4M135.3 606.8L145.9 606.8M145.9 606.5L145.9 607.7M145.9 606.5L150.5 606.5M145.9 607.7L150.5 607.7M129.5 613.3L132.5 613.3M132.5 610.2L132.5 618.6M132.5 610.2L139.7 610.2M139.7 609.5L139.7 612.6M139.7 609.5L145.4 609.5M145.4 608.9L145.4 610.0M145.4 608.9L150.5 608.9M145.4 610.0L150.5 610.0M139.7 612.6L143.5 612.6M143.5 611.7L143.5 613.5M143.5 611.7L146.6 611.7M146.6 611.2L146.6 612.4M146.6 611.2L150.5 611.2M146.6 612.4L150.5 612.4M143.5 613.5L150.5 613.5M132.5 618.6L137.3 618.6M137.3 618.1L137.3 622.1M137.3 618.1L140.4 618.1M140.4 615.6L140.4 618.9M140.4 615.6L146.6 615.6M146.6 614.7L146.6 615.9M146.6 614.7L150.5 614.7M146.6 615.9L150.5 615.9M140.4 618.9L142.8 618.9M142.8 617.9L142.8 619.4M142.8 617.9L146.3 617.9M146.3 617.0L146.3 618.2M146.3 617.0L150.5 617.0M146.3 618.2L150.5 618.2M142.8 619.4L150.5 619.4M137.3 622.1L141.8 622.1M141.8 620.8L141.8 622.9M141.8 620.8L145.3 620.8M145.3 620.6L145.3 621.7M145.3 620.6L150.5 620.6M145.3 621.7L150.5 621.7M141.8 622.9L150.5 622.9M125.0 634.0L128.2 634.0M128.2 630.2L128.2 642.1M128.2 630.2L134.4 630.2M134.4 626.2L134.4 630.7M134.4 626.2L139.5 626.2M139.5 624.1L139.5 626.9M139.5 624.1L150.5 624.1M139.5 626.9L142.1 626.9M142.1 626.4L142.1 628.7M142.1 626.4L143.2 626.4M143.2 626.1L143.2 627.6M143.2 626.1L145.4 626.1M145.4 625.2L145.4 626.4M145.4 625.2L150.5 625.2M145.4 626.4L150.5 626.4M143.2 627.6L150.5 627.6M142.1 628.7L150.5 628.7M134.4 630.7L141.3 630.7M141.3 629.9L141.3 632.6M141.3 629.9L150.5 629.9M141.3 632.6L142.6 632.6M142.6 631.5L142.6 633.4M142.6 631.5L146.0 631.5M146.0 631.1L146.0 632.2M146.0 631.1L150.5 631.1M146.0 632.2L150.5 632.2M142.6 633.4L150.5 633.4M128.2 642.1L133.3 642.1M133.3 637.6L133.3 647.4M133.3 637.6L138.3 637.6M138.3 636.4L138.3 639.8M138.3 636.4L143.0 636.4M143.0 634.6L143.0 636.7M143.0 634.6L150.5 634.6M143.0 636.7L145.5 636.7M145.5 635.7L145.5 636.9M145.5 635.7L150.5 635.7M145.5 636.9L150.5 636.9M138.3 639.8L142.3 639.8M142.3 638.5L142.3 640.4M142.3 638.5L145.5 638.5M145.5 638.1L145.5 639.2M145.5 638.1L150.5 638.1M145.5 639.2L150.5 639.2M142.3 640.4L150.5 640.4M133.3 647.4L135.8 647.4M135.8 643.6L135.8 647.4M135.8 643.6L142.0 643.6M142.0 642.2L142.0 644.8M142.0 642.2L144.5 642.2M144.5 641.6L144.5 642.8M144.5 641.6L150.5 641.6M144.5 642.8L150.5 642.8M142.0 644.8L144.4 644.8M144.4 643.9L144.4 645.1M144.4 643.9L150.5 643.9M144.4 645.1L150.5 645.1M135.8 647.4L140.9 647.4M140.9 646.8L140.9 649.5M140.9 646.8L146.1 646.8M146.1 646.3L146.1 647.4M146.1 646.3L150.5 646.3M146.1 647.4L150.5 647.4M140.9 649.5L145.2 649.5M145.2 648.6L145.2 649.8M145.2 648.6L150.5 648.6M145.2 649.8L150.5 649.8M120.8 700.0L124.5 700.0M124.5 668.4L124.5 747.4M124.5 668.4L125.3 668.4M125.3 663.0L125.3 685.7M125.3 663.0L129.7 663.0M129.7 653.8L129.7 670.4M129.7 653.8L133.7 653.8M133.7 651.2L133.7 656.3M133.7 651.2L146.0 651.2M146.0 650.9L146.0 652.1M146.0 650.9L150.5 650.9M146.0 652.1L150.5 652.1M133.7 656.3L135.7 656.3M135.7 653.8L135.7 658.8M135.7 653.8L146.3 653.8M146.3 653.3L146.3 654.4M146.3 653.3L150.5 653.3M146.3 654.4L150.5 654.4M135.7 658.8L138.5 658.8M138.5 656.3L138.5 660.5M138.5 656.3L144.3 656.3M144.3 655.6L144.3 656.8M144.3 655.6L150.5 655.6M144.3 656.8L150.5 656.8M138.5 660.5L141.2 660.5M141.2 658.6L141.2 661.4M141.2 658.6L142.0 658.6M142.0 658.5L142.0 660.3M142.0 658.5L144.7 658.5M144.7 657.9L144.7 659.1M144.7 657.9L150.5 657.9M144.7 659.1L150.5 659.1M142.0 660.3L150.5 660.3M141.2 661.4L150.5 661.4M129.7 670.4L133.4 670.4M133.4 667.2L133.4 673.6M133.4 667.2L135.6 667.2M135.6 665.2L135.6 668.7M135.6 665.2L140.4 665.2M140.4 663.4L140.4 665.3M140.4 663.4L144.5 663.4M144.5 662.6L144.5 663.8M144.5 662.6L150.5 662.6M144.5 663.8L150.5 663.8M140.4 665.3L146.4 665.3M146.4 664.9L146.4 666.1M146.4 664.9L150.5 664.9M146.4 666.1L150.5 666.1M135.6 668.7L141.9 668.7M141.9 667.3L141.9 669.3M141.9 667.3L150.5 667.3M141.9 669.3L142.7 669.3M142.7 668.5L142.7 670.2M142.7 668.5L150.5 668.5M142.7 670.2L145.9 670.2M145.9 669.6L145.9 670.8M145.9 669.6L150.5 669.6M145.9 670.8L150.5 670.8M133.4 673.6L143.3 673.6M143.3 672.6L143.3 674.3M143.3 672.6L146.1 672.6M146.1 672.0L146.1 673.1M146.1 672.0L150.5 672.0M146.1 673.1L150.5 673.1M143.3 674.3L150.5 674.3M125.3 685.7L126.1 685.7M126.1 679.3L126.1 696.2M126.1 679.3L137.9 679.3M137.9 677.8L137.9 682.1M137.9 677.8L139.4 677.8M139.4 676.3L139.4 678.9M139.4 676.3L144.3 676.3M144.3 675.5L144.3 676.6M144.3 675.5L150.5 675.5M144.3 676.6L150.5 676.6M139.4 678.9L143.4 678.9M143.4 678.7L143.4 680.1M143.4 678.7L145.4 678.7M145.4 677.8L145.4 679.0M145.4 677.8L150.5 677.8M145.4 679.0L150.5 679.0M143.4 680.1L150.5 680.1M137.9 682.1L145.9 682.1M145.9 681.3L145.9 682.5M145.9 681.3L150.5 681.3M145.9 682.5L150.5 682.5M126.1 696.2L127.9 696.2M127.9 686.3L127.9 707.8M127.9 686.3L137.5 686.3M137.5 684.3L137.5 687.6M137.5 684.3L145.9 684.3M145.9 683.6L145.9 684.8M145.9 683.6L150.5 683.6M145.9 684.8L150.5 684.8M137.5 687.6L138.3 687.6M138.3 686.5L138.3 689.9M138.3 686.5L145.1 686.5M145.1 686.0L145.1 687.1M145.1 686.0L150.5 686.0M145.1 687.1L150.5 687.1M138.3 689.9L140.2 689.9M140.2 688.3L140.2 690.8M140.2 688.3L150.5 688.3M140.2 690.8L141.6 690.8M141.6 689.5L141.6 691.0M141.6 689.5L150.5 689.5M141.6 691.0L145.3 691.0M145.3 690.7L145.3 691.8M145.3 690.7L150.5 690.7M145.3 691.8L150.5 691.8M127.9 707.8L131.6 707.8M131.6 698.7L131.6 709.2M131.6 698.7L132.8 698.7M132.8 693.9L132.8 698.8M132.8 693.9L143.6 693.9M143.6 693.9L143.6 695.3M143.6 693.9L145.6 693.9M145.6 693.0L145.6 694.2M145.6 693.0L150.5 693.0M145.6 694.2L150.5 694.2M143.6 695.3L150.5 695.3M132.8 698.8L136.4 698.8M136.4 698.4L136.4 703.1M136.4 698.4L141.5 698.4M141.5 696.5L141.5 699.2M141.5 696.5L150.5 696.5M141.5 699.2L143.4 699.2M143.4 698.0L143.4 700.0M143.4 698.0L145.0 698.0M145.0 697.7L145.0 698.8M145.0 697.7L150.5 697.7M145.0 698.8L150.5 698.8M143.4 700.0L150.5 700.0M136.4 703.1L138.8 703.1M138.8 702.2L138.8 705.2M138.8 702.2L142.0 702.2M142.0 701.2L142.0 702.6M142.0 701.2L150.5 701.2M142.0 702.6L145.0 702.6M145.0 702.3L145.0 703.5M145.0 702.3L150.5 702.3M145.0 703.5L150.5 703.5M138.8 705.2L144.7 705.2M144.7 704.7L144.7 705.8M144.7 704.7L150.5 704.7M144.7 705.8L150.5 705.8M131.6 709.2L137.2 709.2M137.2 707.0L137.2 712.5M137.2 707.0L150.5 707.0M137.2 712.5L139.4 712.5M139.4 709.3L139.4 714.0M139.4 709.3L140.2 709.3M140.2 708.6L140.2 711.3M140.2 708.6L145.2 708.6M145.2 708.2L145.2 709.3M145.2 708.2L150.5 708.2M145.2 709.3L150.5 709.3M140.2 711.3L142.0 711.3M142.0 710.5L142.0 712.3M142.0 710.5L150.5 710.5M142.0 712.3L145.4 712.3M145.4 711.7L145.4 712.9M145.4 711.7L150.5 711.7M145.4 712.9L150.5 712.9M139.4 714.0L150.5 714.0M124.5 747.4L125.3 747.4M125.3 730.5L125.3 775.6M125.3 730.5L128.8 730.5M128.8 721.2L128.8 736.1M128.8 721.2L131.7 721.2M131.7 716.6L131.7 726.7M131.7 716.6L136.6 716.6M136.6 716.4L136.6 721.4M136.6 716.4L142.9 716.4M142.9 715.7L142.9 717.5M142.9 715.7L145.8 715.7M145.8 715.2L145.8 716.4M145.8 715.2L150.5 715.2M145.8 716.4L150.5 716.4M142.9 717.5L150.5 717.5M136.6 721.4L142.0 721.4M142.0 720.1L142.0 722.2M142.0 720.1L143.8 720.1M143.8 719.6L143.8 721.0M143.8 719.6L144.6 719.6M144.6 718.7L144.6 719.9M144.6 718.7L150.5 718.7M144.6 719.9L150.5 719.9M143.8 721.0L150.5 721.0M142.0 722.2L150.5 722.2M131.7 726.7L135.1 726.7M135.1 724.2L135.1 729.4M135.1 724.2L145.7 724.2M145.7 723.4L145.7 724.5M145.7 723.4L150.5 723.4M145.7 724.5L150.5 724.5M135.1 729.4L137.0 729.4M137.0 727.0L137.0 731.4M137.0 727.0L140.4 727.0M140.4 726.4L140.4 728.7M140.4 726.4L144.9 726.4M144.9 725.7L144.9 726.9M144.9 725.7L150.5 725.7M144.9 726.9L150.5 726.9M140.4 728.7L145.9 728.7M145.9 728.0L145.9 729.2M145.9 728.0L150.5 728.0M145.9 729.2L150.5 729.2M137.0 731.4L142.8 731.4M142.8 730.4L142.8 732.3M142.8 730.4L150.5 730.4M142.8 732.3L145.6 732.3M145.6 731.5L145.6 732.7M145.6 731.5L150.5 731.5M145.6 732.7L150.5 732.7M128.8 736.1L140.0 736.1M140.0 733.9L140.0 736.6M140.0 733.9L150.5 733.9M140.0 736.6L141.3 736.6M141.3 735.0L141.3 737.9M141.3 735.0L150.5 735.0M141.3 737.9L143.3 737.9M143.3 736.2L143.3 738.0M143.3 736.2L150.5 736.2M143.3 738.0L146.0 738.0M146.0 737.4L146.0 738.6M146.0 737.4L150.5 737.4M146.0 738.6L150.5 738.6M125.3 775.6L126.1 775.6M126.1 759.5L126.1 775.6M126.1 759.5L129.0 759.5M129.0 743.7L129.0 761.1M129.0 743.7L132.4 743.7M132.4 741.6L132.4 752.9M132.4 741.6L143.0 741.6M143.0 740.2L143.0 742.1M143.0 740.2L144.5 740.2M144.5 739.7L144.5 740.9M144.5 739.7L150.5 739.7M144.5 740.9L150.5 740.9M143.0 742.1L150.5 742.1M132.4 752.9L133.2 752.9M133.2 748.1L133.2 754.7M133.2 748.1L135.4 748.1M135.4 745.8L135.4 751.1M135.4 745.8L139.8 745.8M139.8 745.0L139.8 747.9M139.8 745.0L142.0 745.0M142.0 744.0L142.0 746.0M142.0 744.0L144.5 744.0M144.5 743.2L144.5 744.4M144.5 743.2L150.5 743.2M144.5 744.4L150.5 744.4M142.0 746.0L146.4 746.0M146.4 745.6L146.4 746.7M146.4 745.6L150.5 745.6M146.4 746.7L150.5 746.7M139.8 747.9L150.5 747.9M135.4 751.1L140.5 751.1M140.5 749.5L140.5 752.1M140.5 749.5L146.0 749.5M146.0 749.1L146.0 750.2M146.0 749.1L150.5 749.1M146.0 750.2L150.5 750.2M140.5 752.1L145.9 752.1M145.9 751.4L145.9 752.6M145.9 751.4L150.5 751.4M145.9 752.6L150.5 752.6M133.2 754.7L141.3 754.7M141.3 753.7L141.3 756.4M141.3 753.7L150.5 753.7M141.3 756.4L142.1 756.4M142.1 754.9L142.1 756.7M142.1 754.9L150.5 754.9M142.1 756.7L145.8 756.7M145.8 756.1L145.8 757.2M145.8 756.1L150.5 756.1M145.8 757.2L150.5 757.2M129.0 761.1L135.8 761.1M135.8 759.2L135.8 764.5M135.8 759.2L140.3 759.2M140.3 758.7L140.3 761.1M140.3 758.7L144.9 758.7M144.9 758.4L144.9 759.6M144.9 758.4L150.5 758.4M144.9 759.6L150.5 759.6M140.3 761.1L146.0 761.1M146.0 760.8L146.0 761.9M146.0 760.8L150.5 760.8M146.0 761.9L150.5 761.9M135.8 764.5L138.0 764.5M138.0 763.9L138.0 768.4M138.0 763.9L142.7 763.9M142.7 763.1L142.7 764.7M142.7 763.1L150.5 763.1M142.7 764.7L146.0 764.7M146.0 764.3L146.0 765.4M146.0 764.3L150.5 764.3M146.0 765.4L150.5 765.4M138.0 768.4L142.4 768.4M142.4 766.6L142.4 768.4M142.4 766.6L150.5 766.6M142.4 768.4L146.2 768.4M146.2 767.8L146.2 768.9M146.2 767.8L150.5 767.8M146.2 768.9L150.5 768.9M126.1 775.6L132.0 775.6M132.0 772.8L132.0 780.0M132.0 772.8L138.9 772.8M138.9 772.6L138.9 775.4M138.9 772.6L140.3 772.6M140.3 770.6L140.3 772.9M140.3 770.6L144.5 770.6M144.5 770.1L144.5 771.3M144.5 770.1L150.5 770.1M144.5 771.3L150.5 771.3M140.3 772.9L146.3 772.9M146.3 772.4L146.3 773.6M146.3 772.4L150.5 772.4M146.3 773.6L150.5 773.6M138.9 775.4L146.0 775.4M146.0 774.8L146.0 775.9M146.0 774.8L150.5 774.8M146.0 775.9L150.5 775.9M132.0 780.0L136.0 780.0M136.0 778.4L136.0 782.9M136.0 778.4L143.2 778.4M143.2 777.1L143.2 778.6M143.2 777.1L150.5 777.1M143.2 778.6L144.7 778.6M144.7 778.3L144.7 779.4M144.7 778.3L150.5 778.3M144.7 779.4L150.5 779.4M136.0 782.9L138.9 782.9M138.9 781.2L138.9 784.6M138.9 781.2L143.3 781.2M143.3 780.6L143.3 782.6M143.3 780.6L150.5 780.6M143.3 782.6L144.8 782.6M144.8 781.8L144.8 783.0M144.8 781.8L150.5 781.8M144.8 783.0L150.5 783.0M138.9 784.6L145.9 784.6M145.9 784.1L145.9 785.3M145.9 784.1L150.5 784.1M145.9 785.3L150.5 785.3M91.4 881.0L98.9 881.0M98.9 815.5L98.9 945.0M98.9 815.5L116.9 815.5M116.9 802.7L116.9 829.3M116.9 802.7L124.3 802.7M124.3 792.3L124.3 804.2M124.3 792.3L133.6 792.3M133.6 789.2L133.6 798.2M133.6 789.2L137.7 789.2M137.7 788.3L137.7 791.5M137.7 788.3L142.8 788.3M142.8 786.7L142.8 788.8M142.8 786.7L145.9 786.7M145.9 786.5L145.9 787.6M145.9 786.5L150.5 786.5M145.9 787.6L150.5 787.6M142.8 788.8L150.5 788.8M137.7 791.5L141.8 791.5M141.8 790.8L141.8 792.3M141.8 790.8L146.0 790.8M146.0 790.0L146.0 791.1M146.0 790.0L150.5 790.0M146.0 791.1L150.5 791.1M141.8 792.3L150.5 792.3M133.6 798.2L136.7 798.2M136.7 795.9L136.7 800.1M136.7 795.9L139.5 795.9M139.5 795.2L139.5 797.4M139.5 795.2L141.6 795.2M141.6 793.8L141.6 795.8M141.6 793.8L144.9 793.8M144.9 793.5L144.9 794.6M144.9 793.5L150.5 793.5M144.9 794.6L150.5 794.6M141.6 795.8L150.5 795.8M139.5 797.4L145.5 797.4M145.5 797.0L145.5 798.1M145.5 797.0L150.5 797.0M145.5 798.1L150.5 798.1M136.7 800.1L144.6 800.1M144.6 799.3L144.6 800.5M144.6 799.3L150.5 799.3M144.6 800.5L150.5 800.5M124.3 804.2L135.7 804.2M135.7 802.3L135.7 806.7M135.7 802.3L145.5 802.3M145.5 801.6L145.5 802.8M145.5 801.6L150.5 801.6M145.5 802.8L150.5 802.8M135.7 806.7L136.8 806.7M136.8 804.9L136.8 809.6M136.8 804.9L139.7 804.9M139.7 804.0L139.7 806.7M139.7 804.0L150.5 804.0M139.7 806.7L143.1 806.7M143.1 805.1L143.1 807.1M143.1 805.1L150.5 805.1M143.1 807.1L145.4 807.1M145.4 806.3L145.4 807.5M145.4 806.3L150.5 806.3M145.4 807.5L150.5 807.5M136.8 809.6L143.1 809.6M143.1 808.7L143.1 810.6M143.1 808.7L150.5 808.7M143.1 810.6L145.2 810.6M145.2 809.8L145.2 811.0M145.2 809.8L150.5 809.8M145.2 811.0L150.5 811.0M116.9 829.3L121.5 829.3M121.5 822.0L121.5 840.7M121.5 822.0L132.2 822.0M132.2 820.9L132.2 826.6M132.2 820.9L135.0 820.9M135.0 817.0L135.0 822.8M135.0 817.0L138.1 817.0M138.1 813.4L138.1 819.2M138.1 813.4L138.9 813.4M138.9 812.2L138.9 816.5M138.9 812.2L150.5 812.2M138.9 816.5L139.7 816.5M139.7 815.1L139.7 817.2M139.7 815.1L141.9 815.1M141.9 813.7L141.9 815.7M141.9 813.7L144.7 813.7M144.7 813.3L144.7 814.5M144.7 813.3L150.5 813.3M144.7 814.5L150.5 814.5M141.9 815.7L150.5 815.7M139.7 817.2L145.7 817.2M145.7 816.8L145.7 818.0M145.7 816.8L150.5 816.8M145.7 818.0L150.5 818.0M138.1 819.2L150.5 819.2M135.0 822.8L141.9 822.8M141.9 821.2L141.9 823.8M141.9 821.2L143.7 821.2M143.7 820.3L143.7 822.0M143.7 820.3L150.5 820.3M143.7 822.0L144.5 822.0M144.5 821.5L144.5 822.7M144.5 821.5L150.5 821.5M144.5 822.7L150.5 822.7M141.9 823.8L150.5 823.8M132.2 826.6L141.3 826.6M141.3 825.0L141.3 827.7M141.3 825.0L150.5 825.0M141.3 827.7L142.1 827.7M142.1 826.2L142.1 828.1M142.1 826.2L150.5 826.2M142.1 828.1L144.3 828.1M144.3 827.3L144.3 828.5M144.3 827.3L150.5 827.3M144.3 828.5L150.5 828.5M121.5 840.7L130.8 840.7M130.8 832.8L130.8 846.7M130.8 832.8L132.3 832.8M132.3 830.3L132.3 837.7M132.3 830.3L145.4 830.3M145.4 829.7L145.4 830.9M145.4 829.7L150.5 829.7M145.4 830.9L150.5 830.9M132.3 837.7L134.0 837.7M134.0 833.4L134.0 841.7M134.0 833.4L138.9 833.4M138.9 833.2L138.9 835.9M138.9 833.2L143.7 833.2M143.7 832.0L143.7 833.9M143.7 832.0L150.5 832.0M143.7 833.9L146.1 833.9M146.1 833.2L146.1 834.4M146.1 833.2L150.5 833.2M146.1 834.4L150.5 834.4M138.9 835.9L146.4 835.9M146.4 835.5L146.4 836.7M146.4 835.5L150.5 835.5M146.4 836.7L150.5 836.7M134.0 841.7L138.3 841.7M138.3 838.9L138.3 842.1M138.3 838.9L141.9 838.9M141.9 838.7L141.9 840.2M141.9 838.7L146.1 838.7M146.1 837.9L146.1 839.0M146.1 837.9L150.5 837.9M146.1 839.0L150.5 839.0M141.9 840.2L150.5 840.2M138.3 842.1L143.5 842.1M143.5 842.1L143.5 843.7M143.5 842.1L146.4 842.1M146.4 841.4L146.4 842.5M146.4 841.4L150.5 841.4M146.4 842.5L150.5 842.5M143.5 843.7L150.5 843.7M130.8 846.7L136.5 846.7M136.5 845.4L136.5 848.8M136.5 845.4L145.2 845.4M145.2 844.9L145.2 846.0M145.2 844.9L150.5 844.9M145.2 846.0L150.5 846.0M136.5 848.8L140.3 848.8M140.3 847.2L140.3 850.7M140.3 847.2L150.5 847.2M140.3 850.7L141.1 850.7M141.1 849.0L141.1 851.9M141.1 849.0L143.3 849.0M143.3 848.8L143.3 850.7M143.3 848.8L145.5 848.8M145.5 848.4L145.5 849.5M145.5 848.4L150.5 848.4M145.5 849.5L150.5 849.5M143.3 850.7L150.5 850.7M141.1 851.9L150.5 851.9M98.9 945.0L108.3 945.0M108.3 903.0L108.3 989.0M108.3 903.0L118.6 903.0M118.6 888.6L118.6 917.6M118.6 888.6L125.4 888.6M125.4 864.7L125.4 900.6M125.4 864.7L126.4 864.7M126.4 860.3L126.4 873.2M126.4 860.3L134.8 860.3M134.8 856.2L134.8 864.0M134.8 856.2L136.1 856.2M136.1 853.8L136.1 858.1M136.1 853.8L144.3 853.8M144.3 853.1L144.3 854.2M144.3 853.1L150.5 853.1M144.3 854.2L150.5 854.2M136.1 858.1L138.0 858.1M138.0 856.3L138.0 860.5M138.0 856.3L145.0 856.3M145.0 855.4L145.0 856.6M145.0 855.4L150.5 855.4M145.0 856.6L150.5 856.6M138.0 860.5L140.6 860.5M140.6 859.6L140.6 861.2M140.6 859.6L143.2 859.6M143.2 857.7L143.2 859.6M143.2 857.7L150.5 857.7M143.2 859.6L145.9 859.6M145.9 858.9L145.9 860.1M145.9 858.9L150.5 858.9M145.9 860.1L150.5 860.1M140.6 861.2L150.5 861.2M134.8 864.0L143.7 864.0M143.7 862.9L143.7 864.7M143.7 862.9L145.3 862.9M145.3 862.4L145.3 863.6M145.3 862.4L150.5 862.4M145.3 863.6L150.5 863.6M143.7 864.7L150.5 864.7M126.4 873.2L128.6 873.2M128.6 868.1L128.6 885.1M128.6 868.1L135.3 868.1M135.3 866.5L135.3 874.1M135.3 866.5L143.6 866.5M143.6 866.3L143.6 868.2M143.6 866.3L145.7 866.3M145.7 865.9L145.7 867.1M145.7 865.9L150.5 865.9M145.7 867.1L150.5 867.1M143.6 868.2L150.5 868.2M135.3 874.1L138.0 874.1M138.0 871.4L138.0 875.9M138.0 871.4L138.9 871.4M138.9 870.0L138.9 872.3M138.9 870.0L144.7 870.0M144.7 869.4L144.7 870.6M144.7 869.4L150.5 869.4M144.7 870.6L150.5 870.6M138.9 872.3L142.5 872.3M142.5 871.7L142.5 873.4M142.5 871.7L150.5 871.7M142.5 873.4L144.9 873.4M144.9 872.9L144.9 874.1M144.9 872.9L150.5 872.9M144.9 874.1L150.5 874.1M138.0 875.9L145.0 875.9M145.0 875.2L145.0 876.4M145.0 875.2L150.5 875.2M145.0 876.4L150.5 876.4M128.6 885.1L131.1 885.1M131.1 880.9L131.1 889.8M131.1 880.9L136.2 880.9M136.2 878.3L136.2 882.8M136.2 878.3L144.7 878.3M144.7 877.6L144.7 878.8M144.7 877.6L150.5 877.6M144.7 878.8L150.5 878.8M136.2 882.8L139.1 882.8M139.1 882.1L139.1 884.6M139.1 882.1L139.9 882.1M139.9 879.9L139.9 882.1M139.9 879.9L150.5 879.9M139.9 882.1L141.8 882.1M141.8 881.1L141.8 883.0M141.8 881.1L150.5 881.1M141.8 883.0L145.0 883.0M145.0 882.3L145.0 883.4M145.0 882.3L150.5 882.3M145.0 883.4L150.5 883.4M139.1 884.6L150.5 884.6M131.1 889.8L135.8 889.8M135.8 887.1L135.8 892.7M135.8 887.1L138.5 887.1M138.5 886.2L138.5 889.1M138.5 886.2L144.3 886.2M144.3 885.8L144.3 886.9M144.3 885.8L150.5 885.8M144.3 886.9L150.5 886.9M138.5 889.1L142.5 889.1M142.5 888.1L142.5 890.2M142.5 888.1L150.5 888.1M142.5 890.2L146.1 890.2M146.1 889.3L146.1 890.4M146.1 889.3L150.5 889.3M146.1 890.4L150.5 890.4M135.8 892.7L141.3 892.7M141.3 892.2L141.3 894.4M141.3 892.2L144.7 892.2M144.7 891.6L144.7 892.8M144.7 891.6L150.5 891.6M144.7 892.8L150.5 892.8M141.3 894.4L145.0 894.4M145.0 893.9L145.0 895.1M145.0 893.9L150.5 893.9M145.0 895.1L150.5 895.1M125.4 900.6L134.9 900.6M134.9 898.3L134.9 904.5M134.9 898.3L140.1 898.3M140.1 897.7L140.1 900.2M140.1 897.7L142.8 897.7M142.8 896.3L142.8 897.9M142.8 896.3L150.5 896.3M142.8 897.9L145.4 897.9M145.4 897.4L145.4 898.6M145.4 897.4L150.5 897.4M145.4 898.6L150.5 898.6M140.1 900.2L144.9 900.2M144.9 899.8L144.9 901.0M144.9 899.8L150.5 899.8M144.9 901.0L150.5 901.0M134.9 904.5L140.2 904.5M140.2 903.2L140.2 906.8M140.2 903.2L141.9 903.2M141.9 902.8L141.9 905.3M141.9 902.8L145.6 902.8M145.6 902.1L145.6 903.3M145.6 902.1L150.5 902.1M145.6 903.3L150.5 903.3M141.9 905.3L144.3 905.3M144.3 904.5L144.3 905.6M144.3 904.5L150.5 904.5M144.3 905.6L150.5 905.6M140.2 906.8L150.5 906.8M118.6 917.6L126.2 917.6M126.2 911.8L126.2 935.3M126.2 911.8L132.8 911.8M132.8 908.9L132.8 920.2M132.8 908.9L140.3 908.9M140.3 908.0L140.3 911.0M140.3 908.0L150.5 908.0M140.3 911.0L141.9 911.0M141.9 909.7L141.9 911.5M141.9 909.7L145.6 909.7M145.6 909.1L145.6 910.3M145.6 909.1L150.5 909.1M145.6 910.3L150.5 910.3M141.9 911.5L150.5 911.5M132.8 920.2L135.7 920.2M135.7 914.7L135.7 922.3M135.7 914.7L138.1 914.7M138.1 912.6L138.1 915.4M138.1 912.6L150.5 912.6M138.1 915.4L139.0 915.4M139.0 914.5L139.0 917.6M139.0 914.5L146.0 914.5M146.0 913.8L146.0 915.0M146.0 913.8L150.5 913.8M146.0 915.0L150.5 915.0M139.0 917.6L140.5 917.6M140.5 916.1L140.5 918.6M140.5 916.1L150.5 916.1M140.5 918.6L143.5 918.6M143.5 917.6L143.5 919.6M143.5 917.6L144.7 917.6M144.7 917.3L144.7 918.5M144.7 917.3L150.5 917.3M144.7 918.5L150.5 918.5M143.5 919.6L150.5 919.6M135.7 922.3L142.4 922.3M142.4 920.8L142.4 922.4M142.4 920.8L150.5 920.8M142.4 922.4L145.8 922.4M145.8 922.0L145.8 923.2M145.8 922.0L150.5 922.0M145.8 923.2L150.5 923.2M126.2 935.3L128.5 935.3M128.5 931.6L128.5 948.6M128.5 931.6L134.2 931.6M134.2 928.3L134.2 934.7M134.2 928.3L136.0 928.3M136.0 925.3L136.0 929.1M136.0 925.3L142.1 925.3M142.1 924.3L142.1 926.2M142.1 924.3L150.5 924.3M142.1 926.2L144.3 926.2M144.3 925.5L144.3 926.7M144.3 925.5L150.5 925.5M144.3 926.7L150.5 926.7M136.0 929.1L140.4 929.1M140.4 927.8L140.4 930.5M140.4 927.8L150.5 927.8M140.4 930.5L141.2 930.5M141.2 929.0L141.2 931.3M141.2 929.0L150.5 929.0M141.2 931.3L142.5 931.3M142.5 931.0L142.5 932.5M142.5 931.0L145.6 931.0M145.6 930.2L145.6 931.3M145.6 930.2L150.5 930.2M145.6 931.3L150.5 931.3M142.5 932.5L150.5 932.5M134.2 934.7L141.0 934.7M141.0 933.7L141.0 936.0M141.0 933.7L150.5 933.7M141.0 936.0L143.9 936.0M143.9 935.4L143.9 937.2M143.9 935.4L145.3 935.4M145.3 934.8L145.3 936.0M145.3 934.8L150.5 934.8M145.3 936.0L150.5 936.0M143.9 937.2L150.5 937.2M128.5 948.6L130.9 948.6M130.9 943.5L130.9 951.3M130.9 943.5L137.2 943.5M137.2 939.7L137.2 943.6M137.2 939.7L141.4 939.7M141.4 939.3L141.4 941.8M141.4 939.3L142.3 939.3M142.3 938.3L142.3 940.4M142.3 938.3L150.5 938.3M142.3 940.4L146.3 940.4M146.3 939.5L146.3 940.7M146.3 939.5L150.5 939.5M146.3 940.7L150.5 940.7M141.4 941.8L150.5 941.8M137.2 943.6L143.7 943.6M143.7 943.0L143.7 945.0M143.7 943.0L150.5 943.0M143.7 945.0L144.8 945.0M144.8 944.2L144.8 945.3M144.8 944.2L150.5 944.2M144.8 945.3L150.5 945.3M130.9 951.3L135.3 951.3M135.3 948.2L135.3 952.4M135.3 948.2L141.8 948.2M141.8 947.5L141.8 950.0M141.8 947.5L142.6 947.5M142.6 946.5L142.6 948.6M142.6 946.5L150.5 946.5M142.6 948.6L146.0 948.6M146.0 947.7L146.0 948.9M146.0 947.7L150.5 947.7M146.0 948.9L150.5 948.9M141.8 950.0L150.5 950.0M135.3 952.4L139.5 952.4M139.5 952.0L139.5 954.6M139.5 952.0L146.2 952.0M146.2 951.2L146.2 952.4M146.2 951.2L150.5 951.2M146.2 952.4L150.5 952.4M139.5 954.6L142.1 954.6M142.1 953.5L142.1 955.3M142.1 953.5L150.5 953.5M142.1 955.3L146.4 955.3M146.4 954.7L146.4 955.9M146.4 954.7L150.5 954.7M146.4 955.9L150.5 955.9M108.3 989.0L112.6 989.0M112.6 982.3L112.6 1007.4M112.6 982.3L127.0 982.3M127.0 964.1L127.0 988.1M127.0 964.1L130.2 964.1M130.2 963.1L130.2 972.8M130.2 963.1L136.0 963.1M136.0 959.4L136.0 965.2M136.0 959.4L136.8 959.4M136.8 958.8L136.8 961.9M136.8 958.8L142.7 958.8M142.7 957.9L142.7 959.4M142.7 957.9L144.7 957.9M144.7 957.0L144.7 958.2M144.7 957.0L150.5 957.0M144.7 958.2L150.5 958.2M142.7 959.4L150.5 959.4M136.8 961.9L141.9 961.9M141.9 960.5L141.9 962.4M141.9 960.5L150.5 960.5M141.9 962.4L143.6 962.4M143.6 961.7L143.6 963.7M143.6 961.7L150.5 961.7M143.6 963.7L144.4 963.7M144.4 962.9L144.4 964.0M144.4 962.9L150.5 962.9M144.4 964.0L150.5 964.0M136.0 965.2L150.5 965.2M130.2 972.8L135.2 972.8M135.2 972.0L135.2 974.9M135.2 972.0L137.5 972.0M137.5 968.4L137.5 972.0M137.5 968.4L141.6 968.4M141.6 967.2L141.6 969.4M141.6 967.2L144.5 967.2M144.5 966.4L144.5 967.5M144.5 966.4L150.5 966.4M144.5 967.5L150.5 967.5M141.6 969.4L145.9 969.4M145.9 968.7L145.9 969.9M145.9 968.7L150.5 968.7M145.9 969.9L150.5 969.9M137.5 972.0L143.9 972.0M143.9 971.1L143.9 972.6M143.9 971.1L150.5 971.1M143.9 972.6L146.3 972.6M146.3 972.2L146.3 973.4M146.3 972.2L150.5 972.2M146.3 973.4L150.5 973.4M135.2 974.9L144.7 974.9M144.7 974.6L144.7 975.7M144.7 974.6L150.5 974.6M144.7 975.7L150.5 975.7M127.0 988.1L130.9 988.1M130.9 980.3L130.9 991.8M130.9 980.3L135.5 980.3M135.5 977.9L135.5 983.9M135.5 977.9L143.7 977.9M143.7 976.9L143.7 979.0M143.7 976.9L150.5 976.9M143.7 979.0L146.4 979.0M146.4 978.1L146.4 979.2M146.4 978.1L150.5 978.1M146.4 979.2L150.5 979.2M135.5 983.9L138.4 983.9M138.4 981.6L138.4 985.4M138.4 981.6L141.3 981.6M141.3 980.4L141.3 982.7M141.3 980.4L150.5 980.4M141.3 982.7L142.8 982.7M142.8 982.4L142.8 983.9M142.8 982.4L144.2 982.4M144.2 981.6L144.2 982.7M144.2 981.6L150.5 981.6M144.2 982.7L150.5 982.7M142.8 983.9L150.5 983.9M138.4 985.4L145.3 985.4M145.3 985.1L145.3 986.2M145.3 985.1L150.5 985.1M145.3 986.2L150.5 986.2M130.9 991.8L136.7 991.8M136.7 989.0L136.7 994.0M136.7 989.0L138.4 989.0M138.4 987.4L138.4 989.8M138.4 987.4L150.5 987.4M138.4 989.8L140.3 989.8M140.3 989.1L140.3 992.1M140.3 989.1L143.4 989.1M143.4 988.6L143.4 990.7M143.4 988.6L150.5 988.6M143.4 990.7L144.3 990.7M144.3 989.7L144.3 990.9M144.3 989.7L150.5 989.7M144.3 990.9L150.5 990.9M140.3 992.1L150.5 992.1M136.7 994.0L144.9 994.0M144.9 993.3L144.9 994.4M144.9 993.3L150.5 993.3M144.9 994.4L150.5 994.4M112.6 1007.4L127.1 1007.4M127.1 997.9L127.1 1030.8M127.1 997.9L133.1 997.9M133.1 997.9L133.1 1003.0M133.1 997.9L140.8 997.9M140.8 996.8L140.8 999.1M140.8 996.8L143.6 996.8M143.6 996.5L143.6 997.9M143.6 996.5L146.0 996.5M146.0 995.6L146.0 996.8M146.0 995.6L150.5 995.6M146.0 996.8L150.5 996.8M143.6 997.9L150.5 997.9M140.8 999.1L150.5 999.1M133.1 1003.0L136.0 1003.0M136.0 1000.9L136.0 1005.7M136.0 1000.9L144.5 1000.9M144.5 1000.3L144.5 1001.4M144.5 1000.3L150.5 1000.3M144.5 1001.4L150.5 1001.4M136.0 1005.7L139.2 1005.7M139.2 1003.8L139.2 1006.5M139.2 1003.8L143.3 1003.8M143.3 1003.2L143.3 1004.9M143.3 1003.2L144.8 1003.2M144.8 1002.6L144.8 1003.8M144.8 1002.6L150.5 1002.6M144.8 1003.8L150.5 1003.8M143.3 1004.9L150.5 1004.9M139.2 1006.5L146.0 1006.5M146.0 1006.1L146.0 1007.3M146.0 1006.1L150.5 1006.1M146.0 1007.3L150.5 1007.3M127.1 1030.8L127.9 1030.8M127.9 1017.6L127.9 1036.4M127.9 1017.6L130.4 1017.6M130.4 1014.4L130.4 1022.8M130.4 1014.4L135.4 1014.4M135.4 1012.4L135.4 1016.0M135.4 1012.4L138.7 1012.4M138.7 1009.0L138.7 1013.7M138.7 1009.0L142.9 1009.0M142.9 1008.8L142.9 1010.8M142.9 1008.8L144.6 1008.8M144.6 1008.4L144.6 1009.6M144.6 1008.4L150.5 1008.4M144.6 1009.6L150.5 1009.6M142.9 1010.8L150.5 1010.8M138.7 1013.7L142.9 1013.7M142.9 1012.2L142.9 1014.3M142.9 1012.2L145.0 1012.2M145.0 1011.9L145.0 1013.1M145.0 1011.9L150.5 1011.9M145.0 1013.1L150.5 1013.1M142.9 1014.3L150.5 1014.3M135.4 1016.0L146.3 1016.0M146.3 1015.4L146.3 1016.6M146.3 1015.4L150.5 1015.4M146.3 1016.6L150.5 1016.6M130.4 1022.8L131.2 1022.8M131.2 1022.5L131.2 1031.4M131.2 1022.5L137.2 1022.5M137.2 1019.6L137.2 1024.8M137.2 1019.6L138.0 1019.6M138.0 1017.8L138.0 1021.3M138.0 1017.8L150.5 1017.8M138.0 1021.3L139.8 1021.3M139.8 1020.5L139.8 1022.7M139.8 1020.5L142.5 1020.5M142.5 1019.0L142.5 1020.8M142.5 1019.0L150.5 1019.0M142.5 1020.8L146.5 1020.8M146.5 1020.1L146.5 1021.3M146.5 1020.1L150.5 1020.1M146.5 1021.3L150.5 1021.3M139.8 1022.7L145.1 1022.7M145.1 1022.5L145.1 1023.6M145.1 1022.5L150.5 1022.5M145.1 1023.6L150.5 1023.6M137.2 1024.8L150.5 1024.8M131.2 1031.4L136.6 1031.4M136.6 1030.6L136.6 1033.3M136.6 1030.6L138.1 1030.6M138.1 1026.4L138.1 1030.6M138.1 1026.4L142.8 1026.4M142.8 1026.4L142.8 1028.3M142.8 1026.4L145.2 1026.4M145.2 1026.0L145.2 1027.1M145.2 1026.0L150.5 1026.0M145.2 1027.1L150.5 1027.1M142.8 1028.3L150.5 1028.3M138.1 1030.6L141.8 1030.6M141.8 1029.5L141.8 1031.3M141.8 1029.5L150.5 1029.5M141.8 1031.3L145.9 1031.3M145.9 1030.6L145.9 1031.8M145.9 1030.6L150.5 1030.6M145.9 1031.8L150.5 1031.8M136.6 1033.3L146.0 1033.3M146.0 1033.0L146.0 1034.1M146.0 1033.0L150.5 1033.0M146.0 1034.1L150.5 1034.1M127.9 1036.4L139.8 1036.4M139.8 1035.3L139.8 1037.4M139.8 1035.3L150.5 1035.3M139.8 1037.4L141.8 1037.4M141.8 1036.5L141.8 1038.2M141.8 1036.5L150.5 1036.5M141.8 1038.2L144.4 1038.2M144.4 1037.6L144.4 1038.8M144.4 1037.6L150.5 1037.6M144.4 1038.8L150.5 1038.8" stroke="#1a1a1a" stroke-width="1.1" fill="none"/>
<rect x="148.5" y="478" width="3.9" height="561" fill="#111"/>
<rect x="146.5" y="476.5" width="592.5" height="310" fill="none" stroke="#e8191f" stroke-width="3"/>
<rect x="146.8" y="790" width="592.2" height="17" fill="none" stroke="#1f2a68" stroke-width="3.8"/>
<rect x="146.5" y="810.5" width="592.5" height="199" fill="none" stroke="#e8191f" stroke-width="3"/>
<rect x="146.8" y="1013" width="592.4" height="26.9" fill="none" stroke="#1f2a68" stroke-width="4"/>
<g><rect x="744.3" y="476.8" width="12" height="1.05" fill="#a50026"/><rect x="744.3" y="477.8" width="12" height="1.05" fill="#a70226"/><rect x="744.3" y="478.8" width="12" height="1.05" fill="#aa0426"/><rect x="744.3" y="479.8" width="12" height="1.05" fill="#ad0726"/><rect x="744.3" y="480.8" width="12" height="1.05" fill="#af0a26"/><rect x="744.3" y="481.8" width="12" height="1.05" fill="#b20d26"/><rect x="744.3" y="482.8" width="12" height="1.05" fill="#b51026"/><rect x="744.3" y="483.8" width="12" height="1.05" fill="#b81226"/><rect x="744.3" y="484.8" width="12" height="1.05" fill="#bb1526"/><rect x="744.3" y="485.8" width="12" height="1.05" fill="#be1826"/><rect x="744.3" y="486.8" width="12" height="1.05" fill="#c11b27"/><rect x="744.3" y="487.8" width="12" height="1.05" fill="#c41d27"/><rect x="744.3" y="488.8" width="12" height="1.05" fill="#c62027"/><rect x="744.3" y="489.8" width="12" height="1.05" fill="#c92327"/><rect x="744.3" y="490.8" width="12" height="1.05" fill="#cc2627"/><rect x="744.3" y="491.8" width="12" height="1.05" fill="#cf2827"/><rect x="744.3" y="492.8" width="12" height="1.05" fill="#d22b27"/><rect x="744.3" y="493.8" width="12" height="1.05" fill="#d52e27"/><rect x="744.3" y="494.8" width="12" height="1.05" fill="#d73127"/><rect x="744.3" y="495.8" width="12" height="1.05" fill="#d93429"/><rect x="744.3" y="496.8" width="12" height="1.05" fill="#db382b"/><rect x="744.3" y="497.8" width="12" height="1.05" fill="#dc3b2c"/><rect x="744.3" y="498.8" width="12" height="1.05" fill="#de3f2e"/><rect x="744.3" y="499.8" width="12" height="1.05" fill="#e0422f"/><rect x="744.3" y="500.8" width="12" height="1.05" fill="#e14631"/><rect x="744.3" y="501.8" width="12" height="1.05" fill="#e34933"/><rect x="744.3" y="502.8" width="12" height="1.05" fill="#e54d34"/><rect x="744.3" y="503.8" width="12" height="1.05" fill="#e65036"/><rect x="744.3" y="504.8" width="12" height="1.05" fill="#e85437"/><rect x="744.3" y="505.8" width="12" height="1.05" fill="#ea5739"/><rect x="744.3" y="506.8" width="12" height="1.05" fill="#eb5b3b"/><rect x="744.3" y="507.8" width="12" height="1.05" fill="#ed5e3c"/><rect x="744.3" y="508.8" width="12" height="1.05" fill="#ef623e"/><rect x="744.3" y="509.8" width="12" height="1.05" fill="#f0653f"/><rect x="744.3" y="510.8" width="12" height="1.05" fill="#f26941"/><rect x="744.3" y="511.8" width="12" height="1.05" fill="#f46c43"/><rect x="744.3" y="512.8" width="12" height="1.05" fill="#f47044"/><rect x="744.3" y="513.8" width="12" height="1.05" fill="#f57446"/><rect x="744.3" y="514.8" width="12" height="1.05" fill="#f57748"/><rect x="744.3" y="515.8" width="12" height="1.05" fill="#f67b4a"/><rect x="744.3" y="516.8" width="12" height="1.05" fill="#f67f4b"/><rect x="744.3" y="517.8" width="12" height="1.05" fill="#f7834d"/><rect x="744.3" y="518.8" width="12" height="1.05" fill="#f8864f"/><rect x="744.3" y="519.8" width="12" height="1.05" fill="#f88a50"/><rect x="744.3" y="520.8" width="12" height="1.05" fill="#f98e52"/><rect x="744.3" y="521.8" width="12" height="1.05" fill="#f99254"/><rect x="744.3" y="522.8" width="12" height="1.05" fill="#fa9556"/><rect x="744.3" y="523.8" width="12" height="1.05" fill="#fa9957"/><rect x="744.3" y="524.8" width="12" height="1.05" fill="#fb9d59"/><rect x="744.3" y="525.8" width="12" height="1.05" fill="#fba15b"/><rect x="744.3" y="526.8" width="12" height="1.05" fill="#fca45d"/><rect x="744.3" y="527.8" width="12" height="1.05" fill="#fca85e"/><rect x="744.3" y="528.8" width="12" height="1.05" fill="#fdac60"/><rect x="744.3" y="529.8" width="12" height="1.05" fill="#fdaf62"/><rect x="744.3" y="530.8" width="12" height="1.05" fill="#fdb265"/><rect x="744.3" y="531.8" width="12" height="1.05" fill="#fdb567"/><rect x="744.3" y="532.8" width="12" height="1.05" fill="#fdb86a"/><rect x="744.3" y="533.8" width="12" height="1.05" fill="#fdbb6d"/><rect x="744.3" y="534.8" width="12" height="1.05" fill="#fdbd70"/><rect x="744.3" y="535.8" width="12" height="1.05" fill="#fdc072"/><rect x="744.3" y="536.8" width="12" height="1.05" fill="#fdc375"/><rect x="744.3" y="537.8" width="12" height="1.05" fill="#fdc678"/><rect x="744.3" y="538.8" width="12" height="1.05" fill="#fec97a"/><rect x="744.3" y="539.8" width="12" height="1.05" fill="#fecc7d"/><rect x="744.3" y="540.8" width="12" height="1.05" fill="#fecf80"/><rect x="744.3" y="541.8" width="12" height="1.05" fill="#fed282"/><rect x="744.3" y="542.8" width="12" height="1.05" fill="#fed485"/><rect x="744.3" y="543.8" width="12" height="1.05" fill="#fed788"/><rect x="744.3" y="544.8" width="12" height="1.05" fill="#feda8b"/><rect x="744.3" y="545.8" width="12" height="1.05" fill="#fedd8d"/><rect x="744.3" y="546.8" width="12" height="1.05" fill="#fee090"/><rect x="744.3" y="547.8" width="12" height="1.05" fill="#fee293"/><rect x="744.3" y="548.8" width="12" height="1.05" fill="#fee495"/><rect x="744.3" y="549.8" width="12" height="1.05" fill="#fee598"/><rect x="744.3" y="550.8" width="12" height="1.05" fill="#fee79b"/><rect x="744.3" y="551.8" width="12" height="1.05" fill="#fee99d"/><rect x="744.3" y="552.8" width="12" height="1.05" fill="#feeba0"/><rect x="744.3" y="553.8" width="12" height="1.05" fill="#feeca3"/><rect x="744.3" y="554.8" width="12" height="1.05" fill="#feeea6"/><rect x="744.3" y="555.8" width="12" height="1.05" fill="#fff0a8"/><rect x="744.3" y="556.8" width="12" height="1.05" fill="#fff2ab"/><rect x="744.3" y="557.8" width="12" height="1.05" fill="#fff4ae"/><rect x="744.3" y="558.8" width="12" height="1.05" fill="#fff5b0"/><rect x="744.3" y="559.8" width="12" height="1.05" fill="#fff7b3"/><rect x="744.3" y="560.8" width="12" height="1.05" fill="#fff9b6"/><rect x="744.3" y="561.8" width="12" height="1.05" fill="#fffbb8"/><rect x="744.3" y="562.8" width="12" height="1.05" fill="#fffcbb"/><rect x="744.3" y="563.8" width="12" height="1.05" fill="#fffebe"/><rect x="744.3" y="564.8" width="12" height="1.05" fill="#feffc1"/><rect x="744.3" y="565.8" width="12" height="1.05" fill="#fcfec4"/><rect x="744.3" y="566.8" width="12" height="1.05" fill="#fafdc7"/><rect x="744.3" y="567.8" width="12" height="1.05" fill="#f9fdcb"/><rect x="744.3" y="568.8" width="12" height="1.05" fill="#f7fcce"/><rect x="744.3" y="569.8" width="12" height="1.05" fill="#f5fbd1"/><rect x="744.3" y="570.8" width="12" height="1.05" fill="#f3fad4"/><rect x="744.3" y="571.8" width="12" height="1.05" fill="#f2fad8"/><rect x="744.3" y="572.8" width="12" height="1.05" fill="#f0f9db"/><rect x="744.3" y="573.8" width="12" height="1.05" fill="#eef8de"/><rect x="744.3" y="574.8" width="12" height="1.05" fill="#ecf8e2"/><rect x="744.3" y="575.8" width="12" height="1.05" fill="#eaf7e5"/><rect x="744.3" y="576.8" width="12" height="1.05" fill="#e9f6e8"/><rect x="744.3" y="577.8" width="12" height="1.05" fill="#e7f6eb"/><rect x="744.3" y="578.8" width="12" height="1.05" fill="#e5f5ef"/><rect x="744.3" y="579.8" width="12" height="1.05" fill="#e3f4f2"/><rect x="744.3" y="580.8" width="12" height="1.05" fill="#e2f4f5"/><rect x="744.3" y="581.8" width="12" height="1.05" fill="#e0f3f8"/><rect x="744.3" y="582.8" width="12" height="1.05" fill="#dcf1f7"/><rect x="744.3" y="583.8" width="12" height="1.05" fill="#d9f0f6"/><rect x="744.3" y="584.8" width="12" height="1.05" fill="#d6eef5"/><rect x="744.3" y="585.8" width="12" height="1.05" fill="#d3edf4"/><rect x="744.3" y="586.8" width="12" height="1.05" fill="#d0ebf4"/><rect x="744.3" y="587.8" width="12" height="1.05" fill="#cdeaf3"/><rect x="744.3" y="588.8" width="12" height="1.05" fill="#cae8f2"/><rect x="744.3" y="589.8" width="12" height="1.05" fill="#c7e7f1"/><rect x="744.3" y="590.8" width="12" height="1.05" fill="#c4e5f0"/><rect x="744.3" y="591.8" width="12" height="1.05" fill="#c1e4ef"/><rect x="744.3" y="592.8" width="12" height="1.05" fill="#bee2ee"/><rect x="744.3" y="593.8" width="12" height="1.05" fill="#bbe1ee"/><rect x="744.3" y="594.8" width="12" height="1.05" fill="#b8dfed"/><rect x="744.3" y="595.8" width="12" height="1.05" fill="#b5deec"/><rect x="744.3" y="596.8" width="12" height="1.05" fill="#b2dceb"/><rect x="744.3" y="597.8" width="12" height="1.05" fill="#afdbea"/><rect x="744.3" y="598.8" width="12" height="1.05" fill="#acd9e9"/><rect x="744.3" y="599.8" width="12" height="1.05" fill="#a9d7e8"/><rect x="744.3" y="600.8" width="12" height="1.05" fill="#a6d5e7"/><rect x="744.3" y="601.8" width="12" height="1.05" fill="#a2d2e5"/><rect x="744.3" y="602.8" width="12" height="1.05" fill="#9fd0e4"/><rect x="744.3" y="603.8" width="12" height="1.05" fill="#9ccde2"/><rect x="744.3" y="604.8" width="12" height="1.05" fill="#99cae1"/><rect x="744.3" y="605.8" width="12" height="1.05" fill="#96c8e0"/><rect x="744.3" y="606.8" width="12" height="1.05" fill="#93c5de"/><rect x="744.3" y="607.8" width="12" height="1.05" fill="#8fc3dd"/><rect x="744.3" y="608.8" width="12" height="1.05" fill="#8cc0dc"/><rect x="744.3" y="609.8" width="12" height="1.05" fill="#89beda"/><rect x="744.3" y="610.8" width="12" height="1.05" fill="#86bbd9"/><rect x="744.3" y="611.8" width="12" height="1.05" fill="#83b9d7"/><rect x="744.3" y="612.8" width="12" height="1.05" fill="#80b6d6"/><rect x="744.3" y="613.8" width="12" height="1.05" fill="#7cb4d5"/><rect x="744.3" y="614.8" width="12" height="1.05" fill="#79b1d3"/><rect x="744.3" y="615.8" width="12" height="1.05" fill="#76afd2"/><rect x="744.3" y="616.8" width="12" height="1.05" fill="#73acd0"/><rect x="744.3" y="617.8" width="12" height="1.05" fill="#70a9cf"/><rect x="744.3" y="618.8" width="12" height="1.05" fill="#6ea6cd"/><rect x="744.3" y="619.8" width="12" height="1.05" fill="#6ba2cb"/><rect x="744.3" y="620.8" width="12" height="1.05" fill="#689fca"/><rect x="744.3" y="621.8" width="12" height="1.05" fill="#669cc8"/><rect x="744.3" y="622.8" width="12" height="1.05" fill="#6399c6"/><rect x="744.3" y="623.8" width="12" height="1.05" fill="#6095c5"/><rect x="744.3" y="624.8" width="12" height="1.05" fill="#5e92c3"/><rect x="744.3" y="625.8" width="12" height="1.05" fill="#5b8fc1"/><rect x="744.3" y="626.8" width="12" height="1.05" fill="#588cc0"/><rect x="744.3" y="627.8" width="12" height="1.05" fill="#5589be"/><rect x="744.3" y="628.8" width="12" height="1.05" fill="#5385bc"/><rect x="744.3" y="629.8" width="12" height="1.05" fill="#5082bb"/><rect x="744.3" y="630.8" width="12" height="1.05" fill="#4d7fb9"/><rect x="744.3" y="631.8" width="12" height="1.05" fill="#4b7cb7"/><rect x="744.3" y="632.8" width="12" height="1.05" fill="#4878b6"/><rect x="744.3" y="633.8" width="12" height="1.05" fill="#4575b4"/><rect x="744.3" y="634.8" width="12" height="1.05" fill="#4472b2"/><rect x="744.3" y="635.8" width="12" height="1.05" fill="#436eb1"/><rect x="744.3" y="636.8" width="12" height="1.05" fill="#426aaf"/><rect x="744.3" y="637.8" width="12" height="1.05" fill="#4167ad"/><rect x="744.3" y="638.8" width="12" height="1.05" fill="#3f63ab"/><rect x="744.3" y="639.8" width="12" height="1.05" fill="#3e60a9"/><rect x="744.3" y="640.8" width="12" height="1.05" fill="#3d5ca8"/><rect x="744.3" y="641.8" width="12" height="1.05" fill="#3c58a6"/><rect x="744.3" y="642.8" width="12" height="1.05" fill="#3b55a4"/><rect x="744.3" y="643.8" width="12" height="1.05" fill="#3a51a2"/><rect x="744.3" y="644.8" width="12" height="1.05" fill="#384ea1"/><rect x="744.3" y="645.8" width="12" height="1.05" fill="#374a9f"/><rect x="744.3" y="646.8" width="12" height="1.05" fill="#36469d"/><rect x="744.3" y="647.8" width="12" height="1.05" fill="#35439b"/><rect x="744.3" y="648.8" width="12" height="1.05" fill="#343f99"/><rect x="744.3" y="649.8" width="12" height="1.05" fill="#333b98"/><rect x="744.3" y="650.8" width="12" height="1.05" fill="#323896"/></g>
<text x="760.3" y="481.1" font-size="11.5" font-weight="normal" text-anchor="start" fill="#3a3a3a" >2</text>
<text x="760.3" y="525.5" font-size="11.5" font-weight="normal" text-anchor="start" fill="#3a3a3a" >1</text>
<text x="760.3" y="569.1" font-size="11.5" font-weight="normal" text-anchor="start" fill="#3a3a3a" >0</text>
<text x="760.3" y="612.9" font-size="11.5" font-weight="normal" text-anchor="start" fill="#3a3a3a" >-1</text>
<text x="760.3" y="657.1" font-size="11.5" font-weight="normal" text-anchor="start" fill="#3a3a3a" >-2</text>
<rect x="817.4" y="598.9" width="3.9" height="21.6" fill="#000"/><rect x="817.5" y="784.1" width="3.9" height="21.3" fill="#000"/><rect x="826.2" y="784.1" width="3.9" height="21.3" fill="#000"/><rect x="816.1" y="905.9" width="3.9" height="21.1" fill="#000"/><rect x="825.0" y="905.9" width="3.9" height="21.1" fill="#000"/><rect x="834.2" y="905.9" width="3.9" height="21.1" fill="#000"/><rect x="818.9" y="1018.1" width="3.9" height="21.7" fill="#000"/><path d="M825.0 1018.1L829.4 1018.1L834.8 1034.4L840.3 1018.1L844.9 1018.1L837.0 1039.8L832.6 1039.8Z" fill="#000"/>
<text transform="translate(189.9,1043.6) rotate(-90) scale(1,1.07)" font-size="9.45" text-anchor="end" fill="#222">FPKM.CK_1</text>
<text transform="translate(254.9,1043.6) rotate(-90) scale(1,1.07)" font-size="9.45" text-anchor="end" fill="#222">FPKM.CK_2</text>
<text transform="translate(320.1,1043.6) rotate(-90) scale(1,1.07)" font-size="9.45" text-anchor="end" fill="#222">FPKM.CK_3</text>
<text transform="translate(385.1,1043.6) rotate(-90) scale(1,1.07)" font-size="9.45" text-anchor="end" fill="#222">FPKM.CP_14h1</text>
<text transform="translate(450.2,1043.6) rotate(-90) scale(1,1.07)" font-size="9.45" text-anchor="end" fill="#222">FPKM.CP_14h2</text>
<text transform="translate(515.3,1043.6) rotate(-90) scale(1,1.07)" font-size="9.45" text-anchor="end" fill="#222">FPKM.CP_14h3</text>
<text transform="translate(580.5,1043.6) rotate(-90) scale(1,1.07)" font-size="9.45" text-anchor="end" fill="#222">FPKM.CP_24h1</text>
<text transform="translate(645.5,1043.6) rotate(-90) scale(1,1.07)" font-size="9.45" text-anchor="end" fill="#222">FPKM.CP_24h2</text>
<text transform="translate(710.6,1043.6) rotate(-90) scale(1,1.07)" font-size="9.45" text-anchor="end" fill="#222">FPKM.CP_24h3</text>
<text x="543.5" y="1214" font-size="22.7" font-weight="bold" text-anchor="middle" fill="#111" >KEGG Enrichment ScatterPlot</text>
<rect x="422.8" y="1240.5" width="241.8" height="515.0" fill="#fff"/>
<line x1="445.30" y1="1240.5" x2="445.30" y2="1755.5" stroke="#ebebeb" stroke-width="1.1"/><line x1="481.47" y1="1240.5" x2="481.47" y2="1755.5" stroke="#ebebeb" stroke-width="0.8"/><line x1="517.64" y1="1240.5" x2="517.64" y2="1755.5" stroke="#ebebeb" stroke-width="1.1"/><line x1="553.81" y1="1240.5" x2="553.81" y2="1755.5" stroke="#ebebeb" stroke-width="0.8"/><line x1="589.98" y1="1240.5" x2="589.98" y2="1755.5" stroke="#ebebeb" stroke-width="1.1"/><line x1="626.15" y1="1240.5" x2="626.15" y2="1755.5" stroke="#ebebeb" stroke-width="0.8"/><line x1="662.32" y1="1240.5" x2="662.32" y2="1755.5" stroke="#ebebeb" stroke-width="1.1"/><line x1="422.8" y1="1269.10" x2="664.6" y2="1269.10" stroke="#ebebeb" stroke-width="1.1"/><line x1="422.8" y1="1293.17" x2="664.6" y2="1293.17" stroke="#ebebeb" stroke-width="1.1"/><line x1="422.8" y1="1317.24" x2="664.6" y2="1317.24" stroke="#ebebeb" stroke-width="1.1"/><line x1="422.8" y1="1341.31" x2="664.6" y2="1341.31" stroke="#ebebeb" stroke-width="1.1"/><line x1="422.8" y1="1365.38" x2="664.6" y2="1365.38" stroke="#ebebeb" stroke-width="1.1"/><line x1="422.8" y1="1389.45" x2="664.6" y2="1389.45" stroke="#ebebeb" stroke-width="1.1"/><line x1="422.8" y1="1413.52" x2="664.6" y2="1413.52" stroke="#ebebeb" stroke-width="1.1"/><line x1="422.8" y1="1437.59" x2="664.6" y2="1437.59" stroke="#ebebeb" stroke-width="1.1"/><line x1="422.8" y1="1461.66" x2="664.6" y2="1461.66" stroke="#ebebeb" stroke-width="1.1"/><line x1="422.8" y1="1485.73" x2="664.6" y2="1485.73" stroke="#ebebeb" stroke-width="1.1"/><line x1="422.8" y1="1509.80" x2="664.6" y2="1509.80" stroke="#ebebeb" stroke-width="1.1"/><line x1="422.8" y1="1533.87" x2="664.6" y2="1533.87" stroke="#ebebeb" stroke-width="1.1"/><line x1="422.8" y1="1557.94" x2="664.6" y2="1557.94" stroke="#ebebeb" stroke-width="1.1"/><line x1="422.8" y1="1582.01" x2="664.6" y2="1582.01" stroke="#ebebeb" stroke-width="1.1"/><line x1="422.8" y1="1606.08" x2="664.6" y2="1606.08" stroke="#ebebeb" stroke-width="1.1"/><line x1="422.8" y1="1630.15" x2="664.6" y2="1630.15" stroke="#ebebeb" stroke-width="1.1"/><line x1="422.8" y1="1654.22" x2="664.6" y2="1654.22" stroke="#ebebeb" stroke-width="1.1"/><line x1="422.8" y1="1678.29" x2="664.6" y2="1678.29" stroke="#ebebeb" stroke-width="1.1"/><line x1="422.8" y1="1702.36" x2="664.6" y2="1702.36" stroke="#ebebeb" stroke-width="1.1"/><line x1="422.8" y1="1726.43" x2="664.6" y2="1726.43" stroke="#ebebeb" stroke-width="1.1"/>
<circle cx="456.8" cy="1269.10" r="6.8" fill="#4a4a4a" fill-opacity="0.8" stroke="#4a4a4a" stroke-opacity="0.5" stroke-width="0.7"/>
<circle cx="460.7" cy="1293.17" r="5.6" fill="#6d6662" fill-opacity="0.8" stroke="#6d6662" stroke-opacity="0.5" stroke-width="0.7"/>
<circle cx="456.8" cy="1317.24" r="7.0" fill="#69625c" fill-opacity="0.8" stroke="#69625c" stroke-opacity="0.5" stroke-width="0.7"/>
<circle cx="459.2" cy="1341.31" r="6.8" fill="#f2bdac" fill-opacity="0.8" stroke="#f2bdac" stroke-opacity="0.5" stroke-width="0.7"/>
<circle cx="476.1" cy="1365.38" r="5.3" fill="#eaa190" fill-opacity="0.8" stroke="#eaa190" stroke-opacity="0.5" stroke-width="0.7"/>
<circle cx="459.2" cy="1389.45" r="7.0" fill="#ea9e8b" fill-opacity="0.8" stroke="#ea9e8b" stroke-opacity="0.5" stroke-width="0.7"/>
<circle cx="464.1" cy="1413.52" r="6.15" fill="#d86d65" fill-opacity="0.8" stroke="#d86d65" stroke-opacity="0.5" stroke-width="0.7"/>
<circle cx="465.3" cy="1437.59" r="6.55" fill="#ce4e4b" fill-opacity="0.8" stroke="#ce4e4b" stroke-opacity="0.5" stroke-width="0.7"/>
<circle cx="463.4" cy="1461.66" r="7.15" fill="#c6363b" fill-opacity="0.8" stroke="#c6363b" stroke-opacity="0.5" stroke-width="0.7"/>
<circle cx="465.1" cy="1485.73" r="7.0" fill="#bc2431" fill-opacity="0.8" stroke="#bc2431" stroke-opacity="0.5" stroke-width="0.7"/>
<circle cx="479.8" cy="1509.80" r="6.1" fill="#b2182b" fill-opacity="0.8" stroke="#b2182b" stroke-opacity="0.5" stroke-width="0.7"/>
<circle cx="467.3" cy="1533.87" r="8" fill="#b2182b" fill-opacity="0.8" stroke="#b2182b" stroke-opacity="0.5" stroke-width="0.7"/>
<circle cx="470.7" cy="1557.94" r="7.7" fill="#b2182b" fill-opacity="0.8" stroke="#b2182b" stroke-opacity="0.5" stroke-width="0.7"/>
<circle cx="487.3" cy="1582.01" r="6.5" fill="#b2182b" fill-opacity="0.8" stroke="#b2182b" stroke-opacity="0.5" stroke-width="0.7"/>
<circle cx="465.5" cy="1606.08" r="9.2" fill="#b2182b" fill-opacity="0.8" stroke="#b2182b" stroke-opacity="0.5" stroke-width="0.7"/>
<circle cx="457.8" cy="1630.15" r="18.6" fill="#b2182b" fill-opacity="0.8" stroke="#b2182b" stroke-opacity="0.5" stroke-width="0.7"/>
<circle cx="461.6" cy="1654.22" r="12.8" fill="#b2182b" fill-opacity="0.8" stroke="#b2182b" stroke-opacity="0.5" stroke-width="0.7"/>
<circle cx="533.2" cy="1678.29" r="6.5" fill="#b2182b" fill-opacity="0.8" stroke="#b2182b" stroke-opacity="0.5" stroke-width="0.7"/>
<circle cx="487.3" cy="1702.36" r="8.6" fill="#b2182b" fill-opacity="0.8" stroke="#b2182b" stroke-opacity="0.5" stroke-width="0.7"/>
<circle cx="630" cy="1726.43" r="9.5" fill="#b2182b" fill-opacity="0.8" stroke="#b2182b" stroke-opacity="0.5" stroke-width="0.7"/>
<rect x="422.8" y="1240.5" width="241.8" height="515.0" fill="none" stroke="#666" stroke-width="1.2"/>
<text x="414.6" y="1274.2" font-size="14.52" font-weight="bold" text-anchor="end" fill="#111" >Other glycan degradation</text>
<text x="414.6" y="1298.27" font-size="14.52" font-weight="bold" text-anchor="end" fill="#111" >Zeatin biosynthesis</text>
<text x="414.6" y="1322.34" font-size="14.52" font-weight="bold" text-anchor="end" fill="#111" >Glycine, serine and threonine metabolism</text>
<text x="414.6" y="1346.41" font-size="14.52" font-weight="bold" text-anchor="end" fill="#111" >beta-Alanine metabolism</text>
<text x="414.6" y="1370.48" font-size="14.52" font-weight="bold" text-anchor="end" fill="#111" >Taurine and hypotaurine metabolism</text>
<text x="414.6" y="1394.55" font-size="14.52" font-weight="bold" text-anchor="end" fill="#111" >Porphyrin and chlorophyll metabolism</text>
<text x="414.6" y="1418.62" font-size="14.52" font-weight="bold" text-anchor="end" fill="#111" >Isoquinoline alkaloid biosynthesis</text>
<text x="414.6" y="1442.69" font-size="14.52" font-weight="bold" text-anchor="end" fill="#111" >Tropane, piperidine and pyridine alkaloid biosynthesis</text>
<text x="414.6" y="1466.76" font-size="14.52" font-weight="bold" text-anchor="end" fill="#111" >alpha-Linolenic acid metabolism</text>
<text x="414.6" y="1490.83" font-size="14.52" font-weight="bold" text-anchor="end" fill="#111" >Phenylalanine metabolism</text>
<text x="414.6" y="1514.9" font-size="14.52" font-weight="bold" text-anchor="end" fill="#111" >Anthocyanin biosynthesis</text>
<text x="414.6" y="1538.97" font-size="14.52" font-weight="bold" text-anchor="end" fill="#111" >Tryptophan metabolism</text>
<text x="414.6" y="1563.04" font-size="14.52" font-weight="bold" text-anchor="end" fill="#111" >Flavonoid biosynthesis</text>
<text x="414.6" y="1587.11" font-size="14.52" font-weight="bold" text-anchor="end" fill="#111" >Linoleic acid metabolism</text>
<text x="414.6" y="1611.18" font-size="14.52" font-weight="bold" text-anchor="end" fill="#111" >Fatty acid metabolism</text>
<text x="414.6" y="1635.25" font-size="14.52" font-weight="bold" text-anchor="end" fill="#111" >Plant-pathogen interaction</text>
<text x="414.6" y="1659.32" font-size="14.52" font-weight="bold" text-anchor="end" fill="#111" >Amino sugar and nucleotide sugar metabolism</text>
<text x="414.6" y="1683.39" font-size="14.52" font-weight="bold" text-anchor="end" fill="#111" >Caffeine metabolism</text>
<text x="414.6" y="1707.46" font-size="14.52" font-weight="bold" text-anchor="end" fill="#111" >Biosynthesis of unsaturated fatty acids</text>
<text x="414.6" y="1731.53" font-size="14.52" font-weight="bold" text-anchor="end" fill="#111" >Photosynthesis - antenna proteins</text>
<text x="446.0" y="1775.2" font-size="14.4" font-weight="bold" text-anchor="middle" fill="#111" >0.0</text>
<text x="518.34" y="1775.2" font-size="14.4" font-weight="bold" text-anchor="middle" fill="#111" >0.2</text>
<text x="590.68" y="1775.2" font-size="14.4" font-weight="bold" text-anchor="middle" fill="#111" >0.4</text>
<text x="663.02" y="1775.2" font-size="14.4" font-weight="bold" text-anchor="middle" fill="#111" >0.6</text>
<line x1="418.5" y1="1269.10" x2="422.8" y2="1269.10" stroke="#333" stroke-width="1.1"/><line x1="418.5" y1="1293.17" x2="422.8" y2="1293.17" stroke="#333" stroke-width="1.1"/><line x1="418.5" y1="1317.24" x2="422.8" y2="1317.24" stroke="#333" stroke-width="1.1"/><line x1="418.5" y1="1341.31" x2="422.8" y2="1341.31" stroke="#333" stroke-width="1.1"/><line x1="418.5" y1="1365.38" x2="422.8" y2="1365.38" stroke="#333" stroke-width="1.1"/><line x1="418.5" y1="1389.45" x2="422.8" y2="1389.45" stroke="#333" stroke-width="1.1"/><line x1="418.5" y1="1413.52" x2="422.8" y2="1413.52" stroke="#333" stroke-width="1.1"/><line x1="418.5" y1="1437.59" x2="422.8" y2="1437.59" stroke="#333" stroke-width="1.1"/><line x1="418.5" y1="1461.66" x2="422.8" y2="1461.66" stroke="#333" stroke-width="1.1"/><line x1="418.5" y1="1485.73" x2="422.8" y2="1485.73" stroke="#333" stroke-width="1.1"/><line x1="418.5" y1="1509.80" x2="422.8" y2="1509.80" stroke="#333" stroke-width="1.1"/><line x1="418.5" y1="1533.87" x2="422.8" y2="1533.87" stroke="#333" stroke-width="1.1"/><line x1="418.5" y1="1557.94" x2="422.8" y2="1557.94" stroke="#333" stroke-width="1.1"/><line x1="418.5" y1="1582.01" x2="422.8" y2="1582.01" stroke="#333" stroke-width="1.1"/><line x1="418.5" y1="1606.08" x2="422.8" y2="1606.08" stroke="#333" stroke-width="1.1"/><line x1="418.5" y1="1630.15" x2="422.8" y2="1630.15" stroke="#333" stroke-width="1.1"/><line x1="418.5" y1="1654.22" x2="422.8" y2="1654.22" stroke="#333" stroke-width="1.1"/><line x1="418.5" y1="1678.29" x2="422.8" y2="1678.29" stroke="#333" stroke-width="1.1"/><line x1="418.5" y1="1702.36" x2="422.8" y2="1702.36" stroke="#333" stroke-width="1.1"/><line x1="418.5" y1="1726.43" x2="422.8" y2="1726.43" stroke="#333" stroke-width="1.1"/><line x1="445.30" y1="1755.5" x2="445.30" y2="1759.0" stroke="#333" stroke-width="1.1"/><line x1="517.64" y1="1755.5" x2="517.64" y2="1759.0" stroke="#333" stroke-width="1.1"/><line x1="589.98" y1="1755.5" x2="589.98" y2="1759.0" stroke="#333" stroke-width="1.1"/><line x1="662.32" y1="1755.5" x2="662.32" y2="1759.0" stroke="#333" stroke-width="1.1"/>
<text x="544" y="1805.2" font-size="18" font-weight="bold" text-anchor="middle" fill="#111" >Rich Factor</text>
<text transform="translate(21.3,1497.7) rotate(-90) scale(1,1.1)" font-size="18.4" font-weight="bold" text-anchor="middle" fill="#111">KEGG Term</text>
<text x="688.6" y="1352.1" font-size="18" font-weight="bold" text-anchor="start" fill="#111" >Gene Number</text>
<circle cx="708.7" cy="1385.9" r="8.8" fill="#333"/>
<text x="739.2" y="1392.4" font-size="18" font-weight="bold" text-anchor="start" fill="#111" >20</text>
<circle cx="708.7" cy="1413.8" r="12.7" fill="#333"/>
<text x="739.2" y="1420.3" font-size="18" font-weight="bold" text-anchor="start" fill="#111" >40</text>
<circle cx="708.7" cy="1450.5" r="16.9" fill="#333"/>
<text x="739.2" y="1457.0" font-size="18" font-weight="bold" text-anchor="start" fill="#111" >60</text>
<text x="688.6" y="1517.3" font-size="18" font-weight="bold" text-anchor="start" fill="#111" >p Value</text>
<defs><linearGradient id="pg" x1="0" y1="0" x2="0" y2="1"><stop offset="0" stop-color="#4d4d4d"/><stop offset="0.25" stop-color="#8c7e77"/><stop offset="0.5" stop-color="#f6dcca"/><stop offset="0.75" stop-color="#e08f86"/><stop offset="1" stop-color="#b2182b"/></linearGradient></defs>
<rect x="687.6" y="1539.7" width="23.8" height="118.5" fill="url(#pg)"/>
<text x="721.2" y="1546.3" font-size="18" font-weight="bold" text-anchor="start" fill="#111" >1.00e-01</text>
<text x="721.2" y="1606" font-size="18" font-weight="bold" text-anchor="start" fill="#111" >5.00e-02</text>
<text x="721.2" y="1665" font-size="18" font-weight="bold" text-anchor="start" fill="#111" >2.54e-28</text>
<line x1="108" y1="1463" x2="158" y2="1463" stroke="#4472c4" stroke-width="1.7"/>
<path d="M157 1454.8L173 1463L157 1471.2Z" fill="#4472c4"/>
<line x1="148.2" y1="1485.5" x2="198.2" y2="1485.5" stroke="#4472c4" stroke-width="1.7"/>
<path d="M197.2 1477.3L213.8 1485.5L197.2 1493.7Z" fill="#4472c4"/>
<line x1="147" y1="1510.4" x2="197" y2="1510.4" stroke="#4472c4" stroke-width="1.7"/>
<path d="M196 1502.2L212.8 1510.4L196 1518.6000000000001Z" fill="#4472c4"/>
<line x1="147" y1="1532.8" x2="197" y2="1532.8" stroke="#4472c4" stroke-width="1.7"/>
<path d="M196 1524.6L212.8 1532.8L196 1541.0Z" fill="#4472c4"/>
<line x1="147" y1="1555.3" x2="197" y2="1555.3" stroke="#4472c4" stroke-width="1.7"/>
<path d="M196 1547.1L212.8 1555.3L196 1563.5Z" fill="#4472c4"/>
<line x1="147" y1="1580.6" x2="197" y2="1580.6" stroke="#4472c4" stroke-width="1.7"/>
<path d="M196 1572.3999999999999L212.8 1580.6L196 1588.8Z" fill="#4472c4"/>
<line x1="147" y1="1605.7" x2="197" y2="1605.7" stroke="#4472c4" stroke-width="1.7"/>
<path d="M196 1597.5L212.8 1605.7L196 1613.9Z" fill="#4472c4"/>
<line x1="147" y1="1629.9" x2="197" y2="1629.9" stroke="#4472c4" stroke-width="1.7"/>
<path d="M196 1621.7L212.8 1629.9L196 1638.1000000000001Z" fill="#4472c4"/>
<line x1="57" y1="1702.7" x2="107.3" y2="1702.7" stroke="#4472c4" stroke-width="1.7"/>
<path d="M106.3 1694.5L122.8 1702.7L106.3 1710.9Z" fill="#4472c4"/>
</svg></body></html>
